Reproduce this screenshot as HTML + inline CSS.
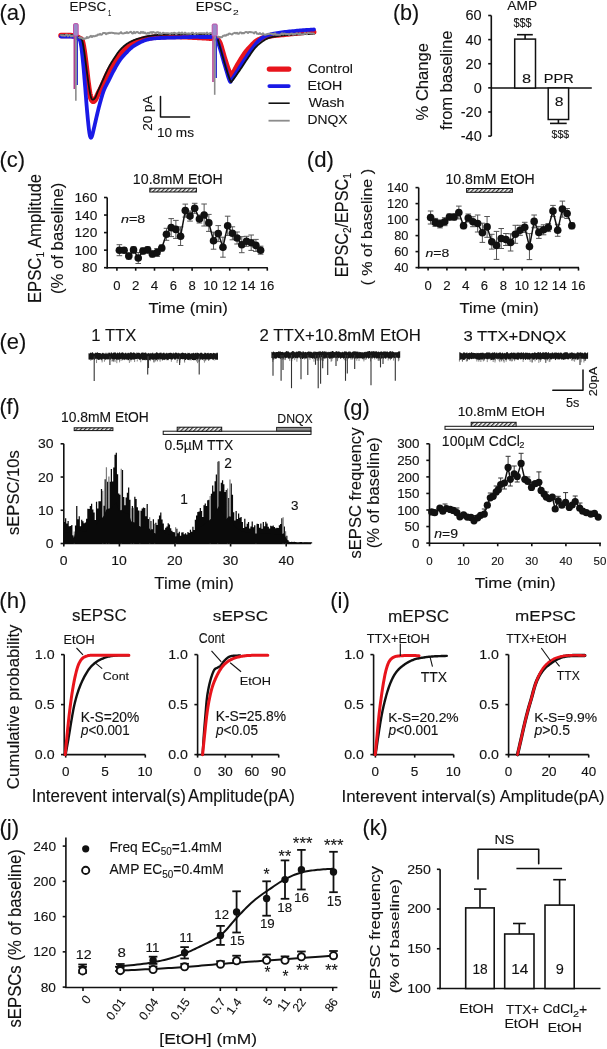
<!DOCTYPE html>
<html><head><meta charset="utf-8"><style>
html,body{margin:0;padding:0;background:#fff;width:607px;height:1049px;overflow:hidden}
svg{display:block;will-change:transform}
text{font-family:"Liberation Sans",sans-serif;stroke:#111;stroke-width:0.12px;paint-order:stroke}
</style></head><body>
<svg width="607" height="1049" viewBox="0 0 607 1049">
<defs>
<pattern id="hatch" patternUnits="userSpaceOnUse" width="3" height="3" patternTransform="rotate(45)">
<rect width="3" height="3" fill="#fff"/><rect width="1.3" height="3" fill="#333"/></pattern>
<pattern id="dots" patternUnits="userSpaceOnUse" width="2" height="2">
<rect width="2" height="2" fill="#bbb"/><rect width="1" height="1" fill="#555"/></pattern>
</defs>
<rect width="607" height="1049" fill="#fff"/>
<text x="-0.63" y="20.25" font-size="22.15" textLength="27.07" lengthAdjust="spacingAndGlyphs" fill="#111">(a)</text>
<text x="392.90" y="19.56" font-size="21.61" textLength="26.41" lengthAdjust="spacingAndGlyphs" fill="#111">(b)</text>
<text x="-0.62" y="166.77" font-size="22.04" textLength="25.70" lengthAdjust="spacingAndGlyphs" fill="#111">(c)</text>
<text x="306.87" y="167.05" font-size="22.15" textLength="27.07" lengthAdjust="spacingAndGlyphs" fill="#111">(d)</text>
<text x="-0.62" y="348.69" font-size="21.94" textLength="26.81" lengthAdjust="spacingAndGlyphs" fill="#111">(e)</text>
<text x="-0.60" y="414.16" font-size="21.61" textLength="20.40" lengthAdjust="spacingAndGlyphs" fill="#111">(f)</text>
<text x="342.88" y="415.09" font-size="21.94" textLength="26.81" lengthAdjust="spacingAndGlyphs" fill="#111">(g)</text>
<text x="-0.64" y="607.63" font-size="22.26" textLength="27.20" lengthAdjust="spacingAndGlyphs" fill="#111">(h)</text>
<text x="330.16" y="607.63" font-size="22.26" textLength="19.77" lengthAdjust="spacingAndGlyphs" fill="#111">(i)</text>
<text x="-0.64" y="835.00" font-size="22.37" textLength="19.86" lengthAdjust="spacingAndGlyphs" fill="#111">(j)</text>
<text x="362.60" y="834.76" font-size="21.61" textLength="25.20" lengthAdjust="spacingAndGlyphs" fill="#111">(k)</text>
<polyline points="61.00,35.50 61.74,35.51 62.73,35.51 63.91,35.51 65.22,35.51 66.62,35.51 68.06,35.53 69.46,35.56 70.79,35.61 71.99,35.69 73.00,35.80 73.86,35.94 74.63,36.11 75.34,36.31 75.98,36.53 76.56,36.76 77.10,37.01 77.61,37.26 78.09,37.51 78.55,37.76 79.00,38.00 79.43,38.21 79.81,38.37 80.15,38.51 80.46,38.64 80.75,38.79 81.02,38.98 81.27,39.23 81.51,39.55 81.75,39.97 82.00,40.50 82.24,41.14 82.46,41.86 82.67,42.66 82.87,43.53 83.06,44.47 83.25,45.47 83.43,46.53 83.62,47.64 83.80,48.80 84.00,50.00 84.20,51.27 84.40,52.62 84.60,54.03 84.80,55.51 85.00,57.03 85.20,58.59 85.40,60.18 85.60,61.78 85.80,63.39 86.00,65.00 86.20,66.64 86.40,68.34 86.60,70.08 86.80,71.85 87.00,73.62 87.20,75.39 87.40,77.13 87.60,78.82 87.80,80.45 88.00,82.00 88.20,83.49 88.39,84.97 88.58,86.41 88.78,87.82 88.97,89.19 89.16,90.50 89.36,91.74 89.57,92.91 89.78,94.00 90.00,95.00 90.23,95.92 90.47,96.76 90.71,97.53 90.96,98.24 91.22,98.88 91.48,99.44 91.73,99.94 91.99,100.36 92.25,100.72 92.50,101.00 92.75,101.21 92.99,101.33 93.23,101.37 93.48,101.34 93.72,101.25 93.96,101.10 94.21,100.89 94.47,100.63 94.73,100.33 95.00,100.00 95.28,99.61 95.55,99.15 95.83,98.63 96.12,98.06 96.41,97.44 96.70,96.78 97.01,96.10 97.33,95.41 97.66,94.70 98.00,94.00 98.36,93.29 98.74,92.54 99.13,91.78 99.53,90.99 99.94,90.19 100.35,89.37 100.77,88.54 101.18,87.70 101.60,86.85 102.00,86.00 102.40,85.14 102.80,84.25 103.20,83.34 103.60,82.42 104.00,81.50 104.40,80.58 104.80,79.66 105.20,78.75 105.60,77.86 106.00,77.00 106.40,76.16 106.78,75.34 107.17,74.53 107.55,73.73 107.94,72.94 108.33,72.15 108.73,71.37 109.14,70.58 109.56,69.80 110.00,69.00 110.46,68.20 110.94,67.38 111.43,66.57 111.93,65.75 112.44,64.94 112.95,64.13 113.47,63.33 113.98,62.54 114.50,61.76 115.00,61.00 115.50,60.26 115.98,59.52 116.47,58.80 116.95,58.08 117.44,57.38 117.93,56.68 118.43,55.99 118.94,55.32 119.46,54.66 120.00,54.00 120.55,53.36 121.12,52.72 121.70,52.09 122.28,51.48 122.88,50.88 123.48,50.28 124.09,49.70 124.72,49.12 125.36,48.55 126.00,48.00 126.65,47.45 127.30,46.91 127.96,46.38 128.63,45.86 129.31,45.34 130.01,44.84 130.72,44.36 131.46,43.89 132.21,43.43 133.00,43.00 133.82,42.58 134.69,42.18 135.58,41.78 136.50,41.41 137.44,41.04 138.38,40.70 139.31,40.37 140.23,40.06 141.13,39.77 142.00,39.50 142.83,39.25 143.63,39.03 144.41,38.84 145.18,38.66 145.94,38.49 146.70,38.34 147.48,38.20 148.29,38.07 149.12,37.93 150.00,37.80 150.90,37.67 151.79,37.54 152.70,37.43 153.62,37.32 154.56,37.21 155.54,37.12 156.57,37.03 157.65,36.94 158.79,36.87 160.00,36.80 161.30,36.74 162.68,36.68 164.13,36.63 165.64,36.59 167.19,36.56 168.76,36.53 170.34,36.51 171.92,36.50 173.48,36.49 175.00,36.50 176.50,36.52 178.00,36.54 179.50,36.58 181.00,36.63 182.50,36.68 184.00,36.74 185.50,36.80 187.00,36.87 188.50,36.93 190.00,37.00 191.54,37.07 193.14,37.15 194.78,37.23 196.43,37.31 198.06,37.40 199.65,37.49 201.16,37.57 202.58,37.65 203.86,37.73 205.00,37.80 205.99,37.86 206.87,37.93 207.65,37.99 208.34,38.05 208.94,38.10 209.46,38.15 209.92,38.20 210.33,38.24 210.68,38.27 211.00,38.30" fill="none" stroke="#e8141c" stroke-width="5.5" stroke-linejoin="round" stroke-linecap="round"/>
<polyline points="218.00,39.50 218.14,39.73 218.32,39.99 218.53,40.28 218.77,40.62 219.03,41.00 219.31,41.44 219.60,41.96 219.90,42.55 220.20,43.23 220.50,44.00 220.81,44.90 221.14,45.94 221.48,47.08 221.83,48.31 222.19,49.59 222.55,50.91 222.92,52.24 223.28,53.54 223.65,54.81 224.00,56.00 224.35,57.15 224.71,58.31 225.06,59.47 225.42,60.62 225.78,61.75 226.13,62.86 226.48,63.95 226.83,65.01 227.17,66.03 227.50,67.00 227.83,67.96 228.16,68.94 228.50,69.90 228.83,70.85 229.15,71.75 229.47,72.59 229.77,73.36 230.06,74.02 230.34,74.58 230.60,75.00 230.82,75.30 231.00,75.52 231.14,75.64 231.27,75.68 231.40,75.62 231.54,75.48 231.70,75.25 231.91,74.92 232.17,74.51 232.50,74.00 232.90,73.37 233.35,72.59 233.84,71.69 234.37,70.70 234.93,69.62 235.52,68.50 236.13,67.36 236.75,66.21 237.37,65.08 238.00,64.00 238.64,62.93 239.30,61.82 239.99,60.68 240.69,59.53 241.41,58.38 242.13,57.23 242.85,56.11 243.58,55.02 244.29,53.98 245.00,53.00 245.70,52.06 246.42,51.16 247.13,50.28 247.85,49.44 248.56,48.62 249.27,47.84 249.97,47.09 250.66,46.36 251.34,45.67 252.00,45.00 252.62,44.37 253.20,43.78 253.75,43.23 254.28,42.71 254.81,42.22 255.36,41.75 255.94,41.30 256.56,40.86 257.24,40.43 258.00,40.00 258.81,39.58 259.63,39.18 260.49,38.79 261.38,38.42 262.31,38.06 263.30,37.72 264.36,37.39 265.49,37.08 266.70,36.78 268.00,36.50 269.43,36.24 270.98,36.00 272.65,35.77 274.39,35.57 276.19,35.38 278.01,35.19 279.83,35.02 281.62,34.84 283.35,34.67 285.00,34.50 286.59,34.33 288.14,34.16 289.68,34.00 291.19,33.84 292.69,33.69 294.17,33.54 295.64,33.40 297.10,33.26 298.55,33.13 300.00,33.00 301.50,32.88 303.09,32.75 304.71,32.63 306.34,32.52 307.94,32.41 309.46,32.30 310.86,32.21 312.11,32.13 313.17,32.06 314.00,32.00" fill="none" stroke="#e8141c" stroke-width="5" stroke-linejoin="round" stroke-linecap="round"/>
<polyline points="61.00,36.50 61.74,36.51 62.73,36.51 63.91,36.51 65.22,36.51 66.62,36.51 68.06,36.53 69.46,36.56 70.79,36.61 71.99,36.69 73.00,36.80 73.86,36.93 74.65,37.06 75.37,37.20 76.02,37.36 76.62,37.54 77.18,37.76 77.68,38.00 78.15,38.29 78.59,38.62 79.00,39.00 79.36,39.40 79.66,39.78 79.89,40.17 80.09,40.60 80.25,41.08 80.39,41.63 80.53,42.27 80.66,43.04 80.82,43.94 81.00,45.00 81.20,46.23 81.40,47.60 81.60,49.10 81.80,50.72 82.00,52.44 82.20,54.24 82.40,56.11 82.60,58.04 82.80,60.01 83.00,62.00 83.20,64.05 83.40,66.18 83.60,68.40 83.80,70.67 84.00,73.00 84.20,75.37 84.40,77.76 84.60,80.18 84.80,82.59 85.00,85.00 85.20,87.44 85.40,89.95 85.60,92.51 85.80,95.10 86.00,97.69 86.20,100.26 86.40,102.80 86.60,105.29 86.80,107.69 87.00,110.00 87.20,112.26 87.41,114.52 87.62,116.77 87.82,118.97 88.03,121.11 88.24,123.15 88.44,125.09 88.63,126.89 88.82,128.54 89.00,130.00 89.17,131.28 89.33,132.41 89.49,133.39 89.64,134.25 89.78,134.98 89.92,135.61 90.07,136.14 90.21,136.59 90.35,136.98 90.50,137.30 90.65,137.55 90.79,137.70 90.93,137.75 91.08,137.72 91.22,137.61 91.36,137.42 91.51,137.15 91.67,136.83 91.83,136.44 92.00,136.00 92.18,135.49 92.35,134.91 92.53,134.25 92.72,133.52 92.91,132.73 93.10,131.88 93.31,130.98 93.53,130.03 93.76,129.03 94.00,128.00 94.26,126.90 94.54,125.70 94.83,124.44 95.13,123.11 95.44,121.75 95.75,120.37 96.07,118.98 96.38,117.62 96.70,116.28 97.00,115.00 97.30,113.76 97.58,112.55 97.87,111.36 98.15,110.18 98.44,109.00 98.73,107.82 99.03,106.64 99.34,105.45 99.66,104.24 100.00,103.00 100.35,101.73 100.72,100.42 101.09,99.08 101.48,97.73 101.88,96.38 102.28,95.03 102.70,93.71 103.12,92.42 103.56,91.18 104.00,90.00 104.46,88.88 104.94,87.81 105.43,86.78 105.93,85.78 106.44,84.81 106.95,83.86 107.47,82.91 107.98,81.95 108.50,80.99 109.00,80.00 109.50,79.00 109.98,78.00 110.47,77.00 110.95,76.00 111.44,75.00 111.93,74.00 112.43,73.00 112.94,72.00 113.46,71.00 114.00,70.00 114.56,68.99 115.14,67.95 115.73,66.91 116.33,65.86 116.94,64.81 117.55,63.78 118.17,62.78 118.78,61.81 119.40,60.88 120.00,60.00 120.60,59.18 121.18,58.40 121.77,57.66 122.35,56.96 122.94,56.28 123.53,55.62 124.13,54.97 124.74,54.32 125.36,53.67 126.00,53.00 126.65,52.32 127.30,51.64 127.96,50.97 128.63,50.29 129.31,49.62 130.01,48.97 130.72,48.32 131.46,47.70 132.21,47.09 133.00,46.50 133.82,45.93 134.69,45.36 135.58,44.81 136.50,44.27 137.44,43.75 138.38,43.25 139.31,42.77 140.23,42.32 141.13,41.89 142.00,41.50 142.83,41.14 143.63,40.82 144.41,40.52 145.18,40.25 145.94,40.00 146.70,39.77 147.48,39.56 148.29,39.36 149.12,39.18 150.00,39.00 150.90,38.84 151.79,38.70 152.70,38.57 153.62,38.47 154.56,38.38 155.54,38.29 156.57,38.22 157.65,38.14 158.79,38.07 160.00,38.00 161.30,37.93 162.68,37.87 164.13,37.81 165.64,37.76 167.19,37.72 168.76,37.68 170.34,37.63 171.92,37.59 173.48,37.55 175.00,37.50 176.50,37.45 178.00,37.39 179.50,37.33 181.00,37.28 182.50,37.22 184.00,37.16 185.50,37.11 187.00,37.07 188.50,37.03 190.00,37.00 191.54,36.98 193.14,36.97 194.78,36.96 196.43,36.96 198.06,36.97 199.65,36.98 201.16,36.98 202.58,36.99 203.86,37.00 205.00,37.00 205.99,37.00 206.87,37.00 207.65,37.00 208.34,37.00 208.94,37.00 209.46,37.00 209.92,37.00 210.33,37.00 210.68,37.00 211.00,37.00" fill="none" stroke="#1a1ae6" stroke-width="3.8" stroke-linejoin="round" stroke-linecap="round"/>
<polyline points="217.30,40.00 217.52,40.70 217.80,41.60 218.13,42.66 218.50,43.84 218.90,45.12 219.32,46.48 219.75,47.88 220.18,49.28 220.60,50.66 221.00,52.00 221.39,53.32 221.77,54.66 222.16,56.03 222.55,57.43 222.94,58.84 223.34,60.26 223.75,61.69 224.16,63.13 224.57,64.57 225.00,66.00 225.45,67.50 225.92,69.12 226.42,70.81 226.93,72.53 227.43,74.21 227.93,75.83 228.40,77.32 228.84,78.64 229.25,79.75 229.60,80.60 229.88,81.20 230.08,81.60 230.22,81.83 230.33,81.91 230.43,81.84 230.54,81.65 230.68,81.35 230.87,80.96 231.14,80.51 231.50,80.00 231.96,79.39 232.50,78.62 233.10,77.72 233.74,76.72 234.43,75.65 235.14,74.52 235.87,73.37 236.59,72.21 237.31,71.08 238.00,70.00 238.68,68.94 239.37,67.85 240.06,66.74 240.76,65.62 241.47,64.50 242.18,63.38 242.88,62.26 243.59,61.15 244.30,60.06 245.00,59.00 245.70,57.96 246.38,56.93 247.07,55.91 247.75,54.90 248.44,53.91 249.13,52.92 249.83,51.93 250.54,50.95 251.26,49.98 252.00,49.00 252.75,48.01 253.50,47.00 254.26,45.97 255.03,44.95 255.81,43.94 256.61,42.95 257.42,42.00 258.26,41.10 259.11,40.27 260.00,39.50 260.90,38.81 261.79,38.17 262.70,37.59 263.62,37.06 264.56,36.56 265.54,36.10 266.57,35.67 267.65,35.27 268.79,34.88 270.00,34.50 271.30,34.14 272.68,33.82 274.13,33.53 275.64,33.27 277.19,33.03 278.76,32.81 280.34,32.60 281.92,32.40 283.48,32.20 285.00,32.00 286.50,31.81 288.02,31.63 289.53,31.46 291.05,31.30 292.56,31.16 294.07,31.02 295.57,30.88 297.06,30.75 298.54,30.63 300.00,30.50 301.50,30.38 303.09,30.25 304.71,30.13 306.34,30.02 307.94,29.91 309.46,29.80 310.86,29.71 312.11,29.63 313.17,29.56 314.00,29.50" fill="none" stroke="#1a1ae6" stroke-width="3.8" stroke-linejoin="round" stroke-linecap="round"/>
<polyline points="61.00,35.00 61.74,34.99 62.73,34.96 63.91,34.92 65.22,34.88 66.62,34.84 68.06,34.82 69.46,34.82 70.79,34.84 71.99,34.90 73.00,35.00 73.86,35.15 74.63,35.34 75.34,35.57 75.98,35.82 76.56,36.09 77.10,36.38 77.61,36.67 78.09,36.96 78.55,37.24 79.00,37.50 79.43,37.72 79.81,37.88 80.15,38.01 80.46,38.14 80.75,38.28 81.02,38.46 81.27,38.70 81.51,39.02 81.75,39.45 82.00,40.00 82.24,40.67 82.46,41.44 82.67,42.29 82.87,43.22 83.06,44.22 83.25,45.28 83.43,46.40 83.62,47.56 83.80,48.76 84.00,50.00 84.20,51.30 84.40,52.68 84.60,54.13 84.80,55.64 85.00,57.19 85.20,58.76 85.40,60.34 85.60,61.92 85.80,63.48 86.00,65.00 86.20,66.51 86.40,68.03 86.60,69.56 86.80,71.10 87.00,72.62 87.20,74.14 87.40,75.65 87.60,77.13 87.80,78.58 88.00,80.00 88.20,81.41 88.40,82.84 88.60,84.26 88.80,85.67 89.00,87.04 89.20,88.38 89.40,89.66 89.60,90.86 89.80,91.98 90.00,93.00 90.20,93.94 90.38,94.81 90.57,95.62 90.75,96.37 90.94,97.04 91.13,97.65 91.33,98.18 91.54,98.63 91.76,99.01 92.00,99.30 92.26,99.50 92.54,99.62 92.83,99.65 93.13,99.60 93.44,99.48 93.75,99.30 94.07,99.05 94.38,98.75 94.70,98.40 95.00,98.00 95.30,97.54 95.58,97.00 95.87,96.38 96.15,95.71 96.44,94.98 96.73,94.22 97.03,93.43 97.34,92.62 97.66,91.81 98.00,91.00 98.36,90.18 98.74,89.33 99.13,88.45 99.53,87.54 99.94,86.62 100.35,85.70 100.77,84.76 101.18,83.83 101.60,82.91 102.00,82.00 102.40,81.10 102.80,80.18 103.20,79.27 103.60,78.35 104.00,77.44 104.40,76.53 104.80,75.63 105.20,74.74 105.60,73.86 106.00,73.00 106.40,72.16 106.78,71.34 107.17,70.53 107.55,69.73 107.94,68.94 108.33,68.15 108.73,67.37 109.14,66.58 109.56,65.80 110.00,65.00 110.46,64.20 110.94,63.38 111.43,62.57 111.93,61.75 112.44,60.94 112.95,60.13 113.47,59.33 113.98,58.54 114.50,57.76 115.00,57.00 115.50,56.25 115.98,55.51 116.47,54.78 116.95,54.06 117.44,53.34 117.93,52.64 118.43,51.96 118.94,51.29 119.46,50.63 120.00,50.00 120.55,49.38 121.12,48.78 121.70,48.19 122.28,47.62 122.88,47.06 123.48,46.52 124.09,45.99 124.72,45.48 125.36,44.98 126.00,44.50 126.65,44.03 127.30,43.59 127.96,43.16 128.63,42.74 129.31,42.34 130.01,41.96 130.72,41.58 131.46,41.21 132.21,40.85 133.00,40.50 133.82,40.15 134.69,39.82 135.58,39.49 136.50,39.17 137.44,38.86 138.38,38.56 139.31,38.27 140.23,38.00 141.13,37.74 142.00,37.50 142.83,37.27 143.63,37.07 144.41,36.87 145.18,36.69 145.94,36.52 146.70,36.37 147.48,36.22 148.29,36.07 149.12,35.94 150.00,35.80 150.90,35.67 151.79,35.55 152.70,35.43 153.62,35.33 154.56,35.22 155.54,35.13 156.57,35.04 157.65,34.96 158.79,34.88 160.00,34.80 161.30,34.73 162.68,34.66 164.13,34.60 165.64,34.54 167.19,34.49 168.76,34.45 170.34,34.40 171.92,34.37 173.48,34.33 175.00,34.30 176.50,34.27 178.00,34.25 179.50,34.24 181.00,34.23 182.50,34.22 184.00,34.21 185.50,34.21 187.00,34.21 188.50,34.20 190.00,34.20 191.54,34.20 193.14,34.19 194.78,34.19 196.43,34.19 198.06,34.19 199.65,34.20 201.16,34.20 202.58,34.20 203.86,34.20 205.00,34.20 205.99,34.20 206.87,34.20 207.65,34.20 208.34,34.20 208.94,34.20 209.46,34.20 209.92,34.20 210.33,34.20 210.68,34.20 211.00,34.20" fill="none" stroke="#111" stroke-width="1.8" stroke-linejoin="round" stroke-linecap="round"/>
<polyline points="218.00,40.00 218.24,40.83 218.54,41.90 218.91,43.17 219.31,44.59 219.75,46.12 220.21,47.73 220.67,49.36 221.14,50.98 221.58,52.54 222.00,54.00 222.40,55.40 222.79,56.82 223.18,58.23 223.58,59.65 223.97,61.06 224.36,62.47 224.76,63.87 225.17,65.26 225.58,66.64 226.00,68.00 226.44,69.40 226.91,70.88 227.39,72.40 227.88,73.92 228.38,75.41 228.86,76.82 229.32,78.12 229.75,79.28 230.15,80.25 230.50,81.00 230.78,81.54 230.97,81.92 231.11,82.16 231.22,82.25 231.31,82.22 231.42,82.07 231.57,81.81 231.79,81.46 232.09,81.02 232.50,80.50 233.03,79.86 233.64,79.06 234.33,78.13 235.08,77.09 235.88,75.97 236.70,74.79 237.54,73.58 238.38,72.36 239.21,71.16 240.00,70.00 240.78,68.86 241.57,67.68 242.36,66.48 243.16,65.26 243.97,64.03 244.78,62.80 245.58,61.57 246.39,60.36 247.20,59.17 248.00,58.00 248.79,56.84 249.57,55.68 250.35,54.52 251.12,53.36 251.90,52.22 252.68,51.10 253.48,50.01 254.30,48.96 255.14,47.95 256.00,47.00 256.90,46.09 257.82,45.20 258.77,44.35 259.73,43.53 260.71,42.75 261.70,42.01 262.68,41.31 263.67,40.66 264.64,40.05 265.60,39.50 266.52,39.01 267.40,38.59 268.26,38.23 269.11,37.91 269.96,37.64 270.85,37.39 271.77,37.16 272.76,36.94 273.83,36.73 275.00,36.50 276.23,36.27 277.50,36.07 278.80,35.87 280.16,35.69 281.59,35.52 283.08,35.37 284.66,35.22 286.33,35.07 288.11,34.94 290.00,34.80 292.14,34.67 294.61,34.54 297.29,34.42 300.10,34.30 302.94,34.19 305.70,34.09 308.28,34.00 310.59,33.92 312.53,33.86 314.00,33.80" fill="none" stroke="#111" stroke-width="1.8" stroke-linejoin="round" stroke-linecap="round"/>
<polyline points="61.00,35.03 62.00,35.58 63.00,35.27 64.00,35.69 65.00,35.73 66.00,34.72 67.00,34.62 68.00,36.11 69.00,35.07 70.00,35.02 71.00,36.39 72.00,35.45 73.00,36.11" fill="none" stroke="#8c8c8c" stroke-width="2" stroke-linejoin="round" stroke-linecap="round"/>
<polyline points="79.00,37.46 80.00,37.95 81.00,37.27 82.00,38.34 83.00,38.96 84.00,38.54 85.00,38.68 86.00,38.31 87.00,36.97 88.00,37.96 89.00,37.41 90.00,36.64 91.00,35.86 92.00,37.06 93.00,36.05 94.00,36.19 95.00,36.18 96.00,35.59 97.00,35.66 98.00,34.41 99.00,34.84 100.00,33.90 101.00,34.68 102.00,34.48 103.00,32.98 104.00,32.94 105.00,32.99 106.00,34.24 107.00,33.19 108.00,33.43 109.00,32.74 110.00,33.01 111.00,32.77 112.00,32.68 113.00,33.08 114.00,33.05 115.00,33.60 116.00,33.18 117.00,33.60 118.00,33.44 119.00,33.66 120.00,33.06 121.00,32.12 122.00,33.35 123.00,33.51 124.00,33.38 125.00,32.75 126.00,32.98 127.00,32.06 128.00,33.15 129.00,32.66 130.00,32.11 131.00,31.73 132.00,33.17 133.00,33.43 134.00,31.83 135.00,33.12 136.00,32.44 137.00,31.99 138.00,32.26 139.00,33.13 140.00,33.34 141.00,31.86 142.00,32.91 143.00,31.90 144.00,33.13 145.00,32.45 146.00,33.45 147.00,33.65 148.00,32.81 149.00,33.71 150.00,32.49 151.00,32.09 152.00,33.05 153.00,32.04 154.00,32.36 155.00,32.75 156.00,33.13 157.00,32.33 158.00,32.14 159.00,33.65 160.00,32.66 161.00,33.84 162.00,33.75 163.00,32.83 164.00,33.00 165.00,33.12 166.00,33.36 167.00,33.29 168.00,33.24 169.00,33.37 170.00,33.96 171.00,33.20 172.00,33.08 173.00,33.61 174.00,32.76 175.00,32.89 176.00,34.13 177.00,33.32 178.00,33.39 179.00,32.44 180.00,33.18 181.00,33.49 182.00,32.50 183.00,33.59 184.00,33.64 185.00,32.62 186.00,33.66 187.00,33.39 188.00,33.79 189.00,33.22 190.00,33.87 191.00,33.93 192.00,32.64 193.00,32.71 194.00,33.82 195.00,34.33 196.00,33.05 197.00,33.42 198.00,33.67 199.00,33.18 200.00,33.26 201.00,33.16 202.00,33.26 203.00,33.67 204.00,33.14 205.00,33.28 206.00,33.99 207.00,32.65 208.00,33.62 209.00,33.92 210.00,33.16 211.00,33.00" fill="none" stroke="#8c8c8c" stroke-width="2" stroke-linejoin="round" stroke-linecap="round"/>
<polyline points="218.00,36.55 219.00,37.20 220.00,37.12 221.00,37.17 222.00,37.25 223.00,35.78 224.00,35.72 225.00,35.28 226.00,35.72 227.00,34.55 228.00,34.84 229.00,33.50 230.00,33.71 231.00,34.17 232.00,34.49 233.00,33.61 234.00,33.11 235.00,32.82 236.00,33.45 237.00,32.74 238.00,33.75 239.00,33.71 240.00,32.43 241.00,32.53 242.00,33.41 243.00,33.05 244.00,33.27 245.00,32.37 246.00,31.91 247.00,32.14 248.00,32.97 249.00,31.96 250.00,32.02 251.00,32.24 252.00,32.34 253.00,32.41 254.00,33.42 255.00,32.13 256.00,31.95 257.00,33.73 258.00,33.70 259.00,33.99 260.00,33.08 261.00,34.21 262.00,34.37 263.00,33.30 264.00,34.44 265.00,34.81 266.00,34.49 267.00,34.22 268.00,33.80 269.00,33.88 270.00,33.67 271.00,33.37 272.00,34.30 273.00,33.75 274.00,34.69 275.00,33.30 276.00,34.84 277.00,34.45 278.00,34.86 279.00,34.80 280.00,34.80 281.00,34.21 282.00,33.19 283.00,34.50 284.00,33.46 285.00,33.68 286.00,34.33 287.00,34.07 288.00,33.86 289.00,34.80 290.00,34.20 291.00,33.69 292.00,33.51 293.00,34.59 294.00,33.88 295.00,34.40 296.00,33.61 297.00,33.31 298.00,33.90 299.00,34.38 300.00,33.20 301.00,34.30 302.00,34.51 303.00,34.28 304.00,34.29 305.00,32.80 306.00,33.90 307.00,34.30 308.00,32.81 309.00,33.19 310.00,33.17 311.00,33.61 312.00,33.40 313.00,33.47 314.00,34.00" fill="none" stroke="#8c8c8c" stroke-width="2" stroke-linejoin="round" stroke-linecap="round"/>
<line x1="74.30" y1="36.00" x2="74.30" y2="89.00" stroke="#b04090" stroke-width="1.6"/>
<line x1="77.20" y1="36.00" x2="77.20" y2="85.00" stroke="#3030d0" stroke-width="1.6"/>
<line x1="75.85" y1="36.00" x2="75.85" y2="100.70" stroke="#8c8c8c" stroke-width="1.6"/>
<rect x="73.50" y="23.60" width="4.70" height="12.40" rx="1.2" fill="#9b8ac8" stroke="#c050a8" stroke-width="1"/>
<line x1="213.00" y1="36.00" x2="213.00" y2="82.00" stroke="#b04090" stroke-width="1.6"/>
<line x1="216.20" y1="36.00" x2="216.20" y2="78.00" stroke="#3030d0" stroke-width="1.6"/>
<line x1="214.70" y1="36.00" x2="214.70" y2="94.80" stroke="#8c8c8c" stroke-width="1.6"/>
<rect x="212.20" y="24.00" width="5.00" height="12.00" rx="1.2" fill="#9b8ac8" stroke="#c050a8" stroke-width="1"/>
<line x1="269.30" y1="69.10" x2="288.80" y2="69.10" stroke="#e8141c" stroke-width="5.2" stroke-linecap="round"/>
<line x1="269.30" y1="86.10" x2="288.80" y2="86.10" stroke="#1a1ae6" stroke-width="3.7" stroke-linecap="round"/>
<line x1="268.50" y1="103.20" x2="289.70" y2="103.20" stroke="#111" stroke-width="1.6"/>
<line x1="268.50" y1="120.70" x2="289.70" y2="120.70" stroke="#8c8c8c" stroke-width="1.8"/>
<text x="307.70" y="73.47" font-size="13.29" textLength="45.09" lengthAdjust="spacingAndGlyphs" fill="#111">Control</text>
<text x="307.57" y="90.47" font-size="13.24" textLength="34.64" lengthAdjust="spacingAndGlyphs" fill="#111">EtOH</text>
<text x="308.70" y="107.27" font-size="12.88" textLength="35.78" lengthAdjust="spacingAndGlyphs" fill="#111">Wash</text>
<text x="307.59" y="124.20" font-size="13.62" textLength="40.01" lengthAdjust="spacingAndGlyphs" fill="#111">DNQX</text>
<polyline points="160.50,96.50 160.50,117.00 189.60,117.00" fill="none" stroke="#111" stroke-width="1.5" stroke-linejoin="round" stroke-linecap="round"/>
<text transform="translate(152.00,130.67) rotate(-90)" font-size="12.86" textLength="35.11" lengthAdjust="spacingAndGlyphs" fill="#111">20 pA</text>
<text x="156.91" y="136.67" font-size="12.68" textLength="37.07" lengthAdjust="spacingAndGlyphs" fill="#111">10 ms</text>
<text x="69.62" y="10.78" font-size="12.25" textLength="36.66" lengthAdjust="spacingAndGlyphs" fill="#111">EPSC</text>
<text x="108.03" y="15.60" font-size="8.99" textLength="3.23" lengthAdjust="spacingAndGlyphs" fill="#111">1</text>
<text x="195.84" y="10.77" font-size="12.54" textLength="36.24" lengthAdjust="spacingAndGlyphs" fill="#111">EPSC</text>
<text x="232.99" y="15.30" font-size="7.71" textLength="5.68" lengthAdjust="spacingAndGlyphs" fill="#111">2</text>
<line x1="491.30" y1="15.50" x2="491.30" y2="136.10" stroke="#111" stroke-width="1.6"/>
<line x1="488.20" y1="15.50" x2="491.30" y2="15.50" stroke="#111" stroke-width="1.6"/>
<text x="465.53" y="20.41" font-size="14.23" textLength="16.14" lengthAdjust="spacingAndGlyphs" fill="#111">60</text>
<line x1="488.20" y1="39.62" x2="491.30" y2="39.62" stroke="#111" stroke-width="1.6"/>
<text x="465.53" y="44.53" font-size="14.23" textLength="16.14" lengthAdjust="spacingAndGlyphs" fill="#111">40</text>
<line x1="488.20" y1="63.74" x2="491.30" y2="63.74" stroke="#111" stroke-width="1.6"/>
<text x="465.53" y="68.65" font-size="14.23" textLength="16.14" lengthAdjust="spacingAndGlyphs" fill="#111">20</text>
<line x1="488.20" y1="87.86" x2="491.30" y2="87.86" stroke="#111" stroke-width="1.6"/>
<text x="473.65" y="92.77" font-size="14.23" textLength="8.07" lengthAdjust="spacingAndGlyphs" fill="#111">0</text>
<line x1="488.20" y1="111.98" x2="491.30" y2="111.98" stroke="#111" stroke-width="1.6"/>
<text x="460.74" y="116.89" font-size="14.23" textLength="20.97" lengthAdjust="spacingAndGlyphs" fill="#111">-20</text>
<line x1="488.20" y1="136.10" x2="491.30" y2="136.10" stroke="#111" stroke-width="1.6"/>
<text x="460.74" y="141.01" font-size="14.23" textLength="20.97" lengthAdjust="spacingAndGlyphs" fill="#111">-40</text>
<line x1="491.30" y1="88.00" x2="591.80" y2="88.00" stroke="#111" stroke-width="1.6"/>
<rect x="514.70" y="39.10" width="20.80" height="48.90" fill="#fff" stroke="#111" stroke-width="1.5"/>
<line x1="525.10" y1="39.10" x2="525.10" y2="34.70" stroke="#111" stroke-width="1.6"/>
<line x1="517.00" y1="34.70" x2="532.80" y2="34.70" stroke="#111" stroke-width="1.6"/>
<rect x="548.20" y="88.00" width="20.40" height="31.50" fill="#fff" stroke="#111" stroke-width="1.5"/>
<line x1="558.40" y1="119.50" x2="558.40" y2="123.40" stroke="#111" stroke-width="1.6"/>
<line x1="550.00" y1="123.40" x2="566.70" y2="123.40" stroke="#111" stroke-width="1.6"/>
<text x="507.30" y="10.40" font-size="13.33" textLength="29.85" lengthAdjust="spacingAndGlyphs" fill="#111">AMP</text>
<text x="513.39" y="27.07" font-size="11.85" textLength="18.21" lengthAdjust="spacingAndGlyphs" fill="#111">$$$</text>
<text x="522.14" y="82.76" font-size="13.66" textLength="9.11" lengthAdjust="spacingAndGlyphs" fill="#111">8</text>
<text x="543.84" y="83.30" font-size="13.19" textLength="29.88" lengthAdjust="spacingAndGlyphs" fill="#111">PPR</text>
<text x="554.87" y="105.86" font-size="13.52" textLength="8.76" lengthAdjust="spacingAndGlyphs" fill="#111">8</text>
<text x="551.59" y="138.49" font-size="10.12" textLength="17.60" lengthAdjust="spacingAndGlyphs" fill="#111">$$$</text>
<text transform="translate(427.57,120.40) rotate(-90)" font-size="16.34" textLength="77.32" lengthAdjust="spacingAndGlyphs" fill="#111">% Change</text>
<text transform="translate(452.33,129.97) rotate(-90)" font-size="17.26" textLength="99.37" lengthAdjust="spacingAndGlyphs" fill="#111">from baseline</text>
<line x1="107.20" y1="197.50" x2="107.20" y2="268.50" stroke="#111" stroke-width="1.6"/>
<line x1="106.40" y1="267.70" x2="267.80" y2="267.70" stroke="#111" stroke-width="1.6"/>
<line x1="104.00" y1="197.50" x2="107.20" y2="197.50" stroke="#111" stroke-width="1.6"/>
<text x="74.53" y="202.21" font-size="13.66" textLength="22.79" lengthAdjust="spacingAndGlyphs" fill="#111">160</text>
<line x1="104.00" y1="215.05" x2="107.20" y2="215.05" stroke="#111" stroke-width="1.6"/>
<text x="74.53" y="219.76" font-size="13.66" textLength="22.79" lengthAdjust="spacingAndGlyphs" fill="#111">140</text>
<line x1="104.00" y1="232.60" x2="107.20" y2="232.60" stroke="#111" stroke-width="1.6"/>
<text x="74.53" y="237.31" font-size="13.66" textLength="22.79" lengthAdjust="spacingAndGlyphs" fill="#111">120</text>
<line x1="104.00" y1="250.15" x2="107.20" y2="250.15" stroke="#111" stroke-width="1.6"/>
<text x="74.53" y="254.86" font-size="13.66" textLength="22.79" lengthAdjust="spacingAndGlyphs" fill="#111">100</text>
<line x1="104.00" y1="267.70" x2="107.20" y2="267.70" stroke="#111" stroke-width="1.6"/>
<text x="82.05" y="272.41" font-size="13.66" textLength="15.19" lengthAdjust="spacingAndGlyphs" fill="#111">80</text>
<line x1="116.90" y1="267.70" x2="116.90" y2="270.70" stroke="#111" stroke-width="1.6"/>
<text x="113.23" y="289.67" font-size="13.10" textLength="7.28" lengthAdjust="spacingAndGlyphs" fill="#111">0</text>
<line x1="135.70" y1="267.70" x2="135.70" y2="270.70" stroke="#111" stroke-width="1.6"/>
<text x="131.98" y="289.80" font-size="13.29" textLength="7.39" lengthAdjust="spacingAndGlyphs" fill="#111">2</text>
<line x1="154.50" y1="267.70" x2="154.50" y2="270.70" stroke="#111" stroke-width="1.6"/>
<text x="150.79" y="289.80" font-size="13.48" textLength="7.50" lengthAdjust="spacingAndGlyphs" fill="#111">4</text>
<line x1="173.30" y1="267.70" x2="173.30" y2="270.70" stroke="#111" stroke-width="1.6"/>
<text x="169.63" y="289.67" font-size="13.10" textLength="7.28" lengthAdjust="spacingAndGlyphs" fill="#111">6</text>
<line x1="192.10" y1="267.70" x2="192.10" y2="270.70" stroke="#111" stroke-width="1.6"/>
<text x="188.50" y="289.67" font-size="13.10" textLength="7.28" lengthAdjust="spacingAndGlyphs" fill="#111">8</text>
<line x1="210.90" y1="267.70" x2="210.90" y2="270.70" stroke="#111" stroke-width="1.6"/>
<text x="203.30" y="289.67" font-size="13.10" textLength="14.57" lengthAdjust="spacingAndGlyphs" fill="#111">10</text>
<line x1="229.70" y1="267.70" x2="229.70" y2="270.70" stroke="#111" stroke-width="1.6"/>
<text x="222.06" y="289.80" font-size="13.29" textLength="14.78" lengthAdjust="spacingAndGlyphs" fill="#111">12</text>
<line x1="248.50" y1="267.70" x2="248.50" y2="270.70" stroke="#111" stroke-width="1.6"/>
<text x="240.62" y="289.80" font-size="13.48" textLength="14.99" lengthAdjust="spacingAndGlyphs" fill="#111">14</text>
<line x1="267.30" y1="267.70" x2="267.30" y2="270.70" stroke="#111" stroke-width="1.6"/>
<text x="259.77" y="289.67" font-size="13.10" textLength="14.57" lengthAdjust="spacingAndGlyphs" fill="#111">16</text>
<line x1="119.40" y1="244.70" x2="119.40" y2="255.70" stroke="#555" stroke-width="1"/>
<line x1="116.60" y1="244.70" x2="122.20" y2="244.70" stroke="#555" stroke-width="1"/>
<line x1="116.60" y1="255.70" x2="122.20" y2="255.70" stroke="#555" stroke-width="1"/>
<line x1="124.11" y1="247.70" x2="124.11" y2="252.70" stroke="#555" stroke-width="1"/>
<line x1="121.31" y1="247.70" x2="126.91" y2="247.70" stroke="#555" stroke-width="1"/>
<line x1="121.31" y1="252.70" x2="126.91" y2="252.70" stroke="#555" stroke-width="1"/>
<line x1="128.81" y1="253.10" x2="128.81" y2="259.10" stroke="#555" stroke-width="1"/>
<line x1="126.01" y1="253.10" x2="131.61" y2="253.10" stroke="#555" stroke-width="1"/>
<line x1="126.01" y1="259.10" x2="131.61" y2="259.10" stroke="#555" stroke-width="1"/>
<line x1="133.52" y1="246.90" x2="133.52" y2="252.90" stroke="#555" stroke-width="1"/>
<line x1="130.72" y1="246.90" x2="136.32" y2="246.90" stroke="#555" stroke-width="1"/>
<line x1="130.72" y1="252.90" x2="136.32" y2="252.90" stroke="#555" stroke-width="1"/>
<line x1="138.23" y1="252.50" x2="138.23" y2="263.50" stroke="#555" stroke-width="1"/>
<line x1="135.43" y1="252.50" x2="141.03" y2="252.50" stroke="#555" stroke-width="1"/>
<line x1="135.43" y1="263.50" x2="141.03" y2="263.50" stroke="#555" stroke-width="1"/>
<line x1="142.94" y1="248.00" x2="142.94" y2="254.00" stroke="#555" stroke-width="1"/>
<line x1="140.13" y1="248.00" x2="145.74" y2="248.00" stroke="#555" stroke-width="1"/>
<line x1="140.13" y1="254.00" x2="145.74" y2="254.00" stroke="#555" stroke-width="1"/>
<line x1="147.64" y1="246.90" x2="147.64" y2="252.90" stroke="#555" stroke-width="1"/>
<line x1="144.84" y1="246.90" x2="150.44" y2="246.90" stroke="#555" stroke-width="1"/>
<line x1="144.84" y1="252.90" x2="150.44" y2="252.90" stroke="#555" stroke-width="1"/>
<line x1="152.35" y1="251.00" x2="152.35" y2="257.00" stroke="#555" stroke-width="1"/>
<line x1="149.55" y1="251.00" x2="155.15" y2="251.00" stroke="#555" stroke-width="1"/>
<line x1="149.55" y1="257.00" x2="155.15" y2="257.00" stroke="#555" stroke-width="1"/>
<line x1="157.06" y1="248.50" x2="157.06" y2="256.50" stroke="#555" stroke-width="1"/>
<line x1="154.26" y1="248.50" x2="159.86" y2="248.50" stroke="#555" stroke-width="1"/>
<line x1="154.26" y1="256.50" x2="159.86" y2="256.50" stroke="#555" stroke-width="1"/>
<line x1="161.76" y1="245.00" x2="161.76" y2="251.00" stroke="#555" stroke-width="1"/>
<line x1="158.96" y1="245.00" x2="164.56" y2="245.00" stroke="#555" stroke-width="1"/>
<line x1="158.96" y1="251.00" x2="164.56" y2="251.00" stroke="#555" stroke-width="1"/>
<line x1="166.47" y1="228.30" x2="166.47" y2="240.30" stroke="#555" stroke-width="1"/>
<line x1="163.67" y1="228.30" x2="169.27" y2="228.30" stroke="#555" stroke-width="1"/>
<line x1="163.67" y1="240.30" x2="169.27" y2="240.30" stroke="#555" stroke-width="1"/>
<line x1="171.18" y1="218.60" x2="171.18" y2="236.60" stroke="#555" stroke-width="1"/>
<line x1="168.38" y1="218.60" x2="173.98" y2="218.60" stroke="#555" stroke-width="1"/>
<line x1="168.38" y1="236.60" x2="173.98" y2="236.60" stroke="#555" stroke-width="1"/>
<line x1="175.88" y1="220.40" x2="175.88" y2="238.40" stroke="#555" stroke-width="1"/>
<line x1="173.08" y1="220.40" x2="178.68" y2="220.40" stroke="#555" stroke-width="1"/>
<line x1="173.08" y1="238.40" x2="178.68" y2="238.40" stroke="#555" stroke-width="1"/>
<line x1="180.59" y1="226.90" x2="180.59" y2="245.50" stroke="#555" stroke-width="1"/>
<line x1="177.79" y1="226.90" x2="183.39" y2="226.90" stroke="#555" stroke-width="1"/>
<line x1="177.79" y1="245.50" x2="183.39" y2="245.50" stroke="#555" stroke-width="1"/>
<line x1="185.30" y1="204.10" x2="185.30" y2="217.10" stroke="#555" stroke-width="1"/>
<line x1="182.50" y1="204.10" x2="188.10" y2="204.10" stroke="#555" stroke-width="1"/>
<line x1="182.50" y1="217.10" x2="188.10" y2="217.10" stroke="#555" stroke-width="1"/>
<line x1="190.00" y1="211.10" x2="190.00" y2="221.10" stroke="#555" stroke-width="1"/>
<line x1="187.20" y1="211.10" x2="192.81" y2="211.10" stroke="#555" stroke-width="1"/>
<line x1="187.20" y1="221.10" x2="192.81" y2="221.10" stroke="#555" stroke-width="1"/>
<line x1="194.71" y1="203.30" x2="194.71" y2="213.30" stroke="#555" stroke-width="1"/>
<line x1="191.91" y1="203.30" x2="197.51" y2="203.30" stroke="#555" stroke-width="1"/>
<line x1="191.91" y1="213.30" x2="197.51" y2="213.30" stroke="#555" stroke-width="1"/>
<line x1="199.42" y1="215.00" x2="199.42" y2="223.00" stroke="#555" stroke-width="1"/>
<line x1="196.62" y1="215.00" x2="202.22" y2="215.00" stroke="#555" stroke-width="1"/>
<line x1="196.62" y1="223.00" x2="202.22" y2="223.00" stroke="#555" stroke-width="1"/>
<line x1="204.13" y1="204.00" x2="204.13" y2="226.00" stroke="#555" stroke-width="1"/>
<line x1="201.33" y1="204.00" x2="206.93" y2="204.00" stroke="#555" stroke-width="1"/>
<line x1="201.33" y1="226.00" x2="206.93" y2="226.00" stroke="#555" stroke-width="1"/>
<line x1="208.83" y1="214.40" x2="208.83" y2="231.40" stroke="#555" stroke-width="1"/>
<line x1="206.03" y1="214.40" x2="211.63" y2="214.40" stroke="#555" stroke-width="1"/>
<line x1="206.03" y1="231.40" x2="211.63" y2="231.40" stroke="#555" stroke-width="1"/>
<line x1="213.54" y1="232.20" x2="213.54" y2="249.20" stroke="#555" stroke-width="1"/>
<line x1="210.74" y1="232.20" x2="216.34" y2="232.20" stroke="#555" stroke-width="1"/>
<line x1="210.74" y1="249.20" x2="216.34" y2="249.20" stroke="#555" stroke-width="1"/>
<line x1="218.25" y1="225.60" x2="218.25" y2="241.60" stroke="#555" stroke-width="1"/>
<line x1="215.45" y1="225.60" x2="221.05" y2="225.60" stroke="#555" stroke-width="1"/>
<line x1="215.45" y1="241.60" x2="221.05" y2="241.60" stroke="#555" stroke-width="1"/>
<line x1="222.95" y1="237.20" x2="222.95" y2="257.20" stroke="#555" stroke-width="1"/>
<line x1="220.15" y1="237.20" x2="225.75" y2="237.20" stroke="#555" stroke-width="1"/>
<line x1="220.15" y1="257.20" x2="225.75" y2="257.20" stroke="#555" stroke-width="1"/>
<line x1="227.66" y1="216.20" x2="227.66" y2="235.40" stroke="#555" stroke-width="1"/>
<line x1="224.86" y1="216.20" x2="230.46" y2="216.20" stroke="#555" stroke-width="1"/>
<line x1="224.86" y1="235.40" x2="230.46" y2="235.40" stroke="#555" stroke-width="1"/>
<line x1="232.37" y1="226.80" x2="232.37" y2="239.80" stroke="#555" stroke-width="1"/>
<line x1="229.57" y1="226.80" x2="235.17" y2="226.80" stroke="#555" stroke-width="1"/>
<line x1="229.57" y1="239.80" x2="235.17" y2="239.80" stroke="#555" stroke-width="1"/>
<line x1="237.07" y1="232.00" x2="237.07" y2="244.00" stroke="#555" stroke-width="1"/>
<line x1="234.27" y1="232.00" x2="239.88" y2="232.00" stroke="#555" stroke-width="1"/>
<line x1="234.27" y1="244.00" x2="239.88" y2="244.00" stroke="#555" stroke-width="1"/>
<line x1="241.78" y1="236.70" x2="241.78" y2="252.70" stroke="#555" stroke-width="1"/>
<line x1="238.98" y1="236.70" x2="244.58" y2="236.70" stroke="#555" stroke-width="1"/>
<line x1="238.98" y1="252.70" x2="244.58" y2="252.70" stroke="#555" stroke-width="1"/>
<line x1="246.49" y1="236.30" x2="246.49" y2="246.30" stroke="#555" stroke-width="1"/>
<line x1="243.69" y1="236.30" x2="249.29" y2="236.30" stroke="#555" stroke-width="1"/>
<line x1="243.69" y1="246.30" x2="249.29" y2="246.30" stroke="#555" stroke-width="1"/>
<line x1="251.20" y1="235.00" x2="251.20" y2="250.40" stroke="#555" stroke-width="1"/>
<line x1="248.40" y1="235.00" x2="254.00" y2="235.00" stroke="#555" stroke-width="1"/>
<line x1="248.40" y1="250.40" x2="254.00" y2="250.40" stroke="#555" stroke-width="1"/>
<line x1="255.90" y1="239.40" x2="255.90" y2="251.40" stroke="#555" stroke-width="1"/>
<line x1="253.10" y1="239.40" x2="258.70" y2="239.40" stroke="#555" stroke-width="1"/>
<line x1="253.10" y1="251.40" x2="258.70" y2="251.40" stroke="#555" stroke-width="1"/>
<line x1="260.61" y1="246.20" x2="260.61" y2="254.20" stroke="#555" stroke-width="1"/>
<line x1="257.81" y1="246.20" x2="263.41" y2="246.20" stroke="#555" stroke-width="1"/>
<line x1="257.81" y1="254.20" x2="263.41" y2="254.20" stroke="#555" stroke-width="1"/>
<polyline points="119.40,250.20 124.11,250.20 128.81,256.10 133.52,249.90 138.23,258.00 142.94,251.00 147.64,249.90 152.35,254.00 157.06,252.50 161.76,248.00 166.47,234.30 171.18,227.60 175.88,229.40 180.59,236.20 185.30,210.60 190.00,216.10 194.71,208.30 199.42,219.00 204.13,215.00 208.83,222.90 213.54,240.70 218.25,233.60 222.95,247.20 227.66,225.80 232.37,233.30 237.07,238.00 241.78,244.70 246.49,241.30 251.20,242.70 255.90,245.40 260.61,250.20" fill="none" stroke="#111" stroke-width="1.5" stroke-linejoin="round" stroke-linecap="round"/>
<circle cx="119.40" cy="250.20" r="3.8" fill="#111" stroke="none" stroke-width="0"/>
<circle cx="124.11" cy="250.20" r="3.8" fill="#111" stroke="none" stroke-width="0"/>
<circle cx="128.81" cy="256.10" r="3.8" fill="#111" stroke="none" stroke-width="0"/>
<circle cx="133.52" cy="249.90" r="3.8" fill="#111" stroke="none" stroke-width="0"/>
<circle cx="138.23" cy="258.00" r="3.8" fill="#111" stroke="none" stroke-width="0"/>
<circle cx="142.94" cy="251.00" r="3.8" fill="#111" stroke="none" stroke-width="0"/>
<circle cx="147.64" cy="249.90" r="3.8" fill="#111" stroke="none" stroke-width="0"/>
<circle cx="152.35" cy="254.00" r="3.8" fill="#111" stroke="none" stroke-width="0"/>
<circle cx="157.06" cy="252.50" r="3.8" fill="#111" stroke="none" stroke-width="0"/>
<circle cx="161.76" cy="248.00" r="3.8" fill="#111" stroke="none" stroke-width="0"/>
<circle cx="166.47" cy="234.30" r="3.8" fill="#111" stroke="none" stroke-width="0"/>
<circle cx="171.18" cy="227.60" r="3.8" fill="#111" stroke="none" stroke-width="0"/>
<circle cx="175.88" cy="229.40" r="3.8" fill="#111" stroke="none" stroke-width="0"/>
<circle cx="180.59" cy="236.20" r="3.8" fill="#111" stroke="none" stroke-width="0"/>
<circle cx="185.30" cy="210.60" r="3.8" fill="#111" stroke="none" stroke-width="0"/>
<circle cx="190.00" cy="216.10" r="3.8" fill="#111" stroke="none" stroke-width="0"/>
<circle cx="194.71" cy="208.30" r="3.8" fill="#111" stroke="none" stroke-width="0"/>
<circle cx="199.42" cy="219.00" r="3.8" fill="#111" stroke="none" stroke-width="0"/>
<circle cx="204.13" cy="215.00" r="3.8" fill="#111" stroke="none" stroke-width="0"/>
<circle cx="208.83" cy="222.90" r="3.8" fill="#111" stroke="none" stroke-width="0"/>
<circle cx="213.54" cy="240.70" r="3.8" fill="#111" stroke="none" stroke-width="0"/>
<circle cx="218.25" cy="233.60" r="3.8" fill="#111" stroke="none" stroke-width="0"/>
<circle cx="222.95" cy="247.20" r="3.8" fill="#111" stroke="none" stroke-width="0"/>
<circle cx="227.66" cy="225.80" r="3.8" fill="#111" stroke="none" stroke-width="0"/>
<circle cx="232.37" cy="233.30" r="3.8" fill="#111" stroke="none" stroke-width="0"/>
<circle cx="237.07" cy="238.00" r="3.8" fill="#111" stroke="none" stroke-width="0"/>
<circle cx="241.78" cy="244.70" r="3.8" fill="#111" stroke="none" stroke-width="0"/>
<circle cx="246.49" cy="241.30" r="3.8" fill="#111" stroke="none" stroke-width="0"/>
<circle cx="251.20" cy="242.70" r="3.8" fill="#111" stroke="none" stroke-width="0"/>
<circle cx="255.90" cy="245.40" r="3.8" fill="#111" stroke="none" stroke-width="0"/>
<circle cx="260.61" cy="250.20" r="3.8" fill="#111" stroke="none" stroke-width="0"/>
<line x1="418.70" y1="187.60" x2="418.70" y2="268.40" stroke="#111" stroke-width="1.6"/>
<line x1="417.90" y1="267.60" x2="579.00" y2="267.60" stroke="#111" stroke-width="1.6"/>
<line x1="415.50" y1="187.60" x2="418.70" y2="187.60" stroke="#111" stroke-width="1.6"/>
<text x="387.11" y="192.02" font-size="12.82" textLength="21.38" lengthAdjust="spacingAndGlyphs" fill="#111">140</text>
<line x1="415.50" y1="203.60" x2="418.70" y2="203.60" stroke="#111" stroke-width="1.6"/>
<text x="387.11" y="208.02" font-size="12.82" textLength="21.38" lengthAdjust="spacingAndGlyphs" fill="#111">120</text>
<line x1="415.50" y1="219.60" x2="418.70" y2="219.60" stroke="#111" stroke-width="1.6"/>
<text x="387.11" y="224.02" font-size="12.82" textLength="21.38" lengthAdjust="spacingAndGlyphs" fill="#111">100</text>
<line x1="415.50" y1="235.60" x2="418.70" y2="235.60" stroke="#111" stroke-width="1.6"/>
<text x="394.16" y="240.02" font-size="12.82" textLength="14.25" lengthAdjust="spacingAndGlyphs" fill="#111">80</text>
<line x1="415.50" y1="251.60" x2="418.70" y2="251.60" stroke="#111" stroke-width="1.6"/>
<text x="394.16" y="256.02" font-size="12.82" textLength="14.25" lengthAdjust="spacingAndGlyphs" fill="#111">60</text>
<line x1="415.50" y1="267.60" x2="418.70" y2="267.60" stroke="#111" stroke-width="1.6"/>
<text x="394.16" y="272.02" font-size="12.82" textLength="14.25" lengthAdjust="spacingAndGlyphs" fill="#111">40</text>
<line x1="428.10" y1="267.60" x2="428.10" y2="270.60" stroke="#111" stroke-width="1.6"/>
<text x="424.43" y="289.67" font-size="13.10" textLength="7.28" lengthAdjust="spacingAndGlyphs" fill="#111">0</text>
<line x1="446.90" y1="267.60" x2="446.90" y2="270.60" stroke="#111" stroke-width="1.6"/>
<text x="443.18" y="289.80" font-size="13.29" textLength="7.39" lengthAdjust="spacingAndGlyphs" fill="#111">2</text>
<line x1="465.70" y1="267.60" x2="465.70" y2="270.60" stroke="#111" stroke-width="1.6"/>
<text x="461.99" y="289.80" font-size="13.48" textLength="7.50" lengthAdjust="spacingAndGlyphs" fill="#111">4</text>
<line x1="484.50" y1="267.60" x2="484.50" y2="270.60" stroke="#111" stroke-width="1.6"/>
<text x="480.83" y="289.67" font-size="13.10" textLength="7.28" lengthAdjust="spacingAndGlyphs" fill="#111">6</text>
<line x1="503.30" y1="267.60" x2="503.30" y2="270.60" stroke="#111" stroke-width="1.6"/>
<text x="499.70" y="289.67" font-size="13.10" textLength="7.28" lengthAdjust="spacingAndGlyphs" fill="#111">8</text>
<line x1="522.10" y1="267.60" x2="522.10" y2="270.60" stroke="#111" stroke-width="1.6"/>
<text x="514.50" y="289.67" font-size="13.10" textLength="14.57" lengthAdjust="spacingAndGlyphs" fill="#111">10</text>
<line x1="540.90" y1="267.60" x2="540.90" y2="270.60" stroke="#111" stroke-width="1.6"/>
<text x="533.26" y="289.80" font-size="13.29" textLength="14.78" lengthAdjust="spacingAndGlyphs" fill="#111">12</text>
<line x1="559.70" y1="267.60" x2="559.70" y2="270.60" stroke="#111" stroke-width="1.6"/>
<text x="551.82" y="289.80" font-size="13.48" textLength="14.99" lengthAdjust="spacingAndGlyphs" fill="#111">14</text>
<line x1="578.50" y1="267.60" x2="578.50" y2="270.60" stroke="#111" stroke-width="1.6"/>
<text x="570.97" y="289.67" font-size="13.10" textLength="14.57" lengthAdjust="spacingAndGlyphs" fill="#111">16</text>
<line x1="430.60" y1="211.00" x2="430.60" y2="224.00" stroke="#555" stroke-width="1"/>
<line x1="427.80" y1="211.00" x2="433.40" y2="211.00" stroke="#555" stroke-width="1"/>
<line x1="427.80" y1="224.00" x2="433.40" y2="224.00" stroke="#555" stroke-width="1"/>
<line x1="435.31" y1="218.40" x2="435.31" y2="226.40" stroke="#555" stroke-width="1"/>
<line x1="432.51" y1="218.40" x2="438.11" y2="218.40" stroke="#555" stroke-width="1"/>
<line x1="432.51" y1="226.40" x2="438.11" y2="226.40" stroke="#555" stroke-width="1"/>
<line x1="440.01" y1="219.90" x2="440.01" y2="227.90" stroke="#555" stroke-width="1"/>
<line x1="437.21" y1="219.90" x2="442.81" y2="219.90" stroke="#555" stroke-width="1"/>
<line x1="437.21" y1="227.90" x2="442.81" y2="227.90" stroke="#555" stroke-width="1"/>
<line x1="444.72" y1="217.70" x2="444.72" y2="225.70" stroke="#555" stroke-width="1"/>
<line x1="441.92" y1="217.70" x2="447.52" y2="217.70" stroke="#555" stroke-width="1"/>
<line x1="441.92" y1="225.70" x2="447.52" y2="225.70" stroke="#555" stroke-width="1"/>
<line x1="449.43" y1="214.00" x2="449.43" y2="220.00" stroke="#555" stroke-width="1"/>
<line x1="446.63" y1="214.00" x2="452.23" y2="214.00" stroke="#555" stroke-width="1"/>
<line x1="446.63" y1="220.00" x2="452.23" y2="220.00" stroke="#555" stroke-width="1"/>
<line x1="454.14" y1="214.00" x2="454.14" y2="220.00" stroke="#555" stroke-width="1"/>
<line x1="451.34" y1="214.00" x2="456.94" y2="214.00" stroke="#555" stroke-width="1"/>
<line x1="451.34" y1="220.00" x2="456.94" y2="220.00" stroke="#555" stroke-width="1"/>
<line x1="458.84" y1="206.10" x2="458.84" y2="218.90" stroke="#555" stroke-width="1"/>
<line x1="456.04" y1="206.10" x2="461.64" y2="206.10" stroke="#555" stroke-width="1"/>
<line x1="456.04" y1="218.90" x2="461.64" y2="218.90" stroke="#555" stroke-width="1"/>
<line x1="463.55" y1="222.70" x2="463.55" y2="228.70" stroke="#555" stroke-width="1"/>
<line x1="460.75" y1="222.70" x2="466.35" y2="222.70" stroke="#555" stroke-width="1"/>
<line x1="460.75" y1="228.70" x2="466.35" y2="228.70" stroke="#555" stroke-width="1"/>
<line x1="468.26" y1="214.00" x2="468.26" y2="222.00" stroke="#555" stroke-width="1"/>
<line x1="465.46" y1="214.00" x2="471.06" y2="214.00" stroke="#555" stroke-width="1"/>
<line x1="465.46" y1="222.00" x2="471.06" y2="222.00" stroke="#555" stroke-width="1"/>
<line x1="472.96" y1="216.70" x2="472.96" y2="226.70" stroke="#555" stroke-width="1"/>
<line x1="470.16" y1="216.70" x2="475.76" y2="216.70" stroke="#555" stroke-width="1"/>
<line x1="470.16" y1="226.70" x2="475.76" y2="226.70" stroke="#555" stroke-width="1"/>
<line x1="477.67" y1="215.00" x2="477.67" y2="232.00" stroke="#555" stroke-width="1"/>
<line x1="474.87" y1="215.00" x2="480.47" y2="215.00" stroke="#555" stroke-width="1"/>
<line x1="474.87" y1="232.00" x2="480.47" y2="232.00" stroke="#555" stroke-width="1"/>
<line x1="482.38" y1="223.20" x2="482.38" y2="242.40" stroke="#555" stroke-width="1"/>
<line x1="479.58" y1="223.20" x2="485.18" y2="223.20" stroke="#555" stroke-width="1"/>
<line x1="479.58" y1="242.40" x2="485.18" y2="242.40" stroke="#555" stroke-width="1"/>
<line x1="487.08" y1="216.50" x2="487.08" y2="237.30" stroke="#555" stroke-width="1"/>
<line x1="484.28" y1="216.50" x2="489.88" y2="216.50" stroke="#555" stroke-width="1"/>
<line x1="484.28" y1="237.30" x2="489.88" y2="237.30" stroke="#555" stroke-width="1"/>
<line x1="491.79" y1="234.30" x2="491.79" y2="249.10" stroke="#555" stroke-width="1"/>
<line x1="488.99" y1="234.30" x2="494.59" y2="234.30" stroke="#555" stroke-width="1"/>
<line x1="488.99" y1="249.10" x2="494.59" y2="249.10" stroke="#555" stroke-width="1"/>
<line x1="496.50" y1="231.40" x2="496.50" y2="259.40" stroke="#555" stroke-width="1"/>
<line x1="493.70" y1="231.40" x2="499.30" y2="231.40" stroke="#555" stroke-width="1"/>
<line x1="493.70" y1="259.40" x2="499.30" y2="259.40" stroke="#555" stroke-width="1"/>
<line x1="501.21" y1="228.50" x2="501.21" y2="248.50" stroke="#555" stroke-width="1"/>
<line x1="498.41" y1="228.50" x2="504.01" y2="228.50" stroke="#555" stroke-width="1"/>
<line x1="498.41" y1="248.50" x2="504.01" y2="248.50" stroke="#555" stroke-width="1"/>
<line x1="505.91" y1="233.50" x2="505.91" y2="245.50" stroke="#555" stroke-width="1"/>
<line x1="503.11" y1="233.50" x2="508.71" y2="233.50" stroke="#555" stroke-width="1"/>
<line x1="503.11" y1="245.50" x2="508.71" y2="245.50" stroke="#555" stroke-width="1"/>
<line x1="510.62" y1="233.80" x2="510.62" y2="251.00" stroke="#555" stroke-width="1"/>
<line x1="507.82" y1="233.80" x2="513.42" y2="233.80" stroke="#555" stroke-width="1"/>
<line x1="507.82" y1="251.00" x2="513.42" y2="251.00" stroke="#555" stroke-width="1"/>
<line x1="515.33" y1="225.30" x2="515.33" y2="243.30" stroke="#555" stroke-width="1"/>
<line x1="512.53" y1="225.30" x2="518.13" y2="225.30" stroke="#555" stroke-width="1"/>
<line x1="512.53" y1="243.30" x2="518.13" y2="243.30" stroke="#555" stroke-width="1"/>
<line x1="520.03" y1="225.30" x2="520.03" y2="235.30" stroke="#555" stroke-width="1"/>
<line x1="517.23" y1="225.30" x2="522.83" y2="225.30" stroke="#555" stroke-width="1"/>
<line x1="517.23" y1="235.30" x2="522.83" y2="235.30" stroke="#555" stroke-width="1"/>
<line x1="524.74" y1="222.30" x2="524.74" y2="232.30" stroke="#555" stroke-width="1"/>
<line x1="521.94" y1="222.30" x2="527.54" y2="222.30" stroke="#555" stroke-width="1"/>
<line x1="521.94" y1="232.30" x2="527.54" y2="232.30" stroke="#555" stroke-width="1"/>
<line x1="529.45" y1="233.60" x2="529.45" y2="259.60" stroke="#555" stroke-width="1"/>
<line x1="526.65" y1="233.60" x2="532.25" y2="233.60" stroke="#555" stroke-width="1"/>
<line x1="526.65" y1="259.60" x2="532.25" y2="259.60" stroke="#555" stroke-width="1"/>
<line x1="534.15" y1="215.00" x2="534.15" y2="227.80" stroke="#555" stroke-width="1"/>
<line x1="531.35" y1="215.00" x2="536.95" y2="215.00" stroke="#555" stroke-width="1"/>
<line x1="531.35" y1="227.80" x2="536.95" y2="227.80" stroke="#555" stroke-width="1"/>
<line x1="538.86" y1="226.40" x2="538.86" y2="238.40" stroke="#555" stroke-width="1"/>
<line x1="536.06" y1="226.40" x2="541.66" y2="226.40" stroke="#555" stroke-width="1"/>
<line x1="536.06" y1="238.40" x2="541.66" y2="238.40" stroke="#555" stroke-width="1"/>
<line x1="543.57" y1="224.80" x2="543.57" y2="234.80" stroke="#555" stroke-width="1"/>
<line x1="540.77" y1="224.80" x2="546.37" y2="224.80" stroke="#555" stroke-width="1"/>
<line x1="540.77" y1="234.80" x2="546.37" y2="234.80" stroke="#555" stroke-width="1"/>
<line x1="548.27" y1="223.60" x2="548.27" y2="231.60" stroke="#555" stroke-width="1"/>
<line x1="545.48" y1="223.60" x2="551.07" y2="223.60" stroke="#555" stroke-width="1"/>
<line x1="545.48" y1="231.60" x2="551.07" y2="231.60" stroke="#555" stroke-width="1"/>
<line x1="552.98" y1="205.40" x2="552.98" y2="216.60" stroke="#555" stroke-width="1"/>
<line x1="550.18" y1="205.40" x2="555.78" y2="205.40" stroke="#555" stroke-width="1"/>
<line x1="550.18" y1="216.60" x2="555.78" y2="216.60" stroke="#555" stroke-width="1"/>
<line x1="557.69" y1="224.30" x2="557.69" y2="236.30" stroke="#555" stroke-width="1"/>
<line x1="554.89" y1="224.30" x2="560.49" y2="224.30" stroke="#555" stroke-width="1"/>
<line x1="554.89" y1="236.30" x2="560.49" y2="236.30" stroke="#555" stroke-width="1"/>
<line x1="562.40" y1="201.10" x2="562.40" y2="217.10" stroke="#555" stroke-width="1"/>
<line x1="559.60" y1="201.10" x2="565.20" y2="201.10" stroke="#555" stroke-width="1"/>
<line x1="559.60" y1="217.10" x2="565.20" y2="217.10" stroke="#555" stroke-width="1"/>
<line x1="567.10" y1="208.50" x2="567.10" y2="218.50" stroke="#555" stroke-width="1"/>
<line x1="564.30" y1="208.50" x2="569.90" y2="208.50" stroke="#555" stroke-width="1"/>
<line x1="564.30" y1="218.50" x2="569.90" y2="218.50" stroke="#555" stroke-width="1"/>
<line x1="571.81" y1="222.80" x2="571.81" y2="228.80" stroke="#555" stroke-width="1"/>
<line x1="569.01" y1="222.80" x2="574.61" y2="222.80" stroke="#555" stroke-width="1"/>
<line x1="569.01" y1="228.80" x2="574.61" y2="228.80" stroke="#555" stroke-width="1"/>
<polyline points="430.60,217.50 435.31,222.40 440.01,223.90 444.72,221.70 449.43,217.00 454.14,217.00 458.84,212.50 463.55,225.70 468.26,218.00 472.96,221.70 477.67,223.50 482.38,232.80 487.08,226.90 491.79,241.70 496.50,245.40 501.21,238.50 505.91,239.50 510.62,242.40 515.33,234.30 520.03,230.30 524.74,227.30 529.45,246.60 534.15,221.40 538.86,232.40 543.57,229.80 548.27,227.60 552.98,211.00 557.69,230.30 562.40,209.10 567.10,213.50 571.81,225.80" fill="none" stroke="#111" stroke-width="1.5" stroke-linejoin="round" stroke-linecap="round"/>
<circle cx="430.60" cy="217.50" r="3.8" fill="#111" stroke="none" stroke-width="0"/>
<circle cx="435.31" cy="222.40" r="3.8" fill="#111" stroke="none" stroke-width="0"/>
<circle cx="440.01" cy="223.90" r="3.8" fill="#111" stroke="none" stroke-width="0"/>
<circle cx="444.72" cy="221.70" r="3.8" fill="#111" stroke="none" stroke-width="0"/>
<circle cx="449.43" cy="217.00" r="3.8" fill="#111" stroke="none" stroke-width="0"/>
<circle cx="454.14" cy="217.00" r="3.8" fill="#111" stroke="none" stroke-width="0"/>
<circle cx="458.84" cy="212.50" r="3.8" fill="#111" stroke="none" stroke-width="0"/>
<circle cx="463.55" cy="225.70" r="3.8" fill="#111" stroke="none" stroke-width="0"/>
<circle cx="468.26" cy="218.00" r="3.8" fill="#111" stroke="none" stroke-width="0"/>
<circle cx="472.96" cy="221.70" r="3.8" fill="#111" stroke="none" stroke-width="0"/>
<circle cx="477.67" cy="223.50" r="3.8" fill="#111" stroke="none" stroke-width="0"/>
<circle cx="482.38" cy="232.80" r="3.8" fill="#111" stroke="none" stroke-width="0"/>
<circle cx="487.08" cy="226.90" r="3.8" fill="#111" stroke="none" stroke-width="0"/>
<circle cx="491.79" cy="241.70" r="3.8" fill="#111" stroke="none" stroke-width="0"/>
<circle cx="496.50" cy="245.40" r="3.8" fill="#111" stroke="none" stroke-width="0"/>
<circle cx="501.21" cy="238.50" r="3.8" fill="#111" stroke="none" stroke-width="0"/>
<circle cx="505.91" cy="239.50" r="3.8" fill="#111" stroke="none" stroke-width="0"/>
<circle cx="510.62" cy="242.40" r="3.8" fill="#111" stroke="none" stroke-width="0"/>
<circle cx="515.33" cy="234.30" r="3.8" fill="#111" stroke="none" stroke-width="0"/>
<circle cx="520.03" cy="230.30" r="3.8" fill="#111" stroke="none" stroke-width="0"/>
<circle cx="524.74" cy="227.30" r="3.8" fill="#111" stroke="none" stroke-width="0"/>
<circle cx="529.45" cy="246.60" r="3.8" fill="#111" stroke="none" stroke-width="0"/>
<circle cx="534.15" cy="221.40" r="3.8" fill="#111" stroke="none" stroke-width="0"/>
<circle cx="538.86" cy="232.40" r="3.8" fill="#111" stroke="none" stroke-width="0"/>
<circle cx="543.57" cy="229.80" r="3.8" fill="#111" stroke="none" stroke-width="0"/>
<circle cx="548.27" cy="227.60" r="3.8" fill="#111" stroke="none" stroke-width="0"/>
<circle cx="552.98" cy="211.00" r="3.8" fill="#111" stroke="none" stroke-width="0"/>
<circle cx="557.69" cy="230.30" r="3.8" fill="#111" stroke="none" stroke-width="0"/>
<circle cx="562.40" cy="209.10" r="3.8" fill="#111" stroke="none" stroke-width="0"/>
<circle cx="567.10" cy="213.50" r="3.8" fill="#111" stroke="none" stroke-width="0"/>
<circle cx="571.81" cy="225.80" r="3.8" fill="#111" stroke="none" stroke-width="0"/>
<text x="132.86" y="183.55" font-size="14.65" textLength="89.94" lengthAdjust="spacingAndGlyphs" fill="#111">10.8mM EtOH</text>
<rect x="149.80" y="188.20" width="46.60" height="3.80" fill="url(#hatch)" stroke="#111" stroke-width="1"/>
<text x="148.46" y="312.98" font-size="14.84" textLength="79.44" lengthAdjust="spacingAndGlyphs" fill="#111">Time (min)</text>
<text x="120.99" y="223.08" font-size="11.55" textLength="24.37" lengthAdjust="spacingAndGlyphs" fill="#111"><tspan font-style="italic">n</tspan>=8</text>
<text x="445.47" y="183.55" font-size="14.65" textLength="89.32" lengthAdjust="spacingAndGlyphs" fill="#111">10.8mM EtOH</text>
<rect x="466.60" y="188.50" width="45.80" height="3.80" fill="url(#hatch)" stroke="#111" stroke-width="1"/>
<text x="459.46" y="312.98" font-size="14.84" textLength="79.44" lengthAdjust="spacingAndGlyphs" fill="#111">Time (min)</text>
<text x="425.52" y="257.08" font-size="11.55" textLength="23.83" lengthAdjust="spacingAndGlyphs" fill="#111"><tspan font-style="italic">n</tspan>=8</text>
<text transform="translate(40.6,303) rotate(-90)" font-size="17.6" textLength="129" lengthAdjust="spacingAndGlyphs" fill="#111">EPSC<tspan font-size="11" dy="3">1</tspan><tspan dy="-3"> Amplitude</tspan></text>
<text transform="translate(63.11,294.00) rotate(-90)" font-size="16.13" textLength="111.40" lengthAdjust="spacingAndGlyphs" fill="#111">(% of baseline)</text>
<text transform="translate(347.9,277.2) rotate(-90)" font-size="17.6" textLength="104" lengthAdjust="spacingAndGlyphs" fill="#111">EPSC<tspan font-size="11" dy="3.5">2</tspan><tspan dy="-3.5">/EPSC</tspan><tspan font-size="11" dy="3.5">1</tspan></text>
<text transform="translate(371.53,285.57) rotate(-90)" font-size="14.62" textLength="116.62" lengthAdjust="spacingAndGlyphs" fill="#111">( % of baseline )</text>
<text x="91.37" y="341.00" font-size="16.09" textLength="44.93" lengthAdjust="spacingAndGlyphs" fill="#111">1 TTX</text>
<text x="259.56" y="340.63" font-size="16.76" textLength="161.43" lengthAdjust="spacingAndGlyphs" fill="#111">2 TTX+10.8mM EtOH</text>
<text x="463.53" y="341.15" font-size="15.21" textLength="102.93" lengthAdjust="spacingAndGlyphs" fill="#111">3 TTX+DNQX</text>
<path d="M88.50,352.92 L89.20,353.68 L89.90,353.01 L90.60,352.50 L91.30,353.21 L92.00,352.35 L92.70,352.35 L93.40,353.31 L94.10,353.77 L94.80,353.25 L95.50,352.45 L96.20,353.05 L96.90,352.50 L97.60,352.25 L98.30,352.90 L99.00,353.03 L99.70,353.00 L100.40,352.93 L101.10,353.80 L101.80,353.54 L102.50,352.70 L103.20,352.66 L103.90,353.43 L104.60,353.55 L105.30,353.73 L106.00,352.20 L106.70,353.66 L107.40,353.77 L108.10,352.32 L108.80,353.45 L109.50,352.34 L110.20,353.74 L110.90,352.39 L111.60,352.36 L112.30,353.48 L113.00,353.09 L113.70,352.51 L114.40,352.41 L115.10,352.39 L115.80,352.54 L116.50,353.75 L117.20,352.69 L117.90,352.54 L118.60,353.57 L119.30,352.36 L120.00,352.54 L120.70,353.44 L121.40,352.67 L122.10,352.34 L122.80,352.59 L123.50,352.79 L124.20,353.73 L124.90,353.12 L125.60,352.49 L126.30,353.65 L127.00,352.60 L127.70,353.38 L128.40,352.51 L129.10,353.61 L129.80,352.87 L130.50,352.26 L131.20,352.58 L131.90,352.61 L132.60,353.15 L133.30,352.48 L134.00,352.31 L134.70,353.09 L135.40,353.18 L136.10,353.67 L136.80,352.23 L137.50,352.91 L138.20,352.48 L138.90,353.12 L139.60,352.78 L140.30,353.77 L141.00,353.31 L141.70,352.42 L142.40,352.23 L143.10,353.32 L143.80,352.23 L144.50,352.97 L145.20,352.71 L145.90,352.32 L146.60,353.38 L147.30,353.38 L148.00,353.47 L148.70,352.76 L149.40,353.64 L150.10,352.87 L150.80,353.58 L151.50,353.20 L152.20,353.13 L152.90,352.33 L153.60,353.79 L154.30,353.37 L155.00,353.38 L155.70,352.90 L156.40,352.33 L157.10,352.25 L157.80,352.97 L158.50,353.32 L159.20,353.18 L159.90,352.61 L160.60,352.68 L161.30,352.52 L162.00,353.65 L162.70,352.91 L163.40,352.72 L164.10,352.52 L164.80,353.49 L165.50,353.61 L166.20,353.13 L166.90,352.42 L167.60,353.54 L168.30,353.34 L169.00,352.64 L169.70,352.92 L170.40,352.54 L171.10,353.20 L171.80,352.70 L172.50,353.77 L173.20,352.32 L173.90,353.60 L174.60,353.33 L175.30,352.69 L176.00,352.23 L176.70,352.93 L177.40,353.53 L178.10,352.43 L178.80,353.21 L179.50,353.21 L180.20,353.49 L180.90,353.30 L181.60,352.96 L182.30,352.22 L183.00,353.34 L183.70,352.64 L184.40,353.32 L185.10,353.18 L185.80,352.83 L186.50,353.65 L187.20,353.69 L187.90,352.41 L188.60,353.20 L189.30,352.80 L190.00,353.61 L190.70,353.71 L191.40,353.24 L192.10,353.36 L192.80,353.23 L193.50,352.54 L194.20,353.77 L194.90,353.06 L195.60,352.71 L196.30,353.57 L197.00,352.33 L197.70,353.08 L198.40,352.98 L199.10,353.49 L199.80,353.48 L200.50,352.74 L201.20,352.42 L201.90,353.03 L202.60,353.54 L203.30,353.71 L204.00,353.72 L204.70,352.55 L205.40,352.66 L206.10,353.22 L206.80,353.55 L207.50,352.70 L208.20,353.55 L208.90,352.53 L209.60,353.75 L210.30,353.12 L211.00,353.06 L211.70,353.17 L212.40,353.75 L213.10,352.84 L213.80,353.10 L214.50,353.31 L215.20,353.06 L215.90,353.73 L216.60,352.63 L217.30,352.40 L218.00,353.51 L218.00,360.22 L217.30,359.38 L216.60,359.45 L215.90,360.26 L215.20,359.34 L214.50,358.72 L213.80,359.48 L213.10,360.04 L212.40,359.53 L211.70,358.65 L211.00,359.51 L210.30,358.96 L209.60,359.54 L208.90,360.13 L208.20,360.22 L207.50,359.29 L206.80,359.61 L206.10,359.54 L205.40,359.91 L204.70,359.55 L204.00,358.75 L203.30,359.49 L202.60,359.84 L201.90,359.90 L201.20,358.87 L200.50,360.02 L199.80,358.91 L199.10,358.72 L198.40,358.65 L197.70,359.98 L197.00,359.39 L196.30,359.23 L195.60,360.24 L194.90,360.02 L194.20,360.36 L193.50,360.22 L192.80,359.89 L192.10,360.07 L191.40,358.97 L190.70,359.43 L190.00,360.03 L189.30,359.62 L188.60,360.24 L187.90,359.42 L187.20,359.90 L186.50,358.76 L185.80,360.03 L185.10,359.96 L184.40,359.54 L183.70,359.22 L183.00,358.92 L182.30,359.45 L181.60,358.92 L180.90,358.96 L180.20,360.33 L179.50,359.78 L178.80,359.40 L178.10,358.68 L177.40,359.03 L176.70,358.64 L176.00,358.84 L175.30,360.02 L174.60,359.63 L173.90,358.67 L173.20,358.66 L172.50,359.41 L171.80,360.11 L171.10,359.49 L170.40,359.35 L169.70,359.10 L169.00,358.90 L168.30,360.31 L167.60,360.13 L166.90,359.49 L166.20,359.17 L165.50,359.29 L164.80,360.25 L164.10,359.38 L163.40,359.80 L162.70,360.21 L162.00,359.79 L161.30,358.91 L160.60,359.82 L159.90,358.62 L159.20,360.26 L158.50,359.50 L157.80,359.01 L157.10,359.68 L156.40,359.95 L155.70,360.11 L155.00,359.65 L154.30,359.30 L153.60,360.18 L152.90,359.75 L152.20,359.70 L151.50,359.29 L150.80,359.63 L150.10,360.02 L149.40,360.17 L148.70,359.83 L148.00,360.25 L147.30,359.87 L146.60,360.22 L145.90,359.58 L145.20,360.40 L144.50,359.91 L143.80,359.75 L143.10,360.33 L142.40,360.24 L141.70,358.66 L141.00,359.65 L140.30,359.78 L139.60,360.20 L138.90,358.84 L138.20,359.26 L137.50,358.71 L136.80,359.08 L136.10,358.97 L135.40,359.10 L134.70,360.13 L134.00,359.01 L133.30,359.90 L132.60,359.13 L131.90,360.08 L131.20,359.87 L130.50,360.33 L129.80,358.79 L129.10,359.69 L128.40,360.31 L127.70,360.29 L127.00,358.94 L126.30,360.07 L125.60,358.88 L124.90,360.16 L124.20,359.47 L123.50,359.42 L122.80,359.68 L122.10,359.65 L121.40,358.73 L120.70,359.19 L120.00,359.06 L119.30,360.38 L118.60,359.76 L117.90,359.31 L117.20,360.19 L116.50,360.05 L115.80,359.09 L115.10,359.36 L114.40,359.76 L113.70,359.92 L113.00,359.41 L112.30,358.92 L111.60,358.71 L110.90,359.04 L110.20,359.96 L109.50,359.20 L108.80,359.09 L108.10,359.73 L107.40,359.32 L106.70,359.45 L106.00,358.98 L105.30,360.13 L104.60,359.30 L103.90,359.32 L103.20,358.73 L102.50,359.01 L101.80,359.87 L101.10,360.39 L100.40,359.10 L99.70,359.79 L99.00,359.75 L98.30,360.12 L97.60,359.44 L96.90,359.04 L96.20,358.71 L95.50,358.63 L94.80,359.71 L94.10,360.34 L93.40,358.68 L92.70,360.06 L92.00,359.15 L91.30,360.03 L90.60,359.52 L89.90,359.66 L89.20,359.44 L88.50,359.61 Z" fill="#151515" stroke="none"/>
<line x1="150.35" y1="359.20" x2="150.35" y2="361.15" stroke="#555" stroke-width="0.7"/>
<line x1="113.35" y1="359.20" x2="113.35" y2="362.05" stroke="#555" stroke-width="0.7"/>
<line x1="208.60" y1="359.20" x2="208.60" y2="360.59" stroke="#555" stroke-width="0.7"/>
<line x1="189.65" y1="359.20" x2="189.65" y2="360.27" stroke="#555" stroke-width="0.7"/>
<line x1="113.70" y1="359.20" x2="113.70" y2="360.88" stroke="#555" stroke-width="0.7"/>
<line x1="177.68" y1="359.20" x2="177.68" y2="361.17" stroke="#555" stroke-width="0.7"/>
<line x1="134.62" y1="359.20" x2="134.62" y2="362.06" stroke="#555" stroke-width="0.7"/>
<line x1="102.11" y1="359.20" x2="102.11" y2="362.39" stroke="#555" stroke-width="0.7"/>
<line x1="104.44" y1="359.20" x2="104.44" y2="361.73" stroke="#555" stroke-width="0.7"/>
<line x1="121.02" y1="359.20" x2="121.02" y2="360.79" stroke="#555" stroke-width="0.7"/>
<line x1="157.34" y1="359.20" x2="157.34" y2="361.51" stroke="#555" stroke-width="0.7"/>
<line x1="137.27" y1="359.20" x2="137.27" y2="361.44" stroke="#555" stroke-width="0.7"/>
<line x1="157.21" y1="359.20" x2="157.21" y2="360.68" stroke="#555" stroke-width="0.7"/>
<line x1="115.01" y1="359.20" x2="115.01" y2="362.09" stroke="#555" stroke-width="0.7"/>
<line x1="171.37" y1="359.20" x2="171.37" y2="361.79" stroke="#555" stroke-width="0.7"/>
<line x1="198.99" y1="359.20" x2="198.99" y2="362.04" stroke="#555" stroke-width="0.7"/>
<line x1="199.71" y1="359.20" x2="199.71" y2="360.90" stroke="#555" stroke-width="0.7"/>
<line x1="184.65" y1="359.20" x2="184.65" y2="362.63" stroke="#555" stroke-width="0.7"/>
<line x1="205.67" y1="359.20" x2="205.67" y2="361.15" stroke="#555" stroke-width="0.7"/>
<line x1="129.39" y1="359.20" x2="129.39" y2="362.97" stroke="#555" stroke-width="0.7"/>
<line x1="116.82" y1="359.20" x2="116.82" y2="363.20" stroke="#555" stroke-width="0.7"/>
<line x1="203.70" y1="359.20" x2="203.70" y2="360.60" stroke="#555" stroke-width="0.7"/>
<line x1="119.57" y1="359.20" x2="119.57" y2="362.38" stroke="#555" stroke-width="0.7"/>
<line x1="122.18" y1="359.20" x2="122.18" y2="360.49" stroke="#555" stroke-width="0.7"/>
<line x1="196.52" y1="359.20" x2="196.52" y2="361.46" stroke="#555" stroke-width="0.7"/>
<line x1="191.03" y1="359.20" x2="191.03" y2="360.58" stroke="#555" stroke-width="0.7"/>
<line x1="140.78" y1="359.20" x2="140.78" y2="362.26" stroke="#555" stroke-width="0.7"/>
<line x1="90.81" y1="359.20" x2="90.81" y2="360.80" stroke="#555" stroke-width="0.7"/>
<line x1="177.07" y1="359.20" x2="177.07" y2="362.93" stroke="#555" stroke-width="0.7"/>
<line x1="214.20" y1="359.20" x2="214.20" y2="360.55" stroke="#555" stroke-width="0.7"/>
<line x1="154.14" y1="359.20" x2="154.14" y2="362.47" stroke="#555" stroke-width="0.7"/>
<line x1="153.76" y1="359.20" x2="153.76" y2="362.26" stroke="#555" stroke-width="0.7"/>
<line x1="113.03" y1="359.20" x2="113.03" y2="360.41" stroke="#555" stroke-width="0.7"/>
<line x1="102.28" y1="359.20" x2="102.28" y2="360.31" stroke="#555" stroke-width="0.7"/>
<line x1="160.11" y1="359.20" x2="160.11" y2="361.74" stroke="#555" stroke-width="0.7"/>
<line x1="162.32" y1="359.20" x2="162.32" y2="360.64" stroke="#555" stroke-width="0.7"/>
<line x1="112.45" y1="359.20" x2="112.45" y2="360.81" stroke="#555" stroke-width="0.7"/>
<line x1="197.56" y1="359.20" x2="197.56" y2="363.17" stroke="#555" stroke-width="0.7"/>
<line x1="208.81" y1="359.20" x2="208.81" y2="360.49" stroke="#555" stroke-width="0.7"/>
<line x1="96.54" y1="359.20" x2="96.54" y2="363.05" stroke="#555" stroke-width="0.7"/>
<line x1="148.48" y1="359.20" x2="148.48" y2="362.49" stroke="#555" stroke-width="0.7"/>
<line x1="130.92" y1="359.20" x2="130.92" y2="361.60" stroke="#555" stroke-width="0.7"/>
<line x1="155.38" y1="359.20" x2="155.38" y2="361.49" stroke="#555" stroke-width="0.7"/>
<line x1="166.50" y1="359.20" x2="166.50" y2="360.24" stroke="#555" stroke-width="0.7"/>
<line x1="179.49" y1="359.20" x2="179.49" y2="362.73" stroke="#555" stroke-width="0.7"/>
<line x1="112.03" y1="359.20" x2="112.03" y2="361.56" stroke="#555" stroke-width="0.7"/>
<line x1="184.47" y1="359.20" x2="184.47" y2="361.42" stroke="#555" stroke-width="0.7"/>
<line x1="113.83" y1="359.20" x2="113.83" y2="360.70" stroke="#555" stroke-width="0.7"/>
<line x1="155.03" y1="359.20" x2="155.03" y2="360.25" stroke="#555" stroke-width="0.7"/>
<line x1="204.44" y1="359.20" x2="204.44" y2="362.61" stroke="#555" stroke-width="0.7"/>
<line x1="179.97" y1="359.20" x2="179.97" y2="362.78" stroke="#555" stroke-width="0.7"/>
<line x1="94.20" y1="356.20" x2="94.20" y2="381.00" stroke="#333" stroke-width="1.1"/>
<line x1="109.90" y1="356.20" x2="109.90" y2="364.90" stroke="#333" stroke-width="1.1"/>
<line x1="147.70" y1="356.20" x2="147.70" y2="374.60" stroke="#333" stroke-width="1.1"/>
<line x1="148.50" y1="356.20" x2="148.50" y2="368.00" stroke="#333" stroke-width="1.1"/>
<line x1="179.60" y1="356.20" x2="179.60" y2="365.00" stroke="#333" stroke-width="1.1"/>
<line x1="199.20" y1="356.20" x2="199.20" y2="374.60" stroke="#333" stroke-width="1.1"/>
<path d="M271.40,351.91 L272.10,351.86 L272.80,352.47 L273.50,351.31 L274.20,352.09 L274.90,352.20 L275.60,352.33 L276.30,352.01 L277.00,352.12 L277.70,352.06 L278.40,351.45 L279.10,350.92 L279.80,351.92 L280.50,351.27 L281.20,351.97 L281.90,351.96 L282.60,351.75 L283.30,352.50 L284.00,352.02 L284.70,352.47 L285.40,351.88 L286.10,351.31 L286.80,350.98 L287.50,351.50 L288.20,351.30 L288.90,351.78 L289.60,352.45 L290.30,352.49 L291.00,352.20 L291.70,351.86 L292.40,350.97 L293.10,351.16 L293.80,351.17 L294.50,351.88 L295.20,352.41 L295.90,351.74 L296.60,351.48 L297.30,351.95 L298.00,351.35 L298.70,351.37 L299.40,351.29 L300.10,351.15 L300.80,351.52 L301.50,352.10 L302.20,352.48 L302.90,351.02 L303.60,351.59 L304.30,352.46 L305.00,351.74 L305.70,352.06 L306.40,352.47 L307.10,351.87 L307.80,351.90 L308.50,351.23 L309.20,351.74 L309.90,351.61 L310.60,351.63 L311.30,351.83 L312.00,352.14 L312.70,352.50 L313.40,352.07 L314.10,351.08 L314.80,352.15 L315.50,351.47 L316.20,352.00 L316.90,351.85 L317.60,352.11 L318.30,351.30 L319.00,352.37 L319.70,350.96 L320.40,351.33 L321.10,351.90 L321.80,351.77 L322.50,351.04 L323.20,351.78 L323.90,351.50 L324.60,351.24 L325.30,352.09 L326.00,351.02 L326.70,352.19 L327.40,352.13 L328.10,351.58 L328.80,352.20 L329.50,351.95 L330.20,351.42 L330.90,352.09 L331.60,351.58 L332.30,351.06 L333.00,351.03 L333.70,351.80 L334.40,352.00 L335.10,352.14 L335.80,351.24 L336.50,351.03 L337.20,352.06 L337.90,351.35 L338.60,351.47 L339.30,351.49 L340.00,352.03 L340.70,352.37 L341.40,352.36 L342.10,352.18 L342.80,351.41 L343.50,352.40 L344.20,351.30 L344.90,351.48 L345.60,351.53 L346.30,351.21 L347.00,352.18 L347.70,352.24 L348.40,351.18 L349.10,352.31 L349.80,350.94 L350.50,351.77 L351.20,352.45 L351.90,352.19 L352.60,351.77 L353.30,351.03 L354.00,352.08 L354.70,351.04 L355.40,351.13 L356.10,351.94 L356.80,351.25 L357.50,351.73 L358.20,351.53 L358.90,352.45 L359.60,351.69 L360.30,352.05 L361.00,352.36 L361.70,352.22 L362.40,352.27 L363.10,352.23 L363.80,352.43 L364.50,351.74 L365.20,352.18 L365.90,351.57 L366.60,352.09 L367.30,351.50 L368.00,351.23 L368.70,351.37 L369.40,350.99 L370.10,351.08 L370.80,352.14 L371.50,351.00 L372.20,351.83 L372.90,350.96 L373.60,351.20 L374.30,351.28 L375.00,351.85 L375.70,351.20 L376.40,351.18 L377.10,351.40 L377.80,352.21 L378.50,351.32 L379.20,352.36 L379.90,351.78 L380.60,351.67 L381.30,350.98 L382.00,352.18 L382.70,351.74 L383.40,351.34 L384.10,351.95 L384.80,350.92 L385.50,351.49 L386.20,352.04 L386.90,351.15 L387.60,351.41 L388.30,352.29 L389.00,351.92 L389.70,351.33 L390.40,351.14 L391.10,350.90 L391.80,352.25 L392.50,351.03 L393.20,352.05 L393.90,351.67 L394.60,352.43 L395.30,352.27 L396.00,352.16 L396.70,352.37 L397.40,352.22 L398.10,351.77 L398.80,351.15 L399.50,351.40 L400.20,351.02 L400.20,357.85 L399.50,357.86 L398.80,358.80 L398.10,358.25 L397.40,357.68 L396.70,357.46 L396.00,358.05 L395.30,357.85 L394.60,358.36 L393.90,358.14 L393.20,357.47 L392.50,357.79 L391.80,358.78 L391.10,358.78 L390.40,358.69 L389.70,358.26 L389.00,359.09 L388.30,358.23 L387.60,357.77 L386.90,357.58 L386.20,358.39 L385.50,358.73 L384.80,358.15 L384.10,357.73 L383.40,359.08 L382.70,358.23 L382.00,357.99 L381.30,359.01 L380.60,357.70 L379.90,359.02 L379.20,357.92 L378.50,358.90 L377.80,358.16 L377.10,358.29 L376.40,358.66 L375.70,357.81 L375.00,357.70 L374.30,358.59 L373.60,357.69 L372.90,357.50 L372.20,358.94 L371.50,358.13 L370.80,357.62 L370.10,358.47 L369.40,357.86 L368.70,359.05 L368.00,358.06 L367.30,357.60 L366.60,359.08 L365.90,357.56 L365.20,358.06 L364.50,358.58 L363.80,358.45 L363.10,358.90 L362.40,358.75 L361.70,358.50 L361.00,358.04 L360.30,358.57 L359.60,358.27 L358.90,358.51 L358.20,357.91 L357.50,358.68 L356.80,358.68 L356.10,357.74 L355.40,358.64 L354.70,358.44 L354.00,358.92 L353.30,357.45 L352.60,358.72 L351.90,357.42 L351.20,358.47 L350.50,358.32 L349.80,358.23 L349.10,357.81 L348.40,358.67 L347.70,358.31 L347.00,358.27 L346.30,358.31 L345.60,358.00 L344.90,357.95 L344.20,357.95 L343.50,358.91 L342.80,358.02 L342.10,357.85 L341.40,358.09 L340.70,358.99 L340.00,358.32 L339.30,357.51 L338.60,358.61 L337.90,357.56 L337.20,358.55 L336.50,357.85 L335.80,358.49 L335.10,357.44 L334.40,357.84 L333.70,358.17 L333.00,357.45 L332.30,358.88 L331.60,357.96 L330.90,358.96 L330.20,358.29 L329.50,359.08 L328.80,357.96 L328.10,357.76 L327.40,357.68 L326.70,358.42 L326.00,357.52 L325.30,358.81 L324.60,357.92 L323.90,358.16 L323.20,358.44 L322.50,358.52 L321.80,357.43 L321.10,357.48 L320.40,358.07 L319.70,357.41 L319.00,358.88 L318.30,359.06 L317.60,357.64 L316.90,358.44 L316.20,358.32 L315.50,357.79 L314.80,358.42 L314.10,358.91 L313.40,357.73 L312.70,359.01 L312.00,358.26 L311.30,358.06 L310.60,357.77 L309.90,358.50 L309.20,357.52 L308.50,357.39 L307.80,358.12 L307.10,357.51 L306.40,358.77 L305.70,358.14 L305.00,358.99 L304.30,357.74 L303.60,358.16 L302.90,358.93 L302.20,359.00 L301.50,357.39 L300.80,358.92 L300.10,358.66 L299.40,357.38 L298.70,357.33 L298.00,358.59 L297.30,358.31 L296.60,357.81 L295.90,358.38 L295.20,358.06 L294.50,357.41 L293.80,358.19 L293.10,358.15 L292.40,358.97 L291.70,358.67 L291.00,357.44 L290.30,358.45 L289.60,358.32 L288.90,358.21 L288.20,358.93 L287.50,357.48 L286.80,357.65 L286.10,358.02 L285.40,358.63 L284.70,357.34 L284.00,358.67 L283.30,358.46 L282.60,358.00 L281.90,358.33 L281.20,357.91 L280.50,359.00 L279.80,358.42 L279.10,357.94 L278.40,358.14 L277.70,357.43 L277.00,358.03 L276.30,358.68 L275.60,358.88 L274.90,358.03 L274.20,358.70 L273.50,358.94 L272.80,358.75 L272.10,358.21 L271.40,358.03 Z" fill="#151515" stroke="none"/>
<line x1="331.81" y1="357.90" x2="331.81" y2="361.05" stroke="#555" stroke-width="0.7"/>
<line x1="317.91" y1="357.90" x2="317.91" y2="360.96" stroke="#555" stroke-width="0.7"/>
<line x1="285.07" y1="357.90" x2="285.07" y2="360.08" stroke="#555" stroke-width="0.7"/>
<line x1="331.11" y1="357.90" x2="331.11" y2="361.80" stroke="#555" stroke-width="0.7"/>
<line x1="378.69" y1="357.90" x2="378.69" y2="360.86" stroke="#555" stroke-width="0.7"/>
<line x1="273.00" y1="357.90" x2="273.00" y2="360.03" stroke="#555" stroke-width="0.7"/>
<line x1="363.20" y1="357.90" x2="363.20" y2="359.61" stroke="#555" stroke-width="0.7"/>
<line x1="344.34" y1="357.90" x2="344.34" y2="360.27" stroke="#555" stroke-width="0.7"/>
<line x1="272.75" y1="357.90" x2="272.75" y2="361.87" stroke="#555" stroke-width="0.7"/>
<line x1="374.77" y1="357.90" x2="374.77" y2="359.52" stroke="#555" stroke-width="0.7"/>
<line x1="351.06" y1="357.90" x2="351.06" y2="359.77" stroke="#555" stroke-width="0.7"/>
<line x1="320.02" y1="357.90" x2="320.02" y2="360.52" stroke="#555" stroke-width="0.7"/>
<line x1="309.96" y1="357.90" x2="309.96" y2="359.91" stroke="#555" stroke-width="0.7"/>
<line x1="322.11" y1="357.90" x2="322.11" y2="360.90" stroke="#555" stroke-width="0.7"/>
<line x1="304.56" y1="357.90" x2="304.56" y2="359.50" stroke="#555" stroke-width="0.7"/>
<line x1="365.98" y1="357.90" x2="365.98" y2="359.89" stroke="#555" stroke-width="0.7"/>
<line x1="393.59" y1="357.90" x2="393.59" y2="360.59" stroke="#555" stroke-width="0.7"/>
<line x1="364.99" y1="357.90" x2="364.99" y2="359.89" stroke="#555" stroke-width="0.7"/>
<line x1="378.32" y1="357.90" x2="378.32" y2="359.18" stroke="#555" stroke-width="0.7"/>
<line x1="289.61" y1="357.90" x2="289.61" y2="359.18" stroke="#555" stroke-width="0.7"/>
<line x1="359.03" y1="357.90" x2="359.03" y2="361.02" stroke="#555" stroke-width="0.7"/>
<line x1="294.66" y1="357.90" x2="294.66" y2="360.11" stroke="#555" stroke-width="0.7"/>
<line x1="379.61" y1="357.90" x2="379.61" y2="360.68" stroke="#555" stroke-width="0.7"/>
<line x1="283.05" y1="357.90" x2="283.05" y2="359.58" stroke="#555" stroke-width="0.7"/>
<line x1="291.71" y1="357.90" x2="291.71" y2="359.27" stroke="#555" stroke-width="0.7"/>
<line x1="324.00" y1="357.90" x2="324.00" y2="359.12" stroke="#555" stroke-width="0.7"/>
<line x1="390.44" y1="357.90" x2="390.44" y2="360.18" stroke="#555" stroke-width="0.7"/>
<line x1="337.55" y1="357.90" x2="337.55" y2="360.84" stroke="#555" stroke-width="0.7"/>
<line x1="370.56" y1="357.90" x2="370.56" y2="361.36" stroke="#555" stroke-width="0.7"/>
<line x1="321.30" y1="357.90" x2="321.30" y2="359.89" stroke="#555" stroke-width="0.7"/>
<line x1="324.69" y1="357.90" x2="324.69" y2="358.95" stroke="#555" stroke-width="0.7"/>
<line x1="323.21" y1="357.90" x2="323.21" y2="361.00" stroke="#555" stroke-width="0.7"/>
<line x1="398.37" y1="357.90" x2="398.37" y2="361.27" stroke="#555" stroke-width="0.7"/>
<line x1="356.77" y1="357.90" x2="356.77" y2="360.73" stroke="#555" stroke-width="0.7"/>
<line x1="273.80" y1="357.90" x2="273.80" y2="359.89" stroke="#555" stroke-width="0.7"/>
<line x1="315.65" y1="357.90" x2="315.65" y2="360.85" stroke="#555" stroke-width="0.7"/>
<line x1="285.14" y1="357.90" x2="285.14" y2="360.03" stroke="#555" stroke-width="0.7"/>
<line x1="337.26" y1="357.90" x2="337.26" y2="361.27" stroke="#555" stroke-width="0.7"/>
<line x1="378.10" y1="357.90" x2="378.10" y2="360.73" stroke="#555" stroke-width="0.7"/>
<line x1="291.87" y1="357.90" x2="291.87" y2="361.20" stroke="#555" stroke-width="0.7"/>
<line x1="388.16" y1="357.90" x2="388.16" y2="360.54" stroke="#555" stroke-width="0.7"/>
<line x1="316.99" y1="357.90" x2="316.99" y2="360.40" stroke="#555" stroke-width="0.7"/>
<line x1="289.73" y1="357.90" x2="289.73" y2="361.04" stroke="#555" stroke-width="0.7"/>
<line x1="398.99" y1="357.90" x2="398.99" y2="360.45" stroke="#555" stroke-width="0.7"/>
<line x1="363.90" y1="357.90" x2="363.90" y2="361.41" stroke="#555" stroke-width="0.7"/>
<line x1="296.90" y1="357.90" x2="296.90" y2="361.73" stroke="#555" stroke-width="0.7"/>
<line x1="352.49" y1="357.90" x2="352.49" y2="359.49" stroke="#555" stroke-width="0.7"/>
<line x1="282.16" y1="357.90" x2="282.16" y2="359.63" stroke="#555" stroke-width="0.7"/>
<line x1="345.94" y1="357.90" x2="345.94" y2="360.99" stroke="#555" stroke-width="0.7"/>
<line x1="313.96" y1="357.90" x2="313.96" y2="361.69" stroke="#555" stroke-width="0.7"/>
<line x1="318.10" y1="357.90" x2="318.10" y2="360.29" stroke="#555" stroke-width="0.7"/>
<line x1="273.00" y1="354.90" x2="273.00" y2="375.80" stroke="#333" stroke-width="1.1"/>
<line x1="315.50" y1="354.90" x2="315.50" y2="364.80" stroke="#333" stroke-width="1.1"/>
<line x1="322.70" y1="354.90" x2="322.70" y2="368.30" stroke="#333" stroke-width="1.1"/>
<line x1="281.10" y1="354.90" x2="281.10" y2="380.80" stroke="#333" stroke-width="1.1"/>
<line x1="283.00" y1="354.90" x2="283.00" y2="370.00" stroke="#333" stroke-width="1.1"/>
<line x1="291.50" y1="354.90" x2="291.50" y2="388.20" stroke="#333" stroke-width="1.1"/>
<line x1="301.00" y1="354.90" x2="301.00" y2="379.30" stroke="#333" stroke-width="1.1"/>
<line x1="307.80" y1="354.90" x2="307.80" y2="374.90" stroke="#333" stroke-width="1.1"/>
<line x1="318.20" y1="354.90" x2="318.20" y2="388.20" stroke="#333" stroke-width="1.1"/>
<line x1="320.60" y1="354.90" x2="320.60" y2="383.80" stroke="#333" stroke-width="1.1"/>
<line x1="327.70" y1="354.90" x2="327.70" y2="374.90" stroke="#333" stroke-width="1.1"/>
<line x1="336.00" y1="354.90" x2="336.00" y2="366.00" stroke="#333" stroke-width="1.1"/>
<line x1="345.50" y1="354.90" x2="345.50" y2="380.80" stroke="#333" stroke-width="1.1"/>
<line x1="347.30" y1="354.90" x2="347.30" y2="373.40" stroke="#333" stroke-width="1.1"/>
<line x1="354.70" y1="354.90" x2="354.70" y2="368.90" stroke="#333" stroke-width="1.1"/>
<line x1="371.00" y1="354.90" x2="371.00" y2="385.20" stroke="#333" stroke-width="1.1"/>
<line x1="380.50" y1="354.90" x2="380.50" y2="367.40" stroke="#333" stroke-width="1.1"/>
<line x1="383.00" y1="354.90" x2="383.00" y2="364.00" stroke="#333" stroke-width="1.1"/>
<line x1="395.30" y1="354.90" x2="395.30" y2="380.80" stroke="#333" stroke-width="1.1"/>
<path d="M459.30,352.20 L460.00,352.22 L460.70,352.87 L461.40,352.90 L462.10,353.45 L462.80,353.31 L463.50,352.20 L464.20,352.46 L464.90,352.39 L465.60,353.33 L466.30,352.88 L467.00,352.05 L467.70,353.58 L468.40,353.05 L469.10,353.07 L469.80,352.61 L470.50,353.29 L471.20,352.32 L471.90,352.23 L472.60,352.91 L473.30,352.83 L474.00,352.91 L474.70,353.03 L475.40,353.07 L476.10,353.53 L476.80,352.75 L477.50,353.00 L478.20,353.21 L478.90,352.78 L479.60,353.34 L480.30,352.65 L481.00,352.91 L481.70,352.84 L482.40,352.69 L483.10,352.51 L483.80,353.16 L484.50,353.17 L485.20,353.20 L485.90,352.95 L486.60,352.20 L487.30,352.80 L488.00,352.08 L488.70,352.84 L489.40,352.49 L490.10,352.38 L490.80,353.46 L491.50,353.07 L492.20,352.67 L492.90,352.35 L493.60,352.91 L494.30,352.16 L495.00,352.20 L495.70,353.52 L496.40,352.39 L497.10,352.52 L497.80,353.43 L498.50,352.64 L499.20,352.94 L499.90,352.05 L500.60,352.49 L501.30,353.49 L502.00,352.76 L502.70,352.47 L503.40,353.43 L504.10,353.34 L504.80,352.76 L505.50,353.41 L506.20,352.32 L506.90,352.31 L507.60,352.08 L508.30,353.16 L509.00,353.44 L509.70,353.14 L510.40,353.11 L511.10,352.71 L511.80,352.36 L512.50,353.14 L513.20,352.29 L513.90,353.06 L514.60,352.60 L515.30,353.42 L516.00,352.37 L516.70,353.48 L517.40,352.44 L518.10,352.14 L518.80,352.70 L519.50,352.85 L520.20,352.96 L520.90,352.40 L521.60,352.14 L522.30,353.21 L523.00,352.45 L523.70,352.30 L524.40,353.58 L525.10,352.74 L525.80,352.62 L526.50,352.80 L527.20,352.89 L527.90,352.58 L528.60,353.25 L529.30,352.81 L530.00,353.09 L530.70,353.52 L531.40,353.25 L532.10,352.97 L532.80,352.70 L533.50,353.26 L534.20,352.38 L534.90,352.35 L535.60,352.80 L536.30,352.95 L537.00,352.92 L537.70,352.29 L538.40,352.03 L539.10,352.70 L539.80,352.42 L540.50,352.12 L541.20,352.91 L541.90,353.27 L542.60,352.23 L543.30,352.07 L544.00,352.99 L544.70,352.42 L545.40,352.14 L546.10,352.27 L546.80,352.26 L547.50,353.33 L548.20,352.10 L548.90,352.58 L549.60,353.55 L550.30,352.78 L551.00,353.58 L551.70,352.73 L552.40,352.06 L553.10,353.42 L553.80,352.63 L554.50,352.68 L555.20,352.05 L555.90,353.22 L556.60,352.37 L557.30,352.88 L558.00,352.74 L558.70,352.58 L559.40,353.57 L560.10,352.06 L560.80,353.04 L561.50,352.55 L562.20,353.38 L562.90,353.42 L563.60,352.63 L564.30,352.61 L565.00,352.34 L565.70,352.29 L566.40,352.26 L567.10,352.34 L567.80,352.49 L568.50,353.59 L569.20,353.38 L569.90,352.61 L570.60,353.11 L571.30,352.44 L572.00,352.29 L572.70,352.63 L573.40,353.14 L574.10,352.58 L574.80,353.50 L575.50,353.23 L576.20,353.45 L576.90,352.52 L577.60,352.13 L578.30,352.52 L579.00,352.83 L579.70,352.63 L580.40,352.07 L581.10,352.95 L581.80,352.50 L582.50,352.87 L583.20,353.13 L583.90,353.16 L584.60,352.24 L585.30,352.45 L586.00,352.65 L586.70,353.39 L587.40,352.47 L588.10,352.35 L588.10,358.47 L587.40,359.02 L586.70,358.81 L586.00,359.10 L585.30,359.68 L584.60,358.77 L583.90,359.60 L583.20,358.87 L582.50,358.64 L581.80,359.16 L581.10,358.46 L580.40,358.67 L579.70,358.83 L579.00,358.50 L578.30,359.79 L577.60,359.99 L576.90,359.09 L576.20,358.44 L575.50,359.70 L574.80,359.05 L574.10,358.68 L573.40,358.88 L572.70,360.06 L572.00,358.87 L571.30,358.43 L570.60,359.05 L569.90,358.53 L569.20,358.77 L568.50,359.62 L567.80,359.20 L567.10,359.24 L566.40,358.77 L565.70,359.39 L565.00,359.03 L564.30,359.81 L563.60,359.92 L562.90,359.23 L562.20,359.46 L561.50,359.65 L560.80,358.51 L560.10,359.13 L559.40,359.50 L558.70,359.01 L558.00,360.08 L557.30,358.84 L556.60,358.86 L555.90,359.72 L555.20,360.19 L554.50,358.54 L553.80,358.94 L553.10,358.65 L552.40,358.83 L551.70,359.74 L551.00,358.66 L550.30,359.77 L549.60,358.48 L548.90,358.79 L548.20,359.14 L547.50,359.82 L546.80,359.64 L546.10,358.86 L545.40,359.88 L544.70,359.46 L544.00,359.35 L543.30,358.97 L542.60,358.96 L541.90,358.83 L541.20,359.38 L540.50,360.03 L539.80,359.84 L539.10,359.20 L538.40,359.29 L537.70,358.67 L537.00,359.97 L536.30,359.69 L535.60,358.46 L534.90,359.44 L534.20,359.28 L533.50,359.82 L532.80,359.79 L532.10,358.82 L531.40,358.70 L530.70,358.71 L530.00,359.34 L529.30,359.92 L528.60,359.33 L527.90,359.58 L527.20,359.56 L526.50,358.72 L525.80,360.07 L525.10,359.75 L524.40,358.46 L523.70,360.01 L523.00,359.39 L522.30,358.84 L521.60,358.91 L520.90,359.85 L520.20,358.91 L519.50,358.48 L518.80,359.35 L518.10,360.17 L517.40,359.55 L516.70,359.60 L516.00,358.94 L515.30,359.46 L514.60,359.59 L513.90,359.82 L513.20,358.82 L512.50,358.75 L511.80,358.95 L511.10,358.54 L510.40,360.09 L509.70,358.64 L509.00,359.97 L508.30,358.96 L507.60,358.59 L506.90,359.98 L506.20,359.54 L505.50,360.19 L504.80,358.71 L504.10,359.04 L503.40,358.75 L502.70,360.06 L502.00,358.77 L501.30,360.16 L500.60,359.30 L499.90,360.02 L499.20,358.48 L498.50,359.04 L497.80,359.87 L497.10,358.51 L496.40,358.94 L495.70,358.40 L495.00,359.37 L494.30,359.83 L493.60,360.03 L492.90,359.74 L492.20,359.85 L491.50,359.96 L490.80,360.14 L490.10,358.52 L489.40,359.11 L488.70,358.83 L488.00,359.65 L487.30,359.11 L486.60,359.20 L485.90,358.53 L485.20,358.95 L484.50,359.48 L483.80,360.02 L483.10,358.50 L482.40,360.03 L481.70,359.35 L481.00,360.03 L480.30,359.18 L479.60,359.94 L478.90,360.19 L478.20,359.75 L477.50,359.64 L476.80,359.14 L476.10,359.48 L475.40,358.66 L474.70,358.47 L474.00,359.00 L473.30,358.87 L472.60,358.71 L471.90,359.10 L471.20,359.24 L470.50,358.43 L469.80,359.47 L469.10,359.73 L468.40,358.95 L467.70,360.09 L467.00,358.72 L466.30,358.54 L465.60,358.73 L464.90,359.43 L464.20,360.01 L463.50,359.88 L462.80,359.48 L462.10,360.19 L461.40,358.88 L460.70,359.41 L460.00,360.03 L459.30,360.15 Z" fill="#151515" stroke="none"/>
<line x1="462.47" y1="359.00" x2="462.47" y2="361.89" stroke="#555" stroke-width="0.7"/>
<line x1="532.48" y1="359.00" x2="532.48" y2="362.43" stroke="#555" stroke-width="0.7"/>
<line x1="585.45" y1="359.00" x2="585.45" y2="360.89" stroke="#555" stroke-width="0.7"/>
<line x1="545.99" y1="359.00" x2="545.99" y2="362.76" stroke="#555" stroke-width="0.7"/>
<line x1="487.26" y1="359.00" x2="487.26" y2="362.07" stroke="#555" stroke-width="0.7"/>
<line x1="545.49" y1="359.00" x2="545.49" y2="362.87" stroke="#555" stroke-width="0.7"/>
<line x1="571.58" y1="359.00" x2="571.58" y2="360.70" stroke="#555" stroke-width="0.7"/>
<line x1="541.08" y1="359.00" x2="541.08" y2="360.27" stroke="#555" stroke-width="0.7"/>
<line x1="514.60" y1="359.00" x2="514.60" y2="361.18" stroke="#555" stroke-width="0.7"/>
<line x1="467.07" y1="359.00" x2="467.07" y2="361.15" stroke="#555" stroke-width="0.7"/>
<line x1="501.73" y1="359.00" x2="501.73" y2="361.49" stroke="#555" stroke-width="0.7"/>
<line x1="495.48" y1="359.00" x2="495.48" y2="360.48" stroke="#555" stroke-width="0.7"/>
<line x1="511.34" y1="359.00" x2="511.34" y2="361.43" stroke="#555" stroke-width="0.7"/>
<line x1="480.86" y1="359.00" x2="480.86" y2="362.00" stroke="#555" stroke-width="0.7"/>
<line x1="490.31" y1="359.00" x2="490.31" y2="360.28" stroke="#555" stroke-width="0.7"/>
<line x1="503.50" y1="359.00" x2="503.50" y2="361.27" stroke="#555" stroke-width="0.7"/>
<line x1="478.80" y1="359.00" x2="478.80" y2="361.75" stroke="#555" stroke-width="0.7"/>
<line x1="549.99" y1="359.00" x2="549.99" y2="361.66" stroke="#555" stroke-width="0.7"/>
<line x1="549.83" y1="359.00" x2="549.83" y2="360.07" stroke="#555" stroke-width="0.7"/>
<line x1="509.90" y1="359.00" x2="509.90" y2="361.09" stroke="#555" stroke-width="0.7"/>
<line x1="467.44" y1="359.00" x2="467.44" y2="361.21" stroke="#555" stroke-width="0.7"/>
<line x1="466.36" y1="359.00" x2="466.36" y2="361.49" stroke="#555" stroke-width="0.7"/>
<line x1="535.05" y1="359.00" x2="535.05" y2="361.41" stroke="#555" stroke-width="0.7"/>
<line x1="501.39" y1="359.00" x2="501.39" y2="360.76" stroke="#555" stroke-width="0.7"/>
<line x1="462.34" y1="359.00" x2="462.34" y2="361.04" stroke="#555" stroke-width="0.7"/>
<line x1="574.60" y1="359.00" x2="574.60" y2="361.70" stroke="#555" stroke-width="0.7"/>
<line x1="493.16" y1="359.00" x2="493.16" y2="362.00" stroke="#555" stroke-width="0.7"/>
<line x1="483.35" y1="359.00" x2="483.35" y2="361.41" stroke="#555" stroke-width="0.7"/>
<line x1="538.85" y1="359.00" x2="538.85" y2="362.86" stroke="#555" stroke-width="0.7"/>
<line x1="506.19" y1="359.00" x2="506.19" y2="361.73" stroke="#555" stroke-width="0.7"/>
<line x1="581.15" y1="359.00" x2="581.15" y2="362.31" stroke="#555" stroke-width="0.7"/>
<line x1="540.42" y1="359.00" x2="540.42" y2="361.86" stroke="#555" stroke-width="0.7"/>
<line x1="512.44" y1="359.00" x2="512.44" y2="361.25" stroke="#555" stroke-width="0.7"/>
<line x1="495.01" y1="359.00" x2="495.01" y2="362.49" stroke="#555" stroke-width="0.7"/>
<line x1="573.05" y1="359.00" x2="573.05" y2="361.15" stroke="#555" stroke-width="0.7"/>
<line x1="576.91" y1="359.00" x2="576.91" y2="360.11" stroke="#555" stroke-width="0.7"/>
<line x1="476.87" y1="359.00" x2="476.87" y2="361.52" stroke="#555" stroke-width="0.7"/>
<line x1="499.20" y1="359.00" x2="499.20" y2="361.08" stroke="#555" stroke-width="0.7"/>
<line x1="585.62" y1="359.00" x2="585.62" y2="360.45" stroke="#555" stroke-width="0.7"/>
<line x1="484.18" y1="359.00" x2="484.18" y2="360.69" stroke="#555" stroke-width="0.7"/>
<line x1="547.25" y1="359.00" x2="547.25" y2="360.70" stroke="#555" stroke-width="0.7"/>
<line x1="459.42" y1="359.00" x2="459.42" y2="361.63" stroke="#555" stroke-width="0.7"/>
<line x1="510.23" y1="359.00" x2="510.23" y2="360.72" stroke="#555" stroke-width="0.7"/>
<line x1="523.12" y1="359.00" x2="523.12" y2="361.95" stroke="#555" stroke-width="0.7"/>
<line x1="530.17" y1="359.00" x2="530.17" y2="361.87" stroke="#555" stroke-width="0.7"/>
<line x1="531.81" y1="359.00" x2="531.81" y2="362.49" stroke="#555" stroke-width="0.7"/>
<line x1="584.57" y1="359.00" x2="584.57" y2="361.00" stroke="#555" stroke-width="0.7"/>
<line x1="504.12" y1="359.00" x2="504.12" y2="362.66" stroke="#555" stroke-width="0.7"/>
<line x1="499.82" y1="359.00" x2="499.82" y2="362.15" stroke="#555" stroke-width="0.7"/>
<line x1="549.21" y1="359.00" x2="549.21" y2="362.06" stroke="#555" stroke-width="0.7"/>
<line x1="583.93" y1="359.00" x2="583.93" y2="362.47" stroke="#555" stroke-width="0.7"/>
<line x1="580.00" y1="356.00" x2="580.00" y2="365.00" stroke="#333" stroke-width="1.1"/>
<polyline points="583.00,370.00 583.00,390.20 552.80,390.20" fill="none" stroke="#111" stroke-width="1.5" stroke-linejoin="round" stroke-linecap="round"/>
<text x="565.99" y="406.58" font-size="11.86" textLength="13.36" lengthAdjust="spacingAndGlyphs" fill="#111">5s</text>
<text transform="translate(597.38,396.33) rotate(-90)" font-size="10.55" textLength="29.60" lengthAdjust="spacingAndGlyphs" fill="#111">20pA</text>
<text x="61.09" y="422.06" font-size="13.80" textLength="87.68" lengthAdjust="spacingAndGlyphs" fill="#111">10.8mM EtOH</text>
<rect x="74.20" y="427.80" width="38.70" height="2.80" fill="url(#hatch)" stroke="#111" stroke-width="1"/>
<rect x="163.20" y="431.20" width="147.80" height="3.20" fill="#fff" stroke="#111" stroke-width="1"/>
<rect x="177.20" y="427.20" width="44.50" height="4.00" fill="url(#hatch)" stroke="#111" stroke-width="1"/>
<rect x="276.6" y="427.4" width="34.4" height="3.6" fill="#8a8a8a" stroke="#222" stroke-width="1"/>
<text x="277.32" y="423.20" font-size="12.17" textLength="35.44" lengthAdjust="spacingAndGlyphs" fill="#111">DNQX</text>
<text x="164.55" y="450.29" font-size="13.85" textLength="68.64" lengthAdjust="spacingAndGlyphs" fill="#111">0.5µM TTX</text>
<line x1="63.80" y1="443.80" x2="63.80" y2="544.30" stroke="#111" stroke-width="1.6"/>
<line x1="60.60" y1="443.80" x2="63.80" y2="443.80" stroke="#111" stroke-width="1.6"/>
<text x="37.96" y="448.32" font-size="13.10" textLength="15.59" lengthAdjust="spacingAndGlyphs" fill="#111">30</text>
<line x1="60.60" y1="477.03" x2="63.80" y2="477.03" stroke="#111" stroke-width="1.6"/>
<text x="37.96" y="481.55" font-size="13.10" textLength="15.59" lengthAdjust="spacingAndGlyphs" fill="#111">20</text>
<line x1="60.60" y1="510.26" x2="63.80" y2="510.26" stroke="#111" stroke-width="1.6"/>
<text x="37.96" y="514.78" font-size="13.10" textLength="15.59" lengthAdjust="spacingAndGlyphs" fill="#111">10</text>
<line x1="60.60" y1="543.49" x2="63.80" y2="543.49" stroke="#111" stroke-width="1.6"/>
<text x="45.81" y="548.01" font-size="13.10" textLength="7.79" lengthAdjust="spacingAndGlyphs" fill="#111">0</text>
<line x1="63.00" y1="543.50" x2="311.00" y2="543.50" stroke="#111" stroke-width="1.6"/>
<line x1="63.80" y1="543.50" x2="63.80" y2="546.50" stroke="#111" stroke-width="1.6"/>
<text x="59.87" y="564.87" font-size="13.24" textLength="7.80" lengthAdjust="spacingAndGlyphs" fill="#111">0</text>
<line x1="119.40" y1="543.50" x2="119.40" y2="546.50" stroke="#111" stroke-width="1.6"/>
<text x="111.26" y="564.87" font-size="13.24" textLength="15.61" lengthAdjust="spacingAndGlyphs" fill="#111">10</text>
<line x1="175.00" y1="543.50" x2="175.00" y2="546.50" stroke="#111" stroke-width="1.6"/>
<text x="167.07" y="564.87" font-size="13.24" textLength="15.61" lengthAdjust="spacingAndGlyphs" fill="#111">20</text>
<line x1="230.60" y1="543.50" x2="230.60" y2="546.50" stroke="#111" stroke-width="1.6"/>
<text x="222.74" y="564.87" font-size="13.24" textLength="15.61" lengthAdjust="spacingAndGlyphs" fill="#111">30</text>
<line x1="286.20" y1="543.50" x2="286.20" y2="546.50" stroke="#111" stroke-width="1.6"/>
<text x="278.48" y="564.87" font-size="13.24" textLength="15.61" lengthAdjust="spacingAndGlyphs" fill="#111">40</text>
<text x="154.36" y="588.54" font-size="16.02" textLength="79.44" lengthAdjust="spacingAndGlyphs" fill="#111">Time (min)</text>
<text transform="translate(19.00,535.00) rotate(-90)" font-size="17.10" textLength="84.71" lengthAdjust="spacingAndGlyphs" fill="#111">sEPSC/10s</text>
<text x="180.24" y="504.30" font-size="13.77" textLength="7.66" lengthAdjust="spacingAndGlyphs" fill="#111">1</text>
<text x="224.16" y="468.00" font-size="13.71" textLength="7.63" lengthAdjust="spacingAndGlyphs" fill="#111">2</text>
<text x="291.08" y="509.86" font-size="13.52" textLength="7.52" lengthAdjust="spacingAndGlyphs" fill="#111">3</text>
<path d="M63.80,543.5V521.98H65.04V543.5ZM65.04,543.5V518.32H66.27V543.5ZM66.27,543.5V523.48H67.51V543.5ZM67.51,543.5V521.04H68.74V543.5ZM68.74,543.5V526.21H69.98V543.5ZM69.98,543.5V525.89H71.21V543.5ZM71.21,543.5V524.95H72.45V543.5ZM72.45,543.5V535.39H73.68V543.5ZM74.92,543.5V525.55H76.16V543.5ZM76.16,543.5V506.08H77.39V543.5ZM77.39,543.5V519.37H78.63V543.5ZM78.63,543.5V516.25H79.86V543.5ZM79.86,543.5V526.30H81.10V543.5ZM81.10,543.5V519.81H82.33V543.5ZM82.33,543.5V521.22H83.57V543.5ZM83.57,543.5V523.13H84.80V543.5ZM84.80,543.5V522.40H86.04V543.5ZM86.04,543.5V518.63H87.28V543.5ZM87.28,543.5V508.74H88.51V543.5ZM88.51,543.5V508.88H89.75V543.5ZM89.75,543.5V505.92H90.98V543.5ZM90.98,543.5V503.70H92.22V543.5ZM92.22,543.5V509.61H93.45V543.5ZM93.45,543.5V512.41H94.69V543.5ZM94.69,543.5V520.04H95.92V543.5ZM95.92,543.5V501.81H97.16V543.5ZM97.16,543.5V508.54H98.40V543.5ZM98.40,543.5V501.32H99.63V543.5ZM99.63,543.5V501.29H100.87V543.5ZM100.87,543.5V488.92H102.10V543.5ZM103.34,543.5V505.87H104.57V543.5ZM104.57,543.5V479.19H105.81V543.5ZM107.04,543.5V481.78H108.28V543.5ZM109.52,543.5V481.65H110.75V543.5ZM110.75,543.5V469.10H111.99V543.5ZM111.99,543.5V481.42H113.22V543.5ZM113.22,543.5V467.55H114.46V543.5ZM114.46,543.5V454.69H115.69V543.5ZM115.69,543.5V452.70H116.93V543.5ZM116.93,543.5V474.22H118.16V543.5ZM118.16,543.5V493.44H119.40V543.5ZM119.40,543.5V494.64H120.64V543.5ZM121.87,543.5V470.07H123.11V543.5ZM123.11,543.5V496.98H124.34V543.5ZM124.34,543.5V505.24H125.58V543.5ZM125.58,543.5V497.39H126.81V543.5ZM126.81,543.5V492.80H128.05V543.5ZM128.05,543.5V487.39H129.28V543.5ZM129.28,543.5V499.79H130.52V543.5ZM131.76,543.5V506.03H132.99V543.5ZM134.23,543.5V496.83H135.46V543.5ZM135.46,543.5V499.10H136.70V543.5ZM136.70,543.5V507.14H137.93V543.5ZM137.93,543.5V510.53H139.17V543.5ZM140.40,543.5V510.69H141.64V543.5ZM141.64,543.5V508.61H142.88V543.5ZM142.88,543.5V507.58H144.11V543.5ZM144.11,543.5V507.93H145.35V543.5ZM145.35,543.5V516.25H146.58V543.5ZM146.58,543.5V503.90H147.82V543.5ZM147.82,543.5V519.10H149.05V543.5ZM150.29,543.5V521.02H151.52V543.5ZM151.52,543.5V529.36H152.76V543.5ZM152.76,543.5V519.36H154.00V543.5ZM155.23,543.5V522.84H156.47V543.5ZM156.47,543.5V525.12H157.70V543.5ZM157.70,543.5V519.33H158.94V543.5ZM158.94,543.5V515.49H160.17V543.5ZM160.17,543.5V512.60H161.41V543.5ZM161.41,543.5V519.39H162.64V543.5ZM162.64,543.5V523.46H163.88V543.5ZM163.88,543.5V529.71H165.12V543.5ZM165.12,543.5V527.85H166.35V543.5ZM166.35,543.5V526.46H167.59V543.5ZM167.59,543.5V523.36H168.82V543.5ZM168.82,543.5V524.43H170.06V543.5ZM170.06,543.5V528.16H171.29V543.5ZM171.29,543.5V530.68H172.53V543.5ZM172.53,543.5V531.93H173.76V543.5ZM173.76,543.5V532.22H175.00V543.5ZM176.24,543.5V528.84H177.47V543.5ZM177.47,543.5V533.26H178.71V543.5ZM178.71,543.5V531.69H179.94V543.5ZM179.94,543.5V535.70H181.18V543.5ZM181.18,543.5V532.38H182.41V543.5ZM182.41,543.5V532.25H183.65V543.5ZM183.65,543.5V534.35H184.88V543.5ZM184.88,543.5V533.27H186.12V543.5ZM186.12,543.5V534.51H187.36V543.5ZM187.36,543.5V531.92H188.59V543.5ZM188.59,543.5V532.89H189.83V543.5ZM189.83,543.5V529.77H191.06V543.5ZM191.06,543.5V531.79H192.30V543.5ZM192.30,543.5V526.80H193.53V543.5ZM193.53,543.5V530.04H194.77V543.5ZM194.77,543.5V519.80H196.00V543.5ZM196.00,543.5V515.58H197.24V543.5ZM197.24,543.5V511.95H198.48V543.5ZM198.48,543.5V511.40H199.71V543.5ZM199.71,543.5V507.95H200.95V543.5ZM200.95,543.5V511.10H202.18V543.5ZM202.18,543.5V517.03H203.42V543.5ZM203.42,543.5V505.21H204.65V543.5ZM204.65,543.5V503.48H205.89V543.5ZM205.89,543.5V505.96H207.12V543.5ZM207.12,543.5V500.37H208.36V543.5ZM208.36,543.5V499.83H209.60V543.5ZM210.83,543.5V493.79H212.07V543.5ZM212.07,543.5V485.59H213.30V543.5ZM213.30,543.5V491.53H214.54V543.5ZM214.54,543.5V481.28H215.77V543.5ZM215.77,543.5V474.42H217.01V543.5ZM218.24,543.5V461.18H219.48V543.5ZM219.48,543.5V491.34H220.72V543.5ZM220.72,543.5V482.64H221.95V543.5ZM221.95,543.5V480.28H223.19V543.5ZM223.19,543.5V484.26H224.42V543.5ZM224.42,543.5V491.99H225.66V543.5ZM225.66,543.5V489.91H226.89V543.5ZM228.13,543.5V498.08H229.36V543.5ZM230.60,543.5V483.61H231.84V543.5ZM231.84,543.5V494.85H233.07V543.5ZM233.07,543.5V512.22H234.31V543.5ZM234.31,543.5V520.59H235.54V543.5ZM235.54,543.5V511.03H236.78V543.5ZM236.78,543.5V519.05H238.01V543.5ZM238.01,543.5V513.52H239.25V543.5ZM239.25,543.5V517.80H240.48V543.5ZM240.48,543.5V517.11H241.72V543.5ZM241.72,543.5V522.00H242.96V543.5ZM242.96,543.5V527.90H244.19V543.5ZM244.19,543.5V518.82H245.43V543.5ZM245.43,543.5V526.74H246.66V543.5ZM246.66,543.5V523.64H247.90V543.5ZM247.90,543.5V522.03H249.13V543.5ZM249.13,543.5V528.51H250.37V543.5ZM250.37,543.5V526.61H251.60V543.5ZM251.60,543.5V521.43H252.84V543.5ZM252.84,543.5V527.34H254.08V543.5ZM254.08,543.5V525.14H255.31V543.5ZM256.55,543.5V523.72H257.78V543.5ZM257.78,543.5V523.95H259.02V543.5ZM259.02,543.5V527.86H260.25V543.5ZM260.25,543.5V523.43H261.49V543.5ZM261.49,543.5V528.65H262.72V543.5ZM262.72,543.5V522.03H263.96V543.5ZM263.96,543.5V526.13H265.20V543.5ZM265.20,543.5V521.84H266.43V543.5ZM266.43,543.5V523.41H267.67V543.5ZM267.67,543.5V526.70H268.90V543.5ZM268.90,543.5V528.62H270.14V543.5ZM270.14,543.5V525.84H271.37V543.5ZM271.37,543.5V526.14H272.61V543.5ZM272.61,543.5V525.54H273.84V543.5ZM273.84,543.5V526.99H275.08V543.5ZM275.08,543.5V528.22H276.32V543.5ZM276.32,543.5V527.87H277.55V543.5ZM277.55,543.5V528.00H278.79V543.5ZM278.79,543.5V525.28H280.02V543.5ZM280.02,543.5V524.04H281.26V543.5ZM281.26,543.5V518.23H282.49V543.5ZM283.73,543.5V526.39H284.96V543.5ZM286.20,543.5V535.73H287.44V543.5ZM287.44,543.5V540.22H288.67V543.5ZM288.67,543.5V541.70H289.91V543.5ZM289.91,543.5V541.91H291.14V543.5ZM291.14,543.5V541.65H292.38V543.5ZM292.38,543.5V541.97H293.61V543.5ZM293.61,543.5V541.77H294.85V543.5ZM294.85,543.5V541.93H296.08V543.5ZM296.08,543.5V542.36H297.32V543.5ZM297.32,543.5V542.40H298.56V543.5ZM298.56,543.5V542.17H299.79V543.5ZM299.79,543.5V542.03H301.03V543.5ZM301.03,543.5V541.97H302.26V543.5ZM302.26,543.5V542.62H303.50V543.5ZM303.50,543.5V542.24H304.73V543.5ZM304.73,543.5V542.28H305.97V543.5ZM305.97,543.5V542.22H307.20V543.5ZM307.20,543.5V542.14H308.44V543.5ZM308.44,543.5V542.17H309.68V543.5ZM309.68,543.5V542.27H310.91V543.5ZM310.91,543.5V542.35H312.15V543.5Z" fill="#0a0a0a" stroke="none"/>
<path d="M73.68,543.5V531.56H74.92V543.5ZM102.10,543.5V490.78H103.34V543.5ZM105.81,543.5V467.25H107.04V543.5ZM108.28,543.5V476.56H109.52V543.5ZM120.64,543.5V468.65H121.87V543.5ZM130.52,543.5V508.34H131.76V543.5ZM132.99,543.5V507.70H134.23V543.5ZM139.17,543.5V510.70H140.40V543.5ZM149.05,543.5V517.18H150.29V543.5ZM154.00,543.5V523.65H155.23V543.5ZM175.00,543.5V527.25H176.24V543.5ZM209.60,543.5V496.07H210.83V543.5ZM217.01,543.5V461.74H218.24V543.5ZM226.89,543.5V488.62H228.13V543.5ZM229.36,543.5V479.54H230.60V543.5ZM255.31,543.5V525.77H256.55V543.5ZM282.49,543.5V517.22H283.73V543.5ZM284.96,543.5V531.34H286.20V543.5Z" fill="#7d7d7d" stroke="none"/>
<path d="M63.80,543.50 L63.80,532.92 L66.30,532.12 L68.80,532.87 L71.30,533.62 L73.80,538.07 L76.30,528.48 L78.80,530.75 L81.30,531.00 L83.80,531.25 L86.30,531.50 L88.80,524.60 L91.30,524.60 L93.80,524.60 L96.30,524.60 L98.80,520.46 L101.30,519.07 L103.80,515.81 L106.30,509.51 L108.80,508.56 L111.30,508.22 L113.80,505.29 L116.30,502.60 L118.80,510.92 L121.30,509.80 L123.80,512.54 L126.30,513.42 L128.80,513.71 L131.30,521.55 L133.80,522.21 L136.30,522.87 L138.80,525.63 L141.30,527.12 L143.80,527.18 L146.30,526.08 L148.80,527.66 L151.30,531.04 L153.80,532.72 L156.30,533.87 L158.80,531.62 L161.30,529.48 L163.80,532.03 L166.30,533.96 L168.80,533.96 L171.30,535.31 L173.80,536.72 L176.30,536.14 L178.80,536.71 L181.30,537.27 L183.80,537.83 L186.30,537.49 L188.80,537.07 L191.30,536.64 L193.80,535.26 L196.30,530.37 L198.80,527.42 L201.30,526.54 L203.80,524.87 L206.30,522.82 L208.80,520.76 L211.30,518.38 L213.80,515.86 L216.30,510.29 L218.80,506.33 L221.30,511.23 L223.80,516.40 L226.30,519.32 L228.80,516.19 L231.30,516.83 L233.80,525.47 L236.30,528.10 L238.80,529.58 L241.30,531.07 L243.80,531.77 L246.30,532.32 L248.80,532.72 L251.30,533.10 L253.80,533.48 L256.30,533.56 L258.80,533.60 L261.30,533.65 L263.80,533.70 L266.30,533.75 L268.80,533.80 L271.30,533.92 L273.80,534.10 L276.30,534.28 L278.80,534.46 L281.30,534.26 L283.80,533.13 L286.30,538.34 L288.80,542.60 L291.30,542.64 L293.80,542.68 L296.30,542.71 L298.80,542.75 L301.30,542.79 L303.80,542.82 L306.30,542.86 L308.80,542.90 L311.00,543.50 Z" fill="#0a0a0a"/>
<text x="457.70" y="415.67" font-size="12.54" textLength="87.27" lengthAdjust="spacingAndGlyphs" fill="#111">10.8mM EtOH</text>
<rect x="445.00" y="426.30" width="148.50" height="3.00" fill="#fff" stroke="#111" stroke-width="1"/>
<rect x="471.20" y="422.30" width="44.90" height="4.00" fill="url(#hatch)" stroke="#111" stroke-width="1"/>
<text x="0" y="0" fill="#111"></text>
<text x="441.88" y="445.51" font-size="13.76" textLength="78.03" lengthAdjust="spacingAndGlyphs" fill="#111">100µM CdCl</text>
<text x="519.23" y="448.40" font-size="9.86" textLength="5.20" lengthAdjust="spacingAndGlyphs" fill="#111">2</text>
<text transform="translate(361.03,558.50) rotate(-90)" font-size="15.59" textLength="130.94" lengthAdjust="spacingAndGlyphs" fill="#111">sEPSC frequency</text>
<text transform="translate(379.17,548.30) rotate(-90)" font-size="16.34" textLength="110.99" lengthAdjust="spacingAndGlyphs" fill="#111">(% of baseline)</text>
<line x1="429.50" y1="443.80" x2="429.50" y2="544.00" stroke="#111" stroke-width="1.6"/>
<line x1="426.30" y1="443.80" x2="429.50" y2="443.80" stroke="#111" stroke-width="1.6"/>
<text x="397.19" y="448.42" font-size="13.38" textLength="22.32" lengthAdjust="spacingAndGlyphs" fill="#111">300</text>
<line x1="426.30" y1="460.35" x2="429.50" y2="460.35" stroke="#111" stroke-width="1.6"/>
<text x="397.19" y="464.97" font-size="13.38" textLength="22.32" lengthAdjust="spacingAndGlyphs" fill="#111">250</text>
<line x1="426.30" y1="476.90" x2="429.50" y2="476.90" stroke="#111" stroke-width="1.6"/>
<text x="397.19" y="481.52" font-size="13.38" textLength="22.32" lengthAdjust="spacingAndGlyphs" fill="#111">200</text>
<line x1="426.30" y1="493.45" x2="429.50" y2="493.45" stroke="#111" stroke-width="1.6"/>
<text x="397.19" y="498.07" font-size="13.38" textLength="22.32" lengthAdjust="spacingAndGlyphs" fill="#111">150</text>
<line x1="426.30" y1="510.00" x2="429.50" y2="510.00" stroke="#111" stroke-width="1.6"/>
<text x="397.19" y="514.62" font-size="13.38" textLength="22.32" lengthAdjust="spacingAndGlyphs" fill="#111">100</text>
<line x1="426.30" y1="526.55" x2="429.50" y2="526.55" stroke="#111" stroke-width="1.6"/>
<text x="404.55" y="531.17" font-size="13.38" textLength="14.88" lengthAdjust="spacingAndGlyphs" fill="#111">50</text>
<line x1="426.30" y1="543.10" x2="429.50" y2="543.10" stroke="#111" stroke-width="1.6"/>
<text x="412.04" y="547.72" font-size="13.38" textLength="7.44" lengthAdjust="spacingAndGlyphs" fill="#111">0</text>
<line x1="428.70" y1="543.30" x2="601.00" y2="543.30" stroke="#111" stroke-width="1.6"/>
<line x1="429.50" y1="543.30" x2="429.50" y2="546.30" stroke="#111" stroke-width="1.6"/>
<text x="426.27" y="564.78" font-size="11.55" textLength="6.42" lengthAdjust="spacingAndGlyphs" fill="#111">0</text>
<line x1="463.60" y1="543.30" x2="463.60" y2="546.30" stroke="#111" stroke-width="1.6"/>
<text x="456.90" y="564.78" font-size="11.55" textLength="12.84" lengthAdjust="spacingAndGlyphs" fill="#111">10</text>
<line x1="497.70" y1="543.30" x2="497.70" y2="546.30" stroke="#111" stroke-width="1.6"/>
<text x="491.17" y="564.78" font-size="11.55" textLength="12.84" lengthAdjust="spacingAndGlyphs" fill="#111">20</text>
<line x1="531.80" y1="543.30" x2="531.80" y2="546.30" stroke="#111" stroke-width="1.6"/>
<text x="525.33" y="564.78" font-size="11.55" textLength="12.84" lengthAdjust="spacingAndGlyphs" fill="#111">30</text>
<line x1="565.90" y1="543.30" x2="565.90" y2="546.30" stroke="#111" stroke-width="1.6"/>
<text x="559.55" y="564.78" font-size="11.55" textLength="12.84" lengthAdjust="spacingAndGlyphs" fill="#111">40</text>
<line x1="600.00" y1="543.30" x2="600.00" y2="546.30" stroke="#111" stroke-width="1.6"/>
<text x="593.53" y="564.78" font-size="11.55" textLength="12.84" lengthAdjust="spacingAndGlyphs" fill="#111">50</text>
<text x="474.76" y="587.61" font-size="14.73" textLength="80.86" lengthAdjust="spacingAndGlyphs" fill="#111">Time (min)</text>
<text x="434.21" y="538.07" font-size="12.54" textLength="23.94" lengthAdjust="spacingAndGlyphs" fill="#111"><tspan font-style="italic">n</tspan>=9</text>
<line x1="508.10" y1="467.40" x2="508.10" y2="456.30" stroke="#333" stroke-width="1"/>
<line x1="505.60" y1="456.30" x2="510.60" y2="456.30" stroke="#333" stroke-width="1"/>
<line x1="514.20" y1="473.80" x2="514.20" y2="466.00" stroke="#333" stroke-width="1"/>
<line x1="511.70" y1="466.00" x2="516.70" y2="466.00" stroke="#333" stroke-width="1"/>
<line x1="521.10" y1="463.40" x2="521.10" y2="453.30" stroke="#333" stroke-width="1"/>
<line x1="518.60" y1="453.30" x2="523.60" y2="453.30" stroke="#333" stroke-width="1"/>
<line x1="538.90" y1="482.30" x2="538.90" y2="471.90" stroke="#333" stroke-width="1"/>
<line x1="536.40" y1="471.90" x2="541.40" y2="471.90" stroke="#333" stroke-width="1"/>
<line x1="558.20" y1="500.80" x2="558.20" y2="496.30" stroke="#333" stroke-width="1"/>
<line x1="555.70" y1="496.30" x2="560.70" y2="496.30" stroke="#333" stroke-width="1"/>
<line x1="565.60" y1="502.30" x2="565.60" y2="492.60" stroke="#333" stroke-width="1"/>
<line x1="563.10" y1="492.60" x2="568.10" y2="492.60" stroke="#333" stroke-width="1"/>
<line x1="575.20" y1="501.50" x2="575.20" y2="496.00" stroke="#333" stroke-width="1"/>
<line x1="572.70" y1="496.00" x2="577.70" y2="496.00" stroke="#333" stroke-width="1"/>
<line x1="500.70" y1="484.50" x2="500.70" y2="478.00" stroke="#333" stroke-width="1"/>
<line x1="498.20" y1="478.00" x2="503.20" y2="478.00" stroke="#333" stroke-width="1"/>
<line x1="496.20" y1="491.90" x2="496.20" y2="486.00" stroke="#333" stroke-width="1"/>
<line x1="493.70" y1="486.00" x2="498.70" y2="486.00" stroke="#333" stroke-width="1"/>
<line x1="510.30" y1="479.30" x2="510.30" y2="486.00" stroke="#333" stroke-width="1"/>
<line x1="507.80" y1="486.00" x2="512.80" y2="486.00" stroke="#333" stroke-width="1"/>
<line x1="517.20" y1="476.40" x2="517.20" y2="482.00" stroke="#333" stroke-width="1"/>
<line x1="514.70" y1="482.00" x2="519.70" y2="482.00" stroke="#333" stroke-width="1"/>
<line x1="504.40" y1="483.00" x2="504.40" y2="489.00" stroke="#333" stroke-width="1"/>
<line x1="501.90" y1="489.00" x2="506.90" y2="489.00" stroke="#333" stroke-width="1"/>
<line x1="490.30" y1="497.80" x2="490.30" y2="493.00" stroke="#333" stroke-width="1"/>
<line x1="487.80" y1="493.00" x2="492.80" y2="493.00" stroke="#333" stroke-width="1"/>
<line x1="484.30" y1="514.10" x2="484.30" y2="509.00" stroke="#333" stroke-width="1"/>
<line x1="481.80" y1="509.00" x2="486.80" y2="509.00" stroke="#333" stroke-width="1"/>
<line x1="531.50" y1="487.40" x2="531.50" y2="482.00" stroke="#333" stroke-width="1"/>
<line x1="529.00" y1="482.00" x2="534.00" y2="482.00" stroke="#333" stroke-width="1"/>
<line x1="546.30" y1="497.10" x2="546.30" y2="492.00" stroke="#333" stroke-width="1"/>
<line x1="543.80" y1="492.00" x2="548.80" y2="492.00" stroke="#333" stroke-width="1"/>
<line x1="580.00" y1="508.50" x2="580.00" y2="503.00" stroke="#333" stroke-width="1"/>
<line x1="577.50" y1="503.00" x2="582.50" y2="503.00" stroke="#333" stroke-width="1"/>
<line x1="445.00" y1="509.59" x2="445.00" y2="504.00" stroke="#333" stroke-width="1"/>
<line x1="442.50" y1="504.00" x2="447.50" y2="504.00" stroke="#333" stroke-width="1"/>
<line x1="456.90" y1="512.70" x2="456.90" y2="508.00" stroke="#333" stroke-width="1"/>
<line x1="454.40" y1="508.00" x2="459.40" y2="508.00" stroke="#333" stroke-width="1"/>
<line x1="474.00" y1="520.80" x2="474.00" y2="515.50" stroke="#333" stroke-width="1"/>
<line x1="471.50" y1="515.50" x2="476.50" y2="515.50" stroke="#333" stroke-width="1"/>
<line x1="527.80" y1="481.50" x2="527.80" y2="477.00" stroke="#333" stroke-width="1"/>
<line x1="525.30" y1="477.00" x2="530.30" y2="477.00" stroke="#333" stroke-width="1"/>
<polyline points="431.70,511.90 434.70,512.70 439.90,508.20 442.80,511.20 446.50,508.50 450.20,509.40 453.20,510.40 456.90,512.70 459.90,516.80 463.60,514.90 467.30,517.10 471.00,517.40 474.00,520.80 477.70,517.80 480.60,515.30 484.30,514.10 487.30,505.20 490.30,497.80 493.20,496.30 496.20,491.90 498.40,489.70 500.70,484.50 504.40,483.00 508.10,467.40 510.30,479.30 514.20,473.80 517.20,476.40 521.10,463.40 524.80,479.30 527.80,481.50 531.50,487.40 535.20,483.70 538.90,482.30 541.10,490.40 544.10,494.10 546.30,497.10 549.30,498.60 552.30,497.10 555.20,509.00 558.20,500.80 561.90,505.20 565.60,502.30 569.30,507.50 572.20,505.00 575.20,501.50 579.70,508.20 582.70,511.20 586.40,512.70 590.80,514.10 594.50,513.40 598.20,517.10" fill="none" stroke="#111" stroke-width="1.5" stroke-linejoin="round" stroke-linecap="round"/>
<circle cx="431.70" cy="511.90" r="3.6" fill="#111" stroke="none" stroke-width="0"/>
<circle cx="434.70" cy="512.70" r="3.6" fill="#111" stroke="none" stroke-width="0"/>
<circle cx="439.90" cy="508.20" r="3.6" fill="#111" stroke="none" stroke-width="0"/>
<circle cx="442.80" cy="511.20" r="3.6" fill="#111" stroke="none" stroke-width="0"/>
<circle cx="446.50" cy="508.50" r="3.6" fill="#111" stroke="none" stroke-width="0"/>
<circle cx="450.20" cy="509.40" r="3.6" fill="#111" stroke="none" stroke-width="0"/>
<circle cx="453.20" cy="510.40" r="3.6" fill="#111" stroke="none" stroke-width="0"/>
<circle cx="456.90" cy="512.70" r="3.6" fill="#111" stroke="none" stroke-width="0"/>
<circle cx="459.90" cy="516.80" r="3.6" fill="#111" stroke="none" stroke-width="0"/>
<circle cx="463.60" cy="514.90" r="3.6" fill="#111" stroke="none" stroke-width="0"/>
<circle cx="467.30" cy="517.10" r="3.6" fill="#111" stroke="none" stroke-width="0"/>
<circle cx="471.00" cy="517.40" r="3.6" fill="#111" stroke="none" stroke-width="0"/>
<circle cx="474.00" cy="520.80" r="3.6" fill="#111" stroke="none" stroke-width="0"/>
<circle cx="477.70" cy="517.80" r="3.6" fill="#111" stroke="none" stroke-width="0"/>
<circle cx="480.60" cy="515.30" r="3.6" fill="#111" stroke="none" stroke-width="0"/>
<circle cx="484.30" cy="514.10" r="3.6" fill="#111" stroke="none" stroke-width="0"/>
<circle cx="487.30" cy="505.20" r="3.6" fill="#111" stroke="none" stroke-width="0"/>
<circle cx="490.30" cy="497.80" r="3.6" fill="#111" stroke="none" stroke-width="0"/>
<circle cx="493.20" cy="496.30" r="3.6" fill="#111" stroke="none" stroke-width="0"/>
<circle cx="496.20" cy="491.90" r="3.6" fill="#111" stroke="none" stroke-width="0"/>
<circle cx="498.40" cy="489.70" r="3.6" fill="#111" stroke="none" stroke-width="0"/>
<circle cx="500.70" cy="484.50" r="3.6" fill="#111" stroke="none" stroke-width="0"/>
<circle cx="504.40" cy="483.00" r="3.6" fill="#111" stroke="none" stroke-width="0"/>
<circle cx="508.10" cy="467.40" r="3.6" fill="#111" stroke="none" stroke-width="0"/>
<circle cx="510.30" cy="479.30" r="3.6" fill="#111" stroke="none" stroke-width="0"/>
<circle cx="514.20" cy="473.80" r="3.6" fill="#111" stroke="none" stroke-width="0"/>
<circle cx="517.20" cy="476.40" r="3.6" fill="#111" stroke="none" stroke-width="0"/>
<circle cx="521.10" cy="463.40" r="3.6" fill="#111" stroke="none" stroke-width="0"/>
<circle cx="524.80" cy="479.30" r="3.6" fill="#111" stroke="none" stroke-width="0"/>
<circle cx="527.80" cy="481.50" r="3.6" fill="#111" stroke="none" stroke-width="0"/>
<circle cx="531.50" cy="487.40" r="3.6" fill="#111" stroke="none" stroke-width="0"/>
<circle cx="535.20" cy="483.70" r="3.6" fill="#111" stroke="none" stroke-width="0"/>
<circle cx="538.90" cy="482.30" r="3.6" fill="#111" stroke="none" stroke-width="0"/>
<circle cx="541.10" cy="490.40" r="3.6" fill="#111" stroke="none" stroke-width="0"/>
<circle cx="544.10" cy="494.10" r="3.6" fill="#111" stroke="none" stroke-width="0"/>
<circle cx="546.30" cy="497.10" r="3.6" fill="#111" stroke="none" stroke-width="0"/>
<circle cx="549.30" cy="498.60" r="3.6" fill="#111" stroke="none" stroke-width="0"/>
<circle cx="552.30" cy="497.10" r="3.6" fill="#111" stroke="none" stroke-width="0"/>
<circle cx="555.20" cy="509.00" r="3.6" fill="#111" stroke="none" stroke-width="0"/>
<circle cx="558.20" cy="500.80" r="3.6" fill="#111" stroke="none" stroke-width="0"/>
<circle cx="561.90" cy="505.20" r="3.6" fill="#111" stroke="none" stroke-width="0"/>
<circle cx="565.60" cy="502.30" r="3.6" fill="#111" stroke="none" stroke-width="0"/>
<circle cx="569.30" cy="507.50" r="3.6" fill="#111" stroke="none" stroke-width="0"/>
<circle cx="572.20" cy="505.00" r="3.6" fill="#111" stroke="none" stroke-width="0"/>
<circle cx="575.20" cy="501.50" r="3.6" fill="#111" stroke="none" stroke-width="0"/>
<circle cx="579.70" cy="508.20" r="3.6" fill="#111" stroke="none" stroke-width="0"/>
<circle cx="582.70" cy="511.20" r="3.6" fill="#111" stroke="none" stroke-width="0"/>
<circle cx="586.40" cy="512.70" r="3.6" fill="#111" stroke="none" stroke-width="0"/>
<circle cx="590.80" cy="514.10" r="3.6" fill="#111" stroke="none" stroke-width="0"/>
<circle cx="594.50" cy="513.40" r="3.6" fill="#111" stroke="none" stroke-width="0"/>
<circle cx="598.20" cy="517.10" r="3.6" fill="#111" stroke="none" stroke-width="0"/>
<line x1="64.20" y1="654.60" x2="64.20" y2="755.40" stroke="#111" stroke-width="1.6"/>
<line x1="63.40" y1="754.60" x2="145.30" y2="754.60" stroke="#111" stroke-width="1.6"/>
<line x1="61.00" y1="654.60" x2="64.20" y2="654.60" stroke="#111" stroke-width="1.6"/>
<text x="34.83" y="659.03" font-size="12.25" textLength="19.74" lengthAdjust="spacingAndGlyphs" fill="#111">1.0</text>
<line x1="61.00" y1="704.60" x2="64.20" y2="704.60" stroke="#111" stroke-width="1.6"/>
<text x="34.83" y="709.03" font-size="12.25" textLength="19.74" lengthAdjust="spacingAndGlyphs" fill="#111">0.5</text>
<line x1="61.00" y1="754.60" x2="64.20" y2="754.60" stroke="#111" stroke-width="1.6"/>
<text x="34.83" y="759.03" font-size="12.25" textLength="19.74" lengthAdjust="spacingAndGlyphs" fill="#111">0.0</text>
<line x1="65.70" y1="754.60" x2="65.70" y2="757.60" stroke="#111" stroke-width="1.6"/>
<text x="61.93" y="776.27" font-size="12.82" textLength="7.48" lengthAdjust="spacingAndGlyphs" fill="#111">0</text>
<line x1="105.20" y1="754.60" x2="105.20" y2="757.60" stroke="#111" stroke-width="1.6"/>
<text x="101.38" y="776.27" font-size="13.00" textLength="7.59" lengthAdjust="spacingAndGlyphs" fill="#111">5</text>
<line x1="145.30" y1="754.60" x2="145.30" y2="757.60" stroke="#111" stroke-width="1.6"/>
<text x="137.49" y="776.27" font-size="12.82" textLength="14.97" lengthAdjust="spacingAndGlyphs" fill="#111">10</text>
<polyline points="65.60,754.70 65.78,753.70 66.01,752.43 66.28,750.93 66.59,749.24 66.92,747.41 67.26,745.50 67.61,743.54 67.96,741.59 68.29,739.70 68.60,737.90 68.89,736.15 69.18,734.37 69.47,732.57 69.76,730.76 70.05,728.94 70.34,727.12 70.63,725.32 70.92,723.55 71.21,721.80 71.50,720.10 71.79,718.43 72.08,716.78 72.36,715.15 72.65,713.54 72.94,711.95 73.23,710.38 73.53,708.83 73.84,707.30 74.16,705.79 74.50,704.30 74.85,702.83 75.20,701.38 75.57,699.95 75.94,698.54 76.33,697.16 76.72,695.79 77.12,694.44 77.54,693.11 77.96,691.79 78.40,690.50 78.85,689.22 79.32,687.97 79.79,686.73 80.28,685.51 80.78,684.31 81.28,683.12 81.80,681.96 82.32,680.82 82.86,679.70 83.40,678.60 83.95,677.51 84.52,676.43 85.10,675.36 85.70,674.30 86.29,673.28 86.90,672.28 87.50,671.31 88.11,670.39 88.71,669.52 89.30,668.70 89.89,667.94 90.48,667.23 91.07,666.56 91.66,665.94 92.24,665.36 92.83,664.80 93.42,664.27 94.01,663.77 94.61,663.28 95.20,662.80 95.79,662.34 96.36,661.92 96.93,661.52 97.50,661.15 98.08,660.80 98.66,660.46 99.26,660.14 99.88,659.83 100.52,659.51 101.20,659.20 101.90,658.89 102.63,658.58 103.37,658.28 104.13,657.98 104.91,657.70 105.70,657.43 106.52,657.17 107.36,656.93 108.22,656.71 109.10,656.50 110.01,656.31 110.95,656.14 111.92,655.99 112.92,655.85 113.92,655.73 114.94,655.62 115.97,655.52 116.99,655.44 118.00,655.36 119.00,655.30 120.03,655.25 121.14,655.22 122.28,655.21 123.44,655.21 124.57,655.22 125.65,655.24 126.66,655.26 127.55,655.28 128.31,655.29 128.90,655.30" fill="none" stroke="#111" stroke-width="2.4" stroke-linejoin="round" stroke-linecap="round"/>
<polyline points="65.20,754.70 65.28,753.84 65.38,752.77 65.50,751.51 65.63,750.09 65.77,748.54 65.93,746.89 66.09,745.17 66.26,743.42 66.43,741.65 66.60,739.90 66.78,738.10 66.96,736.20 67.16,734.20 67.36,732.15 67.57,730.06 67.78,727.97 67.99,725.90 68.20,723.88 68.40,721.94 68.60,720.10 68.79,718.35 68.98,716.65 69.17,715.00 69.36,713.40 69.55,711.83 69.74,710.28 69.93,708.77 70.12,707.27 70.31,705.78 70.50,704.30 70.69,702.84 70.88,701.41 71.07,700.02 71.26,698.64 71.46,697.28 71.65,695.93 71.85,694.58 72.06,693.23 72.28,691.88 72.50,690.50 72.73,689.10 72.97,687.69 73.21,686.27 73.46,684.85 73.72,683.42 73.98,682.01 74.25,680.62 74.53,679.25 74.81,677.91 75.10,676.60 75.40,675.31 75.70,674.02 76.02,672.74 76.34,671.47 76.66,670.23 77.00,669.03 77.34,667.88 77.68,666.78 78.04,665.75 78.40,664.80 78.77,663.92 79.14,663.11 79.52,662.36 79.91,661.66 80.30,661.02 80.70,660.42 81.11,659.86 81.53,659.34 81.96,658.86 82.40,658.40 82.85,657.98 83.30,657.62 83.77,657.30 84.24,657.03 84.73,656.79 85.22,656.58 85.72,656.39 86.24,656.22 86.76,656.06 87.30,655.90 87.72,655.76 87.96,655.65 88.09,655.56 88.20,655.49 88.38,655.44 88.72,655.41 89.29,655.38 90.19,655.35 91.50,655.33 93.30,655.30 95.82,655.28 99.10,655.26 102.93,655.26 107.12,655.26 111.48,655.26 115.80,655.27 119.90,655.28 123.58,655.29 126.65,655.30 128.90,655.30" fill="none" stroke="#e8141c" stroke-width="3" stroke-linejoin="round" stroke-linecap="round"/>
<text x="71.99" y="620.94" font-size="15.92" textLength="54.74" lengthAdjust="spacingAndGlyphs" fill="#111">sEPSC</text>
<text x="63.58" y="643.87" font-size="12.96" textLength="31.10" lengthAdjust="spacingAndGlyphs" fill="#111">EtOH</text>
<text x="102.88" y="680.09" font-size="11.13" textLength="26.17" lengthAdjust="spacingAndGlyphs" fill="#111">Cont</text>
<line x1="76.50" y1="648.00" x2="83.00" y2="654.90" stroke="#111" stroke-width="1.1"/>
<line x1="95.20" y1="662.80" x2="102.20" y2="668.70" stroke="#111" stroke-width="1.1"/>
<text x="80.70" y="721.96" font-size="13.94" textLength="58.59" lengthAdjust="spacingAndGlyphs" fill="#111">K-S=20%</text>
<text x="81.00" y="734.72" font-size="15.16" textLength="48.77" lengthAdjust="spacingAndGlyphs" fill="#111"><tspan font-style="italic">p</tspan>&lt;0.001</text>
<line x1="197.60" y1="654.60" x2="197.60" y2="755.40" stroke="#111" stroke-width="1.6"/>
<line x1="196.80" y1="754.60" x2="278.70" y2="754.60" stroke="#111" stroke-width="1.6"/>
<line x1="194.40" y1="654.60" x2="197.60" y2="654.60" stroke="#111" stroke-width="1.6"/>
<text x="168.23" y="659.03" font-size="12.25" textLength="19.74" lengthAdjust="spacingAndGlyphs" fill="#111">1.0</text>
<line x1="194.40" y1="704.60" x2="197.60" y2="704.60" stroke="#111" stroke-width="1.6"/>
<text x="168.23" y="709.03" font-size="12.25" textLength="19.74" lengthAdjust="spacingAndGlyphs" fill="#111">0.5</text>
<line x1="194.40" y1="754.60" x2="197.60" y2="754.60" stroke="#111" stroke-width="1.6"/>
<text x="168.23" y="759.03" font-size="12.25" textLength="19.74" lengthAdjust="spacingAndGlyphs" fill="#111">0.0</text>
<line x1="197.60" y1="754.60" x2="197.60" y2="757.60" stroke="#111" stroke-width="1.6"/>
<text x="193.83" y="776.27" font-size="12.82" textLength="7.48" lengthAdjust="spacingAndGlyphs" fill="#111">0</text>
<line x1="225.30" y1="754.60" x2="225.30" y2="757.60" stroke="#111" stroke-width="1.6"/>
<text x="217.76" y="776.27" font-size="12.82" textLength="14.97" lengthAdjust="spacingAndGlyphs" fill="#111">30</text>
<line x1="252.00" y1="754.60" x2="252.00" y2="757.60" stroke="#111" stroke-width="1.6"/>
<text x="244.40" y="776.27" font-size="12.82" textLength="14.97" lengthAdjust="spacingAndGlyphs" fill="#111">60</text>
<line x1="278.70" y1="754.60" x2="278.70" y2="757.60" stroke="#111" stroke-width="1.6"/>
<text x="271.10" y="776.27" font-size="12.82" textLength="14.97" lengthAdjust="spacingAndGlyphs" fill="#111">90</text>
<polyline points="202.60,754.70 202.68,753.46 202.77,751.87 202.88,749.98 203.01,747.87 203.15,745.59 203.30,743.21 203.45,740.80 203.60,738.41 203.75,736.13 203.90,734.00 204.05,731.97 204.20,729.92 204.36,727.87 204.53,725.82 204.69,723.79 204.86,721.79 205.03,719.82 205.19,717.89 205.35,716.01 205.50,714.20 205.65,712.44 205.78,710.72 205.92,709.04 206.05,707.40 206.18,705.81 206.31,704.25 206.44,702.73 206.58,701.25 206.74,699.80 206.90,698.40 207.07,697.04 207.25,695.74 207.44,694.48 207.63,693.26 207.82,692.08 208.03,690.93 208.24,689.80 208.45,688.69 208.67,687.59 208.90,686.50 209.13,685.42 209.38,684.34 209.63,683.29 209.88,682.25 210.14,681.24 210.41,680.25 210.68,679.29 210.95,678.36 211.23,677.46 211.50,676.60 211.78,675.77 212.06,674.95 212.34,674.16 212.63,673.39 212.93,672.66 213.22,671.96 213.51,671.32 213.81,670.72 214.10,670.18 214.40,669.70 214.70,669.30 214.99,668.98 215.29,668.74 215.59,668.54 215.89,668.39 216.20,668.26 216.50,668.14 216.80,668.02 217.10,667.87 217.40,667.70 217.70,667.52 217.99,667.36 218.27,667.22 218.56,667.08 218.84,666.94 219.14,666.78 219.43,666.59 219.74,666.38 220.06,666.12 220.40,665.80 220.75,665.42 221.12,664.97 221.50,664.48 221.89,663.95 222.29,663.40 222.69,662.84 223.09,662.29 223.50,661.75 223.90,661.25 224.30,660.80 224.70,660.38 225.10,659.97 225.50,659.57 225.90,659.19 226.30,658.82 226.70,658.48 227.10,658.15 227.50,657.84 227.90,657.56 228.30,657.30 228.68,657.07 229.02,656.87 229.35,656.69 229.68,656.54 230.01,656.41 230.36,656.29 230.74,656.18 231.17,656.08 231.65,655.99 232.20,655.90 232.86,655.82 233.65,655.75 234.52,655.69 235.45,655.65 236.39,655.61 237.32,655.58 238.18,655.56 238.96,655.54 239.61,655.52 240.10,655.50" fill="none" stroke="#111" stroke-width="2.4" stroke-linejoin="round" stroke-linecap="round"/>
<polyline points="202.60,754.70 202.71,753.60 202.85,752.21 203.01,750.56 203.20,748.72 203.40,746.71 203.61,744.60 203.83,742.43 204.06,740.24 204.28,738.08 204.50,736.00 204.72,733.92 204.94,731.74 205.18,729.50 205.41,727.22 205.66,724.92 205.90,722.64 206.15,720.40 206.40,718.23 206.65,716.15 206.90,714.20 207.15,712.36 207.40,710.61 207.64,708.93 207.89,707.31 208.14,705.74 208.40,704.22 208.66,702.74 208.93,701.28 209.21,699.84 209.50,698.40 209.80,696.98 210.09,695.60 210.40,694.25 210.71,692.93 211.02,691.64 211.35,690.37 211.69,689.12 212.05,687.90 212.41,686.69 212.80,685.50 213.21,684.32 213.63,683.16 214.08,682.02 214.53,680.89 215.00,679.79 215.48,678.72 215.96,677.67 216.44,676.65 216.92,675.66 217.40,674.70 217.87,673.78 218.34,672.88 218.81,672.02 219.29,671.18 219.76,670.37 220.25,669.59 220.74,668.83 221.24,668.10 221.76,667.39 222.30,666.70 222.85,666.04 223.42,665.40 223.99,664.80 224.58,664.21 225.18,663.66 225.78,663.12 226.40,662.61 227.02,662.12 227.66,661.65 228.30,661.20 228.94,660.78 229.59,660.38 230.24,660.01 230.90,659.66 231.57,659.33 232.25,659.02 232.95,658.73 233.68,658.44 234.42,658.17 235.20,657.90 236.00,657.64 236.84,657.39 237.69,657.16 238.57,656.94 239.46,656.73 240.37,656.54 241.29,656.36 242.22,656.19 243.16,656.04 244.10,655.90 245.03,655.78 245.95,655.68 246.87,655.60 247.80,655.53 248.74,655.47 249.71,655.43 250.71,655.39 251.75,655.36 252.85,655.33 254.00,655.30 255.28,655.28 256.73,655.26 258.29,655.26 259.90,655.26 261.52,655.26 263.09,655.27 264.55,655.28 265.86,655.29 266.96,655.30 267.80,655.30" fill="none" stroke="#e8141c" stroke-width="3" stroke-linejoin="round" stroke-linecap="round"/>
<text x="212.89" y="621.25" font-size="14.65" textLength="55.26" lengthAdjust="spacingAndGlyphs" fill="#111">sEPSC</text>
<text x="198.79" y="643.06" font-size="13.80" textLength="25.96" lengthAdjust="spacingAndGlyphs" fill="#111">Cont</text>
<text x="239.68" y="685.39" font-size="11.13" textLength="31.20" lengthAdjust="spacingAndGlyphs" fill="#111">EtOH</text>
<line x1="211.50" y1="650.90" x2="221.30" y2="661.80" stroke="#111" stroke-width="1.1"/>
<line x1="230.20" y1="662.80" x2="241.10" y2="671.70" stroke="#111" stroke-width="1.1"/>
<text x="215.69" y="720.96" font-size="13.94" textLength="70.41" lengthAdjust="spacingAndGlyphs" fill="#111">K-S=25.8%</text>
<text x="215.98" y="734.72" font-size="15.16" textLength="42.01" lengthAdjust="spacingAndGlyphs" fill="#111"><tspan font-style="italic">p</tspan>&lt;0.05</text>
<text x="31.68" y="802.10" font-size="17.63" textLength="154.31" lengthAdjust="spacingAndGlyphs" fill="#111">Interevent interval(s)</text>
<text x="187.90" y="802.10" font-size="17.63" textLength="106.91" lengthAdjust="spacingAndGlyphs" fill="#111">Amplitude(pA)</text>
<text transform="translate(19.05,789.14) rotate(-90)" font-size="16.88" textLength="164.59" lengthAdjust="spacingAndGlyphs" fill="#111">Cumulative probability</text>
<line x1="373.60" y1="654.60" x2="373.60" y2="755.40" stroke="#111" stroke-width="1.6"/>
<line x1="372.80" y1="754.60" x2="453.70" y2="754.60" stroke="#111" stroke-width="1.6"/>
<line x1="370.40" y1="654.60" x2="373.60" y2="654.60" stroke="#111" stroke-width="1.6"/>
<text x="344.23" y="659.03" font-size="12.25" textLength="19.74" lengthAdjust="spacingAndGlyphs" fill="#111">1.0</text>
<line x1="370.40" y1="704.60" x2="373.60" y2="704.60" stroke="#111" stroke-width="1.6"/>
<text x="344.23" y="709.03" font-size="12.25" textLength="19.74" lengthAdjust="spacingAndGlyphs" fill="#111">0.5</text>
<line x1="370.40" y1="754.60" x2="373.60" y2="754.60" stroke="#111" stroke-width="1.6"/>
<text x="344.23" y="759.03" font-size="12.25" textLength="19.74" lengthAdjust="spacingAndGlyphs" fill="#111">0.0</text>
<line x1="375.40" y1="754.60" x2="375.40" y2="757.60" stroke="#111" stroke-width="1.6"/>
<text x="371.63" y="776.27" font-size="12.82" textLength="7.48" lengthAdjust="spacingAndGlyphs" fill="#111">0</text>
<line x1="414.70" y1="754.60" x2="414.70" y2="757.60" stroke="#111" stroke-width="1.6"/>
<text x="410.88" y="776.27" font-size="13.00" textLength="7.59" lengthAdjust="spacingAndGlyphs" fill="#111">5</text>
<line x1="453.70" y1="754.60" x2="453.70" y2="757.60" stroke="#111" stroke-width="1.6"/>
<text x="445.89" y="776.27" font-size="12.82" textLength="14.97" lengthAdjust="spacingAndGlyphs" fill="#111">10</text>
<polyline points="375.60,754.70 375.78,753.46 376.01,751.84 376.28,749.92 376.59,747.77 376.92,745.46 377.26,743.06 377.61,740.65 377.96,738.29 378.29,736.05 378.60,734.00 378.89,732.09 379.18,730.19 379.47,728.32 379.76,726.48 380.05,724.68 380.34,722.90 380.63,721.16 380.92,719.46 381.21,717.81 381.50,716.20 381.79,714.65 382.08,713.17 382.36,711.74 382.65,710.35 382.94,709.00 383.23,707.67 383.53,706.34 383.84,705.01 384.16,703.67 384.50,702.30 384.85,700.91 385.20,699.50 385.57,698.09 385.94,696.68 386.32,695.27 386.72,693.88 387.12,692.50 387.54,691.14 387.96,689.80 388.40,688.50 388.85,687.22 389.32,685.93 389.79,684.66 390.28,683.41 390.77,682.18 391.28,680.98 391.80,679.82 392.32,678.69 392.86,677.62 393.40,676.60 393.94,675.64 394.49,674.73 395.04,673.87 395.60,673.06 396.17,672.28 396.75,671.52 397.35,670.80 397.98,670.09 398.62,669.39 399.30,668.70 400.01,668.02 400.75,667.36 401.52,666.71 402.32,666.09 403.12,665.48 403.94,664.90 404.77,664.34 405.59,663.80 406.40,663.29 407.20,662.80 407.98,662.34 408.75,661.91 409.51,661.50 410.26,661.11 411.02,660.75 411.80,660.41 412.58,660.08 413.39,659.77 414.23,659.48 415.10,659.20 416.01,658.94 416.95,658.70 417.92,658.48 418.92,658.27 419.93,658.09 420.94,657.91 421.97,657.75 422.99,657.60 424.00,657.45 425.00,657.30 425.98,657.16 426.95,657.03 427.91,656.91 428.86,656.81 429.82,656.71 430.80,656.61 431.78,656.53 432.79,656.45 433.83,656.37 434.90,656.30 436.06,656.23 437.34,656.18 438.70,656.12 440.09,656.08 441.47,656.04 442.80,656.00 444.04,655.97 445.15,655.94 446.08,655.92 446.80,655.90" fill="none" stroke="#111" stroke-width="2.4" stroke-linejoin="round" stroke-linecap="round"/>
<polyline points="375.20,754.70 375.32,753.46 375.47,751.87 375.66,749.98 375.86,747.87 376.08,745.59 376.31,743.21 376.54,740.80 376.77,738.41 377.00,736.13 377.20,734.00 377.39,731.97 377.58,729.92 377.77,727.87 377.96,725.82 378.15,723.79 378.34,721.79 378.53,719.82 378.72,717.89 378.91,716.01 379.10,714.20 379.29,712.46 379.49,710.78 379.68,709.17 379.87,707.59 380.07,706.05 380.27,704.53 380.47,703.01 380.67,701.50 380.88,699.96 381.10,698.40 381.32,696.80 381.55,695.18 381.79,693.54 382.03,691.89 382.28,690.26 382.52,688.64 382.77,687.05 383.01,685.51 383.26,684.02 383.50,682.60 383.74,681.24 383.97,679.92 384.20,678.65 384.43,677.42 384.66,676.22 384.89,675.06 385.13,673.93 385.38,672.83 385.63,671.75 385.90,670.70 386.18,669.67 386.45,668.66 386.74,667.67 387.03,666.71 387.32,665.79 387.63,664.90 387.95,664.05 388.29,663.25 388.63,662.50 389.00,661.80 389.38,661.16 389.77,660.57 390.18,660.03 390.59,659.53 391.02,659.08 391.47,658.67 391.93,658.28 392.40,657.93 392.89,657.60 393.40,657.30 393.91,657.03 394.42,656.81 394.93,656.62 395.46,656.47 396.01,656.34 396.58,656.24 397.19,656.15 397.84,656.07 398.54,655.99 399.30,655.90 400.13,655.82 401.02,655.75 401.98,655.69 402.97,655.64 404.00,655.60 405.05,655.57 406.10,655.54 407.16,655.53 408.19,655.51 409.20,655.50 410.23,655.50 411.34,655.50 412.48,655.52 413.64,655.55 414.77,655.58 415.85,655.61 416.86,655.64 417.75,655.66 418.51,655.69 419.10,655.70" fill="none" stroke="#e8141c" stroke-width="3" stroke-linejoin="round" stroke-linecap="round"/>
<text x="387.99" y="621.94" font-size="15.63" textLength="61.30" lengthAdjust="spacingAndGlyphs" fill="#111">mEPSC</text>
<text x="366.74" y="642.98" font-size="12.11" textLength="62.95" lengthAdjust="spacingAndGlyphs" fill="#111">TTX+EtOH</text>
<text x="420.82" y="681.60" font-size="14.35" textLength="26.38" lengthAdjust="spacingAndGlyphs" fill="#111">TTX</text>
<line x1="400.30" y1="643.50" x2="400.30" y2="655.90" stroke="#111" stroke-width="1.1"/>
<line x1="430.00" y1="656.90" x2="432.50" y2="666.70" stroke="#111" stroke-width="1.1"/>
<text x="388.29" y="721.97" font-size="12.54" textLength="70.41" lengthAdjust="spacingAndGlyphs" fill="#111">K-S=20.2%</text>
<text x="388.58" y="734.95" font-size="14.07" textLength="49.90" lengthAdjust="spacingAndGlyphs" fill="#111"><tspan font-style="italic">p</tspan>&lt;0.001</text>
<line x1="508.60" y1="654.60" x2="508.60" y2="755.40" stroke="#111" stroke-width="1.6"/>
<line x1="507.80" y1="754.60" x2="588.70" y2="754.60" stroke="#111" stroke-width="1.6"/>
<line x1="505.40" y1="654.60" x2="508.60" y2="654.60" stroke="#111" stroke-width="1.6"/>
<text x="479.23" y="659.03" font-size="12.25" textLength="19.74" lengthAdjust="spacingAndGlyphs" fill="#111">1.0</text>
<line x1="505.40" y1="704.60" x2="508.60" y2="704.60" stroke="#111" stroke-width="1.6"/>
<text x="479.23" y="709.03" font-size="12.25" textLength="19.74" lengthAdjust="spacingAndGlyphs" fill="#111">0.5</text>
<line x1="505.40" y1="754.60" x2="508.60" y2="754.60" stroke="#111" stroke-width="1.6"/>
<text x="479.23" y="759.03" font-size="12.25" textLength="19.74" lengthAdjust="spacingAndGlyphs" fill="#111">0.0</text>
<line x1="508.60" y1="754.60" x2="508.60" y2="757.60" stroke="#111" stroke-width="1.6"/>
<text x="504.83" y="776.27" font-size="12.82" textLength="7.48" lengthAdjust="spacingAndGlyphs" fill="#111">0</text>
<line x1="549.20" y1="754.60" x2="549.20" y2="757.60" stroke="#111" stroke-width="1.6"/>
<text x="541.60" y="776.27" font-size="12.82" textLength="14.97" lengthAdjust="spacingAndGlyphs" fill="#111">20</text>
<line x1="588.70" y1="754.60" x2="588.70" y2="757.60" stroke="#111" stroke-width="1.6"/>
<text x="581.30" y="776.27" font-size="12.82" textLength="14.97" lengthAdjust="spacingAndGlyphs" fill="#111">40</text>
<polyline points="517.50,754.70 517.70,753.82 517.96,752.70 518.26,751.38 518.61,749.89 518.97,748.29 519.36,746.60 519.76,744.88 520.15,743.16 520.54,741.49 520.90,739.90 521.25,738.35 521.61,736.77 521.97,735.17 522.33,733.56 522.69,731.94 523.06,730.33 523.42,728.73 523.78,727.15 524.14,725.61 524.50,724.10 524.85,722.62 525.21,721.16 525.56,719.72 525.91,718.30 526.26,716.90 526.61,715.52 526.96,714.16 527.31,712.82 527.65,711.50 528.00,710.20 528.34,708.94 528.68,707.74 529.01,706.57 529.34,705.43 529.68,704.30 530.01,703.17 530.35,702.03 530.69,700.86 531.04,699.66 531.40,698.40 531.77,697.07 532.15,695.68 532.53,694.23 532.92,692.76 533.31,691.27 533.71,689.81 534.11,688.38 534.51,687.00 534.90,685.70 535.30,684.50 535.69,683.39 536.08,682.35 536.46,681.38 536.85,680.45 537.24,679.57 537.63,678.72 538.03,677.90 538.44,677.09 538.86,676.30 539.30,675.50 539.75,674.71 540.20,673.94 540.67,673.19 541.14,672.46 541.62,671.75 542.12,671.06 542.62,670.39 543.14,669.74 543.66,669.11 544.20,668.50 544.76,667.91 545.33,667.36 545.92,666.82 546.53,666.31 547.14,665.81 547.75,665.33 548.37,664.86 548.99,664.40 549.60,663.95 550.20,663.50 550.79,663.05 551.35,662.62 551.91,662.19 552.47,661.78 553.03,661.38 553.60,660.98 554.19,660.60 554.79,660.22 555.43,659.86 556.10,659.50 556.80,659.15 557.52,658.80 558.26,658.46 559.02,658.13 559.80,657.81 560.60,657.51 561.42,657.22 562.26,656.96 563.12,656.71 564.00,656.50 564.90,656.31 565.84,656.16 566.79,656.02 567.77,655.91 568.76,655.81 569.77,655.73 570.79,655.66 571.82,655.60 572.86,655.55 573.90,655.50 575.00,655.46 576.19,655.44 577.44,655.43 578.71,655.43 579.97,655.44 581.18,655.45 582.30,655.47 583.30,655.48 584.15,655.50 584.80,655.50" fill="none" stroke="#111" stroke-width="3.4" stroke-linejoin="round" stroke-linecap="round"/>
<polyline points="517.50,754.70 517.70,753.82 517.96,752.70 518.26,751.38 518.61,749.89 518.97,748.29 519.36,746.60 519.76,744.88 520.15,743.16 520.54,741.49 520.90,739.90 521.25,738.35 521.61,736.77 521.97,735.17 522.33,733.56 522.69,731.94 523.06,730.33 523.42,728.73 523.78,727.15 524.14,725.61 524.50,724.10 524.85,722.62 525.21,721.16 525.56,719.72 525.91,718.30 526.26,716.90 526.61,715.52 526.96,714.16 527.31,712.82 527.65,711.50 528.00,710.20 528.34,708.94 528.68,707.74 529.01,706.57 529.34,705.43 529.68,704.30 530.01,703.17 530.35,702.03 530.69,700.86 531.04,699.66 531.40,698.40 531.77,697.08 532.15,695.69 532.53,694.26 532.92,692.79 533.31,691.32 533.71,689.87 534.11,688.43 534.51,687.05 534.90,685.73 535.30,684.50 535.69,683.35 536.08,682.25 536.46,681.20 536.85,680.20 537.24,679.23 537.63,678.29 538.03,677.38 538.44,676.48 538.86,675.59 539.30,674.70 539.75,673.82 540.20,672.94 540.67,672.09 541.14,671.25 541.62,670.43 542.12,669.63 542.62,668.86 543.14,668.11 543.66,667.39 544.20,666.70 544.76,666.04 545.33,665.40 545.92,664.80 546.53,664.21 547.14,663.66 547.75,663.12 548.37,662.61 548.99,662.12 549.60,661.65 550.20,661.20 550.79,660.78 551.35,660.38 551.91,660.01 552.47,659.66 553.03,659.33 553.60,659.02 554.19,658.73 554.79,658.44 555.43,658.17 556.10,657.90 556.80,657.64 557.52,657.39 558.26,657.16 559.02,656.94 559.80,656.73 560.60,656.54 561.42,656.36 562.26,656.19 563.12,656.04 564.00,655.90 564.90,655.78 565.84,655.68 566.79,655.59 567.77,655.52 568.76,655.46 569.77,655.42 570.79,655.38 571.82,655.35 572.86,655.32 573.90,655.30 575.00,655.29 576.19,655.29 577.44,655.31 578.71,655.33 579.97,655.36 581.18,655.40 582.30,655.43 583.30,655.46 584.15,655.48 584.80,655.50" fill="none" stroke="#e8141c" stroke-width="2.6" stroke-linejoin="round" stroke-linecap="round"/>
<text x="515.10" y="621.46" font-size="13.94" textLength="60.79" lengthAdjust="spacingAndGlyphs" fill="#111">mEPSC</text>
<text x="506.15" y="642.98" font-size="12.11" textLength="60.50" lengthAdjust="spacingAndGlyphs" fill="#111">TTX+EtOH</text>
<text x="556.86" y="680.20" font-size="12.32" textLength="22.89" lengthAdjust="spacingAndGlyphs" fill="#111">TTX</text>
<line x1="541.30" y1="648.00" x2="550.50" y2="660.80" stroke="#111" stroke-width="1.1"/>
<line x1="555.10" y1="660.80" x2="559.60" y2="666.40" stroke="#111" stroke-width="1.1"/>
<text x="534.19" y="721.57" font-size="12.82" textLength="62.97" lengthAdjust="spacingAndGlyphs" fill="#111">K-S=9.9%</text>
<text x="534.46" y="734.95" font-size="14.07" textLength="35.61" lengthAdjust="spacingAndGlyphs" fill="#111"><tspan font-style="italic">p</tspan>&gt;0.5</text>
<text x="341.48" y="801.74" font-size="17.42" textLength="154.31" lengthAdjust="spacingAndGlyphs" fill="#111">Interevent interval(s)</text>
<text x="499.80" y="801.74" font-size="17.42" textLength="104.79" lengthAdjust="spacingAndGlyphs" fill="#111">Amplitude(pA)</text>
<line x1="65.90" y1="837.40" x2="65.90" y2="987.90" stroke="#111" stroke-width="1.6"/>
<line x1="62.70" y1="846.10" x2="65.90" y2="846.10" stroke="#111" stroke-width="1.6"/>
<text x="33.15" y="850.52" font-size="12.82" textLength="22.88" lengthAdjust="spacingAndGlyphs" fill="#111">240</text>
<line x1="62.70" y1="881.35" x2="65.90" y2="881.35" stroke="#111" stroke-width="1.6"/>
<text x="33.15" y="885.77" font-size="12.82" textLength="22.88" lengthAdjust="spacingAndGlyphs" fill="#111">200</text>
<line x1="62.70" y1="916.60" x2="65.90" y2="916.60" stroke="#111" stroke-width="1.6"/>
<text x="33.15" y="921.02" font-size="12.82" textLength="22.88" lengthAdjust="spacingAndGlyphs" fill="#111">160</text>
<line x1="62.70" y1="951.85" x2="65.90" y2="951.85" stroke="#111" stroke-width="1.6"/>
<text x="33.15" y="956.27" font-size="12.82" textLength="22.88" lengthAdjust="spacingAndGlyphs" fill="#111">120</text>
<line x1="62.70" y1="987.10" x2="65.90" y2="987.10" stroke="#111" stroke-width="1.6"/>
<text x="40.69" y="991.52" font-size="12.82" textLength="15.25" lengthAdjust="spacingAndGlyphs" fill="#111">80</text>
<line x1="65.10" y1="987.50" x2="337.40" y2="987.50" stroke="#111" stroke-width="1.6"/>
<line x1="83.00" y1="987.50" x2="83.00" y2="991.00" stroke="#111" stroke-width="1.6"/>
<text transform="translate(91.60,999.20) rotate(-54)" font-size="12.2" text-anchor="end" fill="#111">0</text>
<line x1="120.30" y1="987.50" x2="120.30" y2="991.00" stroke="#111" stroke-width="1.6"/>
<text transform="translate(126.10,1001.90) rotate(-54)" font-size="12.2" text-anchor="end" fill="#111">0.01</text>
<line x1="153.10" y1="987.50" x2="153.10" y2="991.00" stroke="#111" stroke-width="1.6"/>
<text transform="translate(158.90,1001.90) rotate(-54)" font-size="12.2" text-anchor="end" fill="#111">0.04</text>
<line x1="184.60" y1="987.50" x2="184.60" y2="991.00" stroke="#111" stroke-width="1.6"/>
<text transform="translate(190.40,1001.90) rotate(-54)" font-size="12.2" text-anchor="end" fill="#111">0.15</text>
<line x1="220.30" y1="987.50" x2="220.30" y2="991.00" stroke="#111" stroke-width="1.6"/>
<text transform="translate(226.10,1001.90) rotate(-54)" font-size="12.2" text-anchor="end" fill="#111">0.7</text>
<line x1="236.50" y1="987.50" x2="236.50" y2="991.00" stroke="#111" stroke-width="1.6"/>
<text transform="translate(242.30,1001.90) rotate(-54)" font-size="12.2" text-anchor="end" fill="#111">1.4</text>
<line x1="266.50" y1="987.50" x2="266.50" y2="991.00" stroke="#111" stroke-width="1.6"/>
<text transform="translate(273.30,1000.70) rotate(-54)" font-size="12.2" text-anchor="end" fill="#111">5</text>
<line x1="284.90" y1="987.50" x2="284.90" y2="991.00" stroke="#111" stroke-width="1.6"/>
<text transform="translate(290.70,1001.90) rotate(-54)" font-size="12.2" text-anchor="end" fill="#111">11</text>
<line x1="300.60" y1="987.50" x2="300.60" y2="991.00" stroke="#111" stroke-width="1.6"/>
<text transform="translate(306.40,1001.90) rotate(-54)" font-size="12.2" text-anchor="end" fill="#111">22</text>
<line x1="332.80" y1="987.50" x2="332.80" y2="991.00" stroke="#111" stroke-width="1.6"/>
<text transform="translate(338.60,1001.90) rotate(-54)" font-size="12.2" text-anchor="end" fill="#111">86</text>
<text x="159.38" y="1043.76" font-size="14.95" textLength="97.67" lengthAdjust="spacingAndGlyphs" fill="#111">[EtOH] (mM)</text>
<text transform="translate(20.50,1027.50) rotate(-90)" font-size="17.63" textLength="178.31" lengthAdjust="spacingAndGlyphs" fill="#111">sEPSCs (% of baseline)</text>
<circle cx="85.70" cy="848.80" r="3.6" fill="#111" stroke="none" stroke-width="0"/>
<circle cx="85.70" cy="870.40" r="3.6" fill="#fff" stroke="#111" stroke-width="1.9"/>
<text x="109.4" y="851.6" font-size="14.6" textLength="112.5" lengthAdjust="spacingAndGlyphs" fill="#111">Freq EC<tspan font-size="10.5" dy="3.5">50</tspan><tspan dy="-3.5">=1.4mM</tspan></text>
<text x="109.4" y="874" font-size="14.6" textLength="114.3" lengthAdjust="spacingAndGlyphs" fill="#111">AMP EC<tspan font-size="10.5" dy="3.5">50</tspan><tspan dy="-3.5">=0.4mM</tspan></text>
<polyline points="116.00,966.80 116.19,966.78 116.31,966.78 116.41,966.77 116.54,966.77 116.75,966.76 117.10,966.73 117.65,966.67 118.45,966.59 119.55,966.47 121.00,966.30 122.90,966.09 125.24,965.84 127.93,965.55 130.88,965.24 134.00,964.90 137.20,964.54 140.39,964.17 143.48,963.78 146.38,963.39 149.00,963.00 151.41,962.60 153.75,962.18 156.02,961.75 158.21,961.31 160.34,960.86 162.40,960.39 164.39,959.92 166.32,959.45 168.19,958.98 170.00,958.50 171.72,958.03 173.32,957.56 174.83,957.10 176.26,956.63 177.65,956.16 179.01,955.67 180.36,955.16 181.73,954.64 183.14,954.08 184.60,953.50 186.08,952.90 187.55,952.30 189.00,951.68 190.45,951.05 191.93,950.39 193.43,949.71 194.97,948.98 196.57,948.21 198.25,947.38 200.00,946.50 201.87,945.57 203.86,944.62 205.93,943.63 208.07,942.60 210.24,941.52 212.42,940.39 214.57,939.20 216.67,937.94 218.69,936.61 220.60,935.20 222.41,933.68 224.14,932.04 225.82,930.30 227.45,928.49 229.05,926.63 230.62,924.75 232.18,922.87 233.74,921.02 235.31,919.22 236.90,917.50 238.51,915.82 240.12,914.13 241.73,912.45 243.34,910.79 244.94,909.15 246.53,907.55 248.11,905.99 249.66,904.49 251.20,903.06 252.70,901.70 254.15,900.44 255.55,899.28 256.90,898.20 258.23,897.19 259.55,896.21 260.88,895.25 262.25,894.29 263.66,893.30 265.14,892.28 266.70,891.20 268.36,890.04 270.11,888.82 271.93,887.57 273.79,886.29 275.69,885.01 277.59,883.75 279.48,882.52 281.35,881.36 283.16,880.28 284.90,879.30 286.58,878.41 288.22,877.58 289.83,876.81 291.42,876.09 292.98,875.42 294.53,874.80 296.07,874.23 297.61,873.69 299.15,873.18 300.70,872.70 302.24,872.27 303.76,871.89 305.27,871.56 306.77,871.27 308.28,871.01 309.78,870.78 311.30,870.58 312.84,870.38 314.40,870.19 316.00,870.00 317.71,869.81 319.56,869.64 321.51,869.49 323.49,869.35 325.46,869.23 327.34,869.12 329.10,869.02 330.66,868.94 331.98,868.86 333.00,868.80" fill="none" stroke="#111" stroke-width="2" stroke-linejoin="round" stroke-linecap="round"/>
<polyline points="116.00,971.00 116.18,970.98 116.26,970.96 116.31,970.95 116.39,970.93 116.56,970.90 116.89,970.87 117.43,970.82 118.26,970.76 119.42,970.69 121.00,970.60 123.04,970.49 125.50,970.36 128.33,970.22 131.43,970.07 134.75,969.90 138.21,969.73 141.73,969.55 145.26,969.36 148.70,969.18 152.00,969.00 155.21,968.82 158.44,968.64 161.69,968.46 164.96,968.28 168.25,968.09 171.56,967.89 174.89,967.69 178.24,967.47 181.61,967.24 185.00,967.00 188.37,966.74 191.68,966.47 194.98,966.19 198.29,965.90 201.64,965.59 205.06,965.28 208.58,964.97 212.22,964.65 216.02,964.32 220.00,964.00 224.25,963.67 228.79,963.32 233.55,962.96 238.45,962.59 243.41,962.22 248.37,961.85 253.25,961.49 257.99,961.14 262.49,960.81 266.70,960.50 270.62,960.21 274.34,959.93 277.89,959.67 281.30,959.42 284.60,959.18 287.83,958.94 291.02,958.70 294.21,958.47 297.43,958.24 300.70,958.00 304.14,957.75 307.79,957.49 311.53,957.22 315.29,956.96 318.97,956.69 322.49,956.44 325.74,956.21 328.63,956.01 331.09,955.84 333.00,955.70" fill="none" stroke="#111" stroke-width="2" stroke-linejoin="round" stroke-linecap="round"/>
<line x1="82.60" y1="964.50" x2="82.60" y2="972.90" stroke="#111" stroke-width="1.8"/>
<line x1="78.30" y1="964.50" x2="86.90" y2="964.50" stroke="#111" stroke-width="1.8"/>
<line x1="78.30" y1="972.90" x2="86.90" y2="972.90" stroke="#111" stroke-width="1.8"/>
<line x1="120.30" y1="964.00" x2="120.30" y2="971.60" stroke="#111" stroke-width="1.8"/>
<line x1="116.00" y1="964.00" x2="124.60" y2="964.00" stroke="#111" stroke-width="1.8"/>
<line x1="116.00" y1="971.60" x2="124.60" y2="971.60" stroke="#111" stroke-width="1.8"/>
<line x1="153.10" y1="956.70" x2="153.10" y2="963.90" stroke="#111" stroke-width="1.8"/>
<line x1="148.80" y1="956.70" x2="157.40" y2="956.70" stroke="#111" stroke-width="1.8"/>
<line x1="148.80" y1="963.90" x2="157.40" y2="963.90" stroke="#111" stroke-width="1.8"/>
<line x1="184.60" y1="947.10" x2="184.60" y2="958.50" stroke="#111" stroke-width="1.8"/>
<line x1="180.30" y1="947.10" x2="188.90" y2="947.10" stroke="#111" stroke-width="1.8"/>
<line x1="180.30" y1="958.50" x2="188.90" y2="958.50" stroke="#111" stroke-width="1.8"/>
<line x1="220.50" y1="925.90" x2="220.50" y2="944.90" stroke="#111" stroke-width="1.8"/>
<line x1="216.20" y1="925.90" x2="224.80" y2="925.90" stroke="#111" stroke-width="1.8"/>
<line x1="216.20" y1="944.90" x2="224.80" y2="944.90" stroke="#111" stroke-width="1.8"/>
<line x1="236.60" y1="891.30" x2="236.60" y2="932.50" stroke="#111" stroke-width="1.8"/>
<line x1="232.30" y1="891.30" x2="240.90" y2="891.30" stroke="#111" stroke-width="1.8"/>
<line x1="232.30" y1="932.50" x2="240.90" y2="932.50" stroke="#111" stroke-width="1.8"/>
<line x1="266.60" y1="881.30" x2="266.60" y2="915.70" stroke="#111" stroke-width="1.8"/>
<line x1="262.30" y1="881.30" x2="270.90" y2="881.30" stroke="#111" stroke-width="1.8"/>
<line x1="262.30" y1="915.70" x2="270.90" y2="915.70" stroke="#111" stroke-width="1.8"/>
<line x1="285.00" y1="860.40" x2="285.00" y2="898.80" stroke="#111" stroke-width="1.8"/>
<line x1="280.70" y1="860.40" x2="289.30" y2="860.40" stroke="#111" stroke-width="1.8"/>
<line x1="280.70" y1="898.80" x2="289.30" y2="898.80" stroke="#111" stroke-width="1.8"/>
<line x1="301.40" y1="849.90" x2="301.40" y2="889.50" stroke="#111" stroke-width="1.8"/>
<line x1="297.10" y1="849.90" x2="305.70" y2="849.90" stroke="#111" stroke-width="1.8"/>
<line x1="297.10" y1="889.50" x2="305.70" y2="889.50" stroke="#111" stroke-width="1.8"/>
<line x1="333.50" y1="851.80" x2="333.50" y2="892.20" stroke="#111" stroke-width="1.8"/>
<line x1="329.20" y1="851.80" x2="337.80" y2="851.80" stroke="#111" stroke-width="1.8"/>
<line x1="329.20" y1="892.20" x2="337.80" y2="892.20" stroke="#111" stroke-width="1.8"/>
<line x1="82.60" y1="966.90" x2="82.60" y2="970.90" stroke="#111" stroke-width="1.8"/>
<line x1="78.30" y1="966.90" x2="86.90" y2="966.90" stroke="#111" stroke-width="1.8"/>
<line x1="120.30" y1="967.60" x2="120.30" y2="970.60" stroke="#111" stroke-width="1.8"/>
<line x1="116.00" y1="967.60" x2="124.60" y2="967.60" stroke="#111" stroke-width="1.8"/>
<line x1="153.10" y1="966.50" x2="153.10" y2="969.50" stroke="#111" stroke-width="1.8"/>
<line x1="148.80" y1="966.50" x2="157.40" y2="966.50" stroke="#111" stroke-width="1.8"/>
<line x1="184.60" y1="963.80" x2="184.60" y2="966.80" stroke="#111" stroke-width="1.8"/>
<line x1="180.30" y1="963.80" x2="188.90" y2="963.80" stroke="#111" stroke-width="1.8"/>
<line x1="220.50" y1="961.20" x2="220.50" y2="964.20" stroke="#111" stroke-width="1.8"/>
<line x1="216.20" y1="961.20" x2="224.80" y2="961.20" stroke="#111" stroke-width="1.8"/>
<line x1="236.60" y1="955.70" x2="236.60" y2="960.80" stroke="#111" stroke-width="1.8"/>
<line x1="232.30" y1="955.70" x2="240.90" y2="955.70" stroke="#111" stroke-width="1.8"/>
<line x1="266.60" y1="954.50" x2="266.60" y2="960.30" stroke="#111" stroke-width="1.8"/>
<line x1="262.30" y1="954.50" x2="270.90" y2="954.50" stroke="#111" stroke-width="1.8"/>
<line x1="285.00" y1="956.40" x2="285.00" y2="960.30" stroke="#111" stroke-width="1.8"/>
<line x1="280.70" y1="956.40" x2="289.30" y2="956.40" stroke="#111" stroke-width="1.8"/>
<line x1="301.40" y1="951.50" x2="301.40" y2="956.80" stroke="#111" stroke-width="1.8"/>
<line x1="297.10" y1="951.50" x2="305.70" y2="951.50" stroke="#111" stroke-width="1.8"/>
<line x1="333.50" y1="951.00" x2="333.50" y2="955.70" stroke="#111" stroke-width="1.8"/>
<line x1="329.20" y1="951.00" x2="337.80" y2="951.00" stroke="#111" stroke-width="1.8"/>
<circle cx="82.60" cy="968.70" r="3.7" fill="#111" stroke="none" stroke-width="0"/>
<circle cx="120.30" cy="967.80" r="3.7" fill="#111" stroke="none" stroke-width="0"/>
<circle cx="153.10" cy="960.30" r="3.7" fill="#111" stroke="none" stroke-width="0"/>
<circle cx="184.60" cy="952.80" r="3.7" fill="#111" stroke="none" stroke-width="0"/>
<circle cx="220.50" cy="935.40" r="3.7" fill="#111" stroke="none" stroke-width="0"/>
<circle cx="236.60" cy="911.90" r="3.7" fill="#111" stroke="none" stroke-width="0"/>
<circle cx="266.60" cy="898.50" r="3.7" fill="#111" stroke="none" stroke-width="0"/>
<circle cx="285.00" cy="879.60" r="3.7" fill="#111" stroke="none" stroke-width="0"/>
<circle cx="301.40" cy="869.70" r="3.7" fill="#111" stroke="none" stroke-width="0"/>
<circle cx="333.50" cy="872.00" r="3.7" fill="#111" stroke="none" stroke-width="0"/>
<circle cx="82.60" cy="970.90" r="3.6" fill="#fff" stroke="#111" stroke-width="1.9"/>
<circle cx="120.30" cy="970.60" r="3.6" fill="#fff" stroke="#111" stroke-width="1.9"/>
<circle cx="153.10" cy="969.50" r="3.6" fill="#fff" stroke="#111" stroke-width="1.9"/>
<circle cx="184.60" cy="966.80" r="3.6" fill="#fff" stroke="#111" stroke-width="1.9"/>
<circle cx="220.50" cy="964.20" r="3.6" fill="#fff" stroke="#111" stroke-width="1.9"/>
<circle cx="236.60" cy="960.80" r="3.6" fill="#fff" stroke="#111" stroke-width="1.9"/>
<circle cx="266.60" cy="960.30" r="3.6" fill="#fff" stroke="#111" stroke-width="1.9"/>
<circle cx="285.00" cy="960.30" r="3.6" fill="#fff" stroke="#111" stroke-width="1.9"/>
<circle cx="301.40" cy="956.80" r="3.6" fill="#fff" stroke="#111" stroke-width="1.9"/>
<circle cx="333.50" cy="955.70" r="3.6" fill="#fff" stroke="#111" stroke-width="1.9"/>
<text x="75.76" y="959.30" font-size="12.86" textLength="15.84" lengthAdjust="spacingAndGlyphs" fill="#111">12</text>
<text x="117.60" y="956.57" font-size="12.96" textLength="8.40" lengthAdjust="spacingAndGlyphs" fill="#111">8</text>
<text x="145.63" y="952.20" font-size="13.04" textLength="13.92" lengthAdjust="spacingAndGlyphs" fill="#111">11</text>
<text x="179.23" y="942.10" font-size="13.04" textLength="13.92" lengthAdjust="spacingAndGlyphs" fill="#111">11</text>
<text x="214.34" y="918.80" font-size="13.14" textLength="14.72" lengthAdjust="spacingAndGlyphs" fill="#111">12</text>
<text x="229.73" y="945.18" font-size="12.43" textLength="14.90" lengthAdjust="spacingAndGlyphs" fill="#111">15</text>
<text x="259.93" y="927.87" font-size="12.96" textLength="14.83" lengthAdjust="spacingAndGlyphs" fill="#111">19</text>
<text x="277.23" y="912.47" font-size="13.10" textLength="14.83" lengthAdjust="spacingAndGlyphs" fill="#111">18</text>
<text x="293.93" y="902.47" font-size="12.96" textLength="14.94" lengthAdjust="spacingAndGlyphs" fill="#111">16</text>
<text x="326.84" y="906.46" font-size="13.86" textLength="14.68" lengthAdjust="spacingAndGlyphs" fill="#111">15</text>
<text x="263.39" y="879.93" font-size="16.57" textLength="6.12" lengthAdjust="spacingAndGlyphs" fill="#111">*</text>
<text x="278.58" y="861.93" font-size="17.14" textLength="12.62" lengthAdjust="spacingAndGlyphs" fill="#111">**</text>
<text x="292.86" y="849.23" font-size="17.14" textLength="19.63" lengthAdjust="spacingAndGlyphs" fill="#111">***</text>
<text x="323.96" y="850.83" font-size="17.14" textLength="19.63" lengthAdjust="spacingAndGlyphs" fill="#111">***</text>
<text x="264.49" y="978.04" font-size="15.71" textLength="6.01" lengthAdjust="spacingAndGlyphs" fill="#111">*</text>
<text x="282.49" y="982.14" font-size="16.00" textLength="6.01" lengthAdjust="spacingAndGlyphs" fill="#111">*</text>
<text x="296.37" y="976.03" font-size="17.14" textLength="12.83" lengthAdjust="spacingAndGlyphs" fill="#111">**</text>
<text x="325.18" y="976.03" font-size="17.14" textLength="12.62" lengthAdjust="spacingAndGlyphs" fill="#111">**</text>
<line x1="440.10" y1="869.30" x2="440.10" y2="989.30" stroke="#111" stroke-width="1.6"/>
<line x1="436.90" y1="869.30" x2="440.10" y2="869.30" stroke="#111" stroke-width="1.6"/>
<text x="407.16" y="873.67" font-size="12.68" textLength="23.68" lengthAdjust="spacingAndGlyphs" fill="#111">250</text>
<line x1="436.90" y1="909.03" x2="440.10" y2="909.03" stroke="#111" stroke-width="1.6"/>
<text x="407.16" y="913.40" font-size="12.68" textLength="23.68" lengthAdjust="spacingAndGlyphs" fill="#111">200</text>
<line x1="436.90" y1="948.76" x2="440.10" y2="948.76" stroke="#111" stroke-width="1.6"/>
<text x="407.16" y="953.13" font-size="12.68" textLength="23.68" lengthAdjust="spacingAndGlyphs" fill="#111">150</text>
<line x1="436.90" y1="988.49" x2="440.10" y2="988.49" stroke="#111" stroke-width="1.6"/>
<text x="407.16" y="992.86" font-size="12.68" textLength="23.68" lengthAdjust="spacingAndGlyphs" fill="#111">100</text>
<line x1="439.30" y1="988.50" x2="600.50" y2="988.50" stroke="#111" stroke-width="1.6"/>
<line x1="480.00" y1="907.90" x2="480.00" y2="889.10" stroke="#111" stroke-width="1.6"/>
<line x1="474.00" y1="889.10" x2="486.50" y2="889.10" stroke="#111" stroke-width="1.6"/>
<rect x="465.70" y="907.90" width="28.50" height="80.60" fill="#fff" stroke="#111" stroke-width="1.6"/>
<line x1="519.30" y1="934.00" x2="519.30" y2="923.50" stroke="#111" stroke-width="1.6"/>
<line x1="513.00" y1="923.50" x2="525.80" y2="923.50" stroke="#111" stroke-width="1.6"/>
<rect x="504.70" y="934.00" width="29.30" height="54.50" fill="#fff" stroke="#111" stroke-width="1.6"/>
<line x1="559.60" y1="905.10" x2="559.60" y2="879.70" stroke="#111" stroke-width="1.6"/>
<line x1="553.20" y1="879.70" x2="566.00" y2="879.70" stroke="#111" stroke-width="1.6"/>
<rect x="545.00" y="905.10" width="29.20" height="83.40" fill="#fff" stroke="#111" stroke-width="1.6"/>
<text x="472.40" y="974.05" font-size="14.79" textLength="15.28" lengthAdjust="spacingAndGlyphs" fill="#111">18</text>
<text x="511.26" y="974.20" font-size="15.22" textLength="17.18" lengthAdjust="spacingAndGlyphs" fill="#111">14</text>
<text x="555.87" y="974.05" font-size="14.79" textLength="8.10" lengthAdjust="spacingAndGlyphs" fill="#111">9</text>
<polyline points="478.00,879.00 478.00,849.30 538.70,849.30 538.70,863.70" fill="none" stroke="#111" stroke-width="1.6" stroke-linejoin="round" stroke-linecap="round"/>
<line x1="516.40" y1="868.50" x2="562.10" y2="868.50" stroke="#111" stroke-width="1.6"/>
<text x="494.56" y="844.08" font-size="12.11" textLength="19.85" lengthAdjust="spacingAndGlyphs" fill="#111">NS</text>
<text transform="translate(379.84,998.70) rotate(-90)" font-size="15.05" textLength="132.74" lengthAdjust="spacingAndGlyphs" fill="#111">sEPSC frequency</text>
<text transform="translate(398.99,993.23) rotate(-90)" font-size="12.90" textLength="114.25" lengthAdjust="spacingAndGlyphs" fill="#111">(% of baseline)</text>
<text x="459.27" y="1013.37" font-size="12.82" textLength="34.42" lengthAdjust="spacingAndGlyphs" fill="#111">EtOH</text>
<text x="506.03" y="1013.50" font-size="13.19" textLength="33.04" lengthAdjust="spacingAndGlyphs" fill="#111">TTX+</text>
<text x="504.47" y="1028.27" font-size="12.96" textLength="34.42" lengthAdjust="spacingAndGlyphs" fill="#111">EtOH</text>
<text x="542.72" y="1013.38" font-size="12.47" textLength="30.44" lengthAdjust="spacingAndGlyphs" fill="#111">CdCl</text>
<text x="572.96" y="1017.20" font-size="8.86" textLength="6.04" lengthAdjust="spacingAndGlyphs" fill="#111">2</text>
<text x="579.00" y="1013.79" font-size="14.29" textLength="8.22" lengthAdjust="spacingAndGlyphs" fill="#111">+</text>
<text x="547.69" y="1032.47" font-size="12.96" textLength="33.99" lengthAdjust="spacingAndGlyphs" fill="#111">EtOH</text>
</svg>
</body></html>
